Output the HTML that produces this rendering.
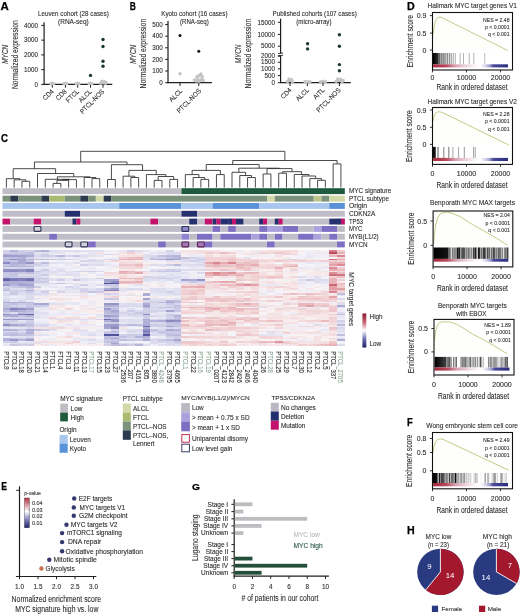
<!DOCTYPE html><html><head><meta charset="utf-8"><title>Figure</title><style>html,body{margin:0;padding:0;background:#fff;width:520px;height:614px;overflow:hidden}svg{display:block}</style></head><body><svg width="520" height="614" viewBox="0 0 520 614" font-family="'Liberation Sans', Arial, sans-serif" fill="#2b2b2b">
<rect x="0.00" y="0.00" width="520.00" height="614.00" fill="#ffffff" />
<text x="0.60" y="10.00" font-size="11.03" font-weight="bold" fill="#000" stroke="#000" stroke-width="0.25" textLength="8.30" lengthAdjust="spacingAndGlyphs">A</text>
<text x="38.00" y="16.15" font-size="6.80" textLength="70.80" lengthAdjust="spacingAndGlyphs" stroke="#2b2b2b" stroke-width="0.2" stroke-opacity="0.45">Leuven cohort (28 cases)</text>
<text x="58.00" y="24.25" font-size="6.80" textLength="30.80" lengthAdjust="spacingAndGlyphs" stroke="#2b2b2b" stroke-width="0.2" stroke-opacity="0.45">(RNA-seq)</text>
<line x1="44.10" y1="22.30" x2="44.10" y2="85.00" stroke="#1e1e1e" stroke-width="1.2" />
<line x1="43.50" y1="84.40" x2="112.30" y2="84.40" stroke="#1e1e1e" stroke-width="1.2" />
<line x1="41.30" y1="25.40" x2="44.10" y2="25.40" stroke="#1e1e1e" stroke-width="1.0" />
<text x="38.00" y="27.67" font-size="6.30" text-anchor="end" stroke="#2b2b2b" stroke-width="0.2" stroke-opacity="0.45">4000</text>
<line x1="41.30" y1="40.15" x2="44.10" y2="40.15" stroke="#1e1e1e" stroke-width="1.0" />
<text x="38.00" y="42.42" font-size="6.30" text-anchor="end" stroke="#2b2b2b" stroke-width="0.2" stroke-opacity="0.45">3000</text>
<line x1="41.30" y1="54.90" x2="44.10" y2="54.90" stroke="#1e1e1e" stroke-width="1.0" />
<text x="38.00" y="57.17" font-size="6.30" text-anchor="end" stroke="#2b2b2b" stroke-width="0.2" stroke-opacity="0.45">2000</text>
<line x1="41.30" y1="69.65" x2="44.10" y2="69.65" stroke="#1e1e1e" stroke-width="1.0" />
<text x="38.00" y="71.92" font-size="6.30" text-anchor="end" stroke="#2b2b2b" stroke-width="0.2" stroke-opacity="0.45">1000</text>
<line x1="41.30" y1="84.40" x2="44.10" y2="84.40" stroke="#1e1e1e" stroke-width="1.0" />
<text x="38.00" y="86.67" font-size="6.30" text-anchor="end" stroke="#2b2b2b" stroke-width="0.2" stroke-opacity="0.45">0</text>
<line x1="52.30" y1="84.40" x2="52.30" y2="87.70" stroke="#1e1e1e" stroke-width="1.0" />
<line x1="65.40" y1="84.40" x2="65.40" y2="87.70" stroke="#1e1e1e" stroke-width="1.0" />
<line x1="77.70" y1="84.40" x2="77.70" y2="87.70" stroke="#1e1e1e" stroke-width="1.0" />
<line x1="90.50" y1="84.40" x2="90.50" y2="87.70" stroke="#1e1e1e" stroke-width="1.0" />
<line x1="103.00" y1="84.40" x2="103.00" y2="87.70" stroke="#1e1e1e" stroke-width="1.0" />
<text transform="translate(14.90,54.60) rotate(-90)" x="0" y="3.06" font-size="8.50" text-anchor="middle" textLength="68.90" lengthAdjust="spacingAndGlyphs" stroke="#2b2b2b" stroke-width="0.2" stroke-opacity="0.45">Normalized expression</text>
<text transform="translate(4.40,54.30) rotate(-90)" x="0" y="3.24" font-size="9.00" font-style="italic" text-anchor="middle" textLength="19.00" lengthAdjust="spacingAndGlyphs" stroke="#2b2b2b" stroke-width="0.2" stroke-opacity="0.45">MYCN</text>
<circle cx="50.80" cy="83.60" r="1.7" fill="#c4c4c6" />
<circle cx="53.80" cy="83.60" r="1.7" fill="#c4c4c6" />
<circle cx="52.30" cy="83.30" r="1.7" fill="#c4c4c6" />
<circle cx="63.90" cy="83.60" r="1.7" fill="#c4c4c6" />
<circle cx="66.90" cy="83.60" r="1.7" fill="#c4c4c6" />
<circle cx="65.40" cy="83.30" r="1.7" fill="#c4c4c6" />
<circle cx="76.20" cy="83.60" r="1.7" fill="#c4c4c6" />
<circle cx="79.20" cy="83.60" r="1.7" fill="#c4c4c6" />
<circle cx="77.70" cy="83.30" r="1.7" fill="#c4c4c6" />
<circle cx="89.00" cy="83.60" r="1.7" fill="#c4c4c6" />
<circle cx="92.00" cy="83.60" r="1.7" fill="#c4c4c6" />
<circle cx="90.50" cy="83.30" r="1.7" fill="#c4c4c6" />
<circle cx="100.50" cy="83.30" r="1.7" fill="#c4c4c6" />
<circle cx="105.50" cy="83.30" r="1.7" fill="#c4c4c6" />
<circle cx="103.00" cy="82.80" r="1.7" fill="#c4c4c6" />
<circle cx="102.00" cy="81.30" r="1.7" fill="#c4c4c6" />
<circle cx="104.50" cy="81.80" r="1.7" fill="#c4c4c6" />
<circle cx="106.00" cy="82.50" r="1.7" fill="#c4c4c6" />
<circle cx="90.50" cy="75.40" r="1.7" fill="#1c3a31" />
<circle cx="103.00" cy="39.50" r="1.7" fill="#1c3a31" />
<circle cx="103.00" cy="46.50" r="1.7" fill="#1c3a31" />
<circle cx="103.00" cy="61.20" r="1.7" fill="#1c3a31" />
<circle cx="103.00" cy="66.20" r="1.7" fill="#1c3a31" />
<text transform="translate(54.10,92.00) rotate(-45)" x="0" y="0" font-size="6.8" textLength="12.40" lengthAdjust="spacingAndGlyphs" text-anchor="end" stroke="#2b2b2b" stroke-width="0.2" stroke-opacity="0.45">CD4</text>
<text transform="translate(67.20,92.00) rotate(-45)" x="0" y="0" font-size="6.8" textLength="12.40" lengthAdjust="spacingAndGlyphs" text-anchor="end" stroke="#2b2b2b" stroke-width="0.2" stroke-opacity="0.45">CD8</text>
<text transform="translate(79.50,92.00) rotate(-45)" x="0" y="0" font-size="6.8" textLength="15.50" lengthAdjust="spacingAndGlyphs" text-anchor="end" stroke="#2b2b2b" stroke-width="0.2" stroke-opacity="0.45">FTCL</text>
<text transform="translate(92.30,92.00) rotate(-45)" x="0" y="0" font-size="6.8" textLength="15.51" lengthAdjust="spacingAndGlyphs" text-anchor="end" stroke="#2b2b2b" stroke-width="0.2" stroke-opacity="0.45">ALCL</text>
<text transform="translate(104.80,92.00) rotate(-45)" x="0" y="0" font-size="6.8" textLength="31.35" lengthAdjust="spacingAndGlyphs" text-anchor="end" stroke="#2b2b2b" stroke-width="0.2" stroke-opacity="0.45">PTCL-NOS</text>
<text x="129.70" y="9.50" font-size="10.20" font-weight="bold" fill="#000" stroke="#000" stroke-width="0.25" textLength="6.10" lengthAdjust="spacingAndGlyphs">B</text>
<text x="161.20" y="16.15" font-size="6.80" textLength="66.30" lengthAdjust="spacingAndGlyphs" stroke="#2b2b2b" stroke-width="0.2" stroke-opacity="0.45">Kyoto cohort (16 cases)</text>
<text x="180.00" y="24.25" font-size="6.80" textLength="28.80" lengthAdjust="spacingAndGlyphs" stroke="#2b2b2b" stroke-width="0.2" stroke-opacity="0.45">(RNA-seq)</text>
<line x1="168.00" y1="21.00" x2="168.00" y2="83.30" stroke="#1e1e1e" stroke-width="1.2" />
<line x1="167.40" y1="82.70" x2="211.90" y2="82.70" stroke="#1e1e1e" stroke-width="1.2" />
<line x1="165.20" y1="24.60" x2="168.00" y2="24.60" stroke="#1e1e1e" stroke-width="1.0" />
<text x="162.80" y="26.87" font-size="6.30" text-anchor="end" stroke="#2b2b2b" stroke-width="0.2" stroke-opacity="0.45">500</text>
<line x1="165.20" y1="36.20" x2="168.00" y2="36.20" stroke="#1e1e1e" stroke-width="1.0" />
<text x="162.80" y="38.47" font-size="6.30" text-anchor="end" stroke="#2b2b2b" stroke-width="0.2" stroke-opacity="0.45">400</text>
<line x1="165.20" y1="47.80" x2="168.00" y2="47.80" stroke="#1e1e1e" stroke-width="1.0" />
<text x="162.80" y="50.07" font-size="6.30" text-anchor="end" stroke="#2b2b2b" stroke-width="0.2" stroke-opacity="0.45">300</text>
<line x1="165.20" y1="59.40" x2="168.00" y2="59.40" stroke="#1e1e1e" stroke-width="1.0" />
<text x="162.80" y="61.67" font-size="6.30" text-anchor="end" stroke="#2b2b2b" stroke-width="0.2" stroke-opacity="0.45">200</text>
<line x1="165.20" y1="71.00" x2="168.00" y2="71.00" stroke="#1e1e1e" stroke-width="1.0" />
<text x="162.80" y="73.27" font-size="6.30" text-anchor="end" stroke="#2b2b2b" stroke-width="0.2" stroke-opacity="0.45">100</text>
<line x1="165.20" y1="82.70" x2="168.00" y2="82.70" stroke="#1e1e1e" stroke-width="1.0" />
<text x="162.80" y="84.97" font-size="6.30" text-anchor="end" stroke="#2b2b2b" stroke-width="0.2" stroke-opacity="0.45">0</text>
<line x1="180.00" y1="82.70" x2="180.00" y2="86.00" stroke="#1e1e1e" stroke-width="1.0" />
<line x1="198.80" y1="82.70" x2="198.80" y2="86.00" stroke="#1e1e1e" stroke-width="1.0" />
<text transform="translate(142.90,53.60) rotate(-90)" x="0" y="3.06" font-size="8.50" text-anchor="middle" textLength="69.60" lengthAdjust="spacingAndGlyphs" stroke="#2b2b2b" stroke-width="0.2" stroke-opacity="0.45">Normalized expression</text>
<text transform="translate(132.40,54.30) rotate(-90)" x="0" y="3.24" font-size="9.00" font-style="italic" text-anchor="middle" textLength="19.00" lengthAdjust="spacingAndGlyphs" stroke="#2b2b2b" stroke-width="0.2" stroke-opacity="0.45">MYCN</text>
<circle cx="180.00" cy="35.60" r="1.5" fill="#111" />
<circle cx="198.80" cy="51.30" r="1.5" fill="#111" />
<circle cx="180.00" cy="73.80" r="1.7" fill="#c4c4c6" />
<circle cx="194.30" cy="80.00" r="1.7" fill="#c4c4c6" />
<circle cx="196.30" cy="81.00" r="1.7" fill="#c4c4c6" />
<circle cx="197.80" cy="79.50" r="1.7" fill="#c4c4c6" />
<circle cx="200.30" cy="80.50" r="1.7" fill="#c4c4c6" />
<circle cx="201.80" cy="79.00" r="1.7" fill="#c4c4c6" />
<circle cx="203.30" cy="80.50" r="1.7" fill="#c4c4c6" />
<circle cx="196.80" cy="77.00" r="1.7" fill="#c4c4c6" />
<circle cx="199.80" cy="75.50" r="1.7" fill="#c4c4c6" />
<circle cx="200.80" cy="74.00" r="1.7" fill="#c4c4c6" />
<circle cx="198.30" cy="76.00" r="1.7" fill="#c4c4c6" />
<circle cx="202.30" cy="76.50" r="1.7" fill="#c4c4c6" />
<circle cx="198.80" cy="81.30" r="1.7" fill="#c4c4c6" />
<text transform="translate(182.80,91.40) rotate(-45)" x="0" y="0" font-size="6.8" textLength="15.51" lengthAdjust="spacingAndGlyphs" text-anchor="end" stroke="#2b2b2b" stroke-width="0.2" stroke-opacity="0.45">ALCL</text>
<text transform="translate(201.60,91.40) rotate(-45)" x="0" y="0" font-size="6.8" textLength="31.35" lengthAdjust="spacingAndGlyphs" text-anchor="end" stroke="#2b2b2b" stroke-width="0.2" stroke-opacity="0.45">PTCL-NOS</text>
<text x="272.50" y="16.35" font-size="6.80" textLength="84.30" lengthAdjust="spacingAndGlyphs" stroke="#2b2b2b" stroke-width="0.2" stroke-opacity="0.45">Published cohorts (107 cases)</text>
<text x="296.20" y="24.25" font-size="6.80" textLength="35.30" lengthAdjust="spacingAndGlyphs" stroke="#2b2b2b" stroke-width="0.2" stroke-opacity="0.45">(micro-array)</text>
<line x1="280.60" y1="18.80" x2="280.60" y2="53.30" stroke="#1e1e1e" stroke-width="1.2" />
<line x1="280.60" y1="55.40" x2="280.60" y2="82.90" stroke="#1e1e1e" stroke-width="1.2" />
<line x1="278.10" y1="53.50" x2="283.10" y2="53.00" stroke="#1e1e1e" stroke-width="0.9" />
<line x1="278.10" y1="55.70" x2="283.10" y2="55.20" stroke="#1e1e1e" stroke-width="0.9" />
<line x1="280.00" y1="82.70" x2="350.80" y2="82.70" stroke="#1e1e1e" stroke-width="1.2" />
<line x1="277.80" y1="22.30" x2="280.60" y2="22.30" stroke="#1e1e1e" stroke-width="1.0" />
<text x="274.90" y="24.57" font-size="6.30" text-anchor="end" stroke="#2b2b2b" stroke-width="0.2" stroke-opacity="0.45">15000</text>
<line x1="277.80" y1="34.40" x2="280.60" y2="34.40" stroke="#1e1e1e" stroke-width="1.0" />
<text x="274.90" y="36.67" font-size="6.30" text-anchor="end" stroke="#2b2b2b" stroke-width="0.2" stroke-opacity="0.45">10000</text>
<line x1="277.80" y1="46.20" x2="280.60" y2="46.20" stroke="#1e1e1e" stroke-width="1.0" />
<text x="274.90" y="48.47" font-size="6.30" text-anchor="end" stroke="#2b2b2b" stroke-width="0.2" stroke-opacity="0.45">5000</text>
<line x1="277.80" y1="56.20" x2="280.60" y2="56.20" stroke="#1e1e1e" stroke-width="1.0" />
<text x="274.90" y="58.47" font-size="6.30" text-anchor="end" stroke="#2b2b2b" stroke-width="0.2" stroke-opacity="0.45">2000</text>
<line x1="277.80" y1="62.20" x2="280.60" y2="62.20" stroke="#1e1e1e" stroke-width="1.0" />
<text x="274.90" y="64.47" font-size="6.30" text-anchor="end" stroke="#2b2b2b" stroke-width="0.2" stroke-opacity="0.45">1500</text>
<line x1="277.80" y1="68.90" x2="280.60" y2="68.90" stroke="#1e1e1e" stroke-width="1.0" />
<text x="274.90" y="71.17" font-size="6.30" text-anchor="end" stroke="#2b2b2b" stroke-width="0.2" stroke-opacity="0.45">1000</text>
<line x1="277.80" y1="75.60" x2="280.60" y2="75.60" stroke="#1e1e1e" stroke-width="1.0" />
<text x="274.90" y="77.87" font-size="6.30" text-anchor="end" stroke="#2b2b2b" stroke-width="0.2" stroke-opacity="0.45">500</text>
<line x1="277.80" y1="82.70" x2="280.60" y2="82.70" stroke="#1e1e1e" stroke-width="1.0" />
<text x="274.90" y="84.97" font-size="6.30" text-anchor="end" stroke="#2b2b2b" stroke-width="0.2" stroke-opacity="0.45">0</text>
<line x1="290.00" y1="82.70" x2="290.00" y2="86.00" stroke="#1e1e1e" stroke-width="1.0" />
<line x1="307.40" y1="82.70" x2="307.40" y2="86.00" stroke="#1e1e1e" stroke-width="1.0" />
<line x1="323.00" y1="82.70" x2="323.00" y2="86.00" stroke="#1e1e1e" stroke-width="1.0" />
<line x1="339.40" y1="82.70" x2="339.40" y2="86.00" stroke="#1e1e1e" stroke-width="1.0" />
<text transform="translate(248.00,53.60) rotate(-90)" x="0" y="3.06" font-size="8.50" text-anchor="middle" textLength="69.60" lengthAdjust="spacingAndGlyphs" stroke="#2b2b2b" stroke-width="0.2" stroke-opacity="0.45">Normalized expression</text>
<text transform="translate(237.50,53.90) rotate(-90)" x="0" y="3.24" font-size="9.00" font-style="italic" text-anchor="middle" textLength="18.50" lengthAdjust="spacingAndGlyphs" stroke="#2b2b2b" stroke-width="0.2" stroke-opacity="0.45">MYCN</text>
<circle cx="287.50" cy="81.50" r="1.7" fill="#c4c4c6" />
<circle cx="290.00" cy="80.50" r="1.7" fill="#c4c4c6" />
<circle cx="292.50" cy="81.80" r="1.7" fill="#c4c4c6" />
<circle cx="289.00" cy="79.00" r="1.7" fill="#c4c4c6" />
<circle cx="291.50" cy="79.70" r="1.7" fill="#c4c4c6" />
<circle cx="304.90" cy="81.80" r="1.7" fill="#c4c4c6" />
<circle cx="307.40" cy="81.80" r="1.7" fill="#c4c4c6" />
<circle cx="309.90" cy="81.80" r="1.7" fill="#c4c4c6" />
<circle cx="320.50" cy="81.80" r="1.7" fill="#c4c4c6" />
<circle cx="323.00" cy="81.30" r="1.7" fill="#c4c4c6" />
<circle cx="325.50" cy="81.80" r="1.7" fill="#c4c4c6" />
<circle cx="336.20" cy="81.40" r="1.7" fill="#c4c4c6" />
<circle cx="339.20" cy="80.40" r="1.7" fill="#c4c4c6" />
<circle cx="342.20" cy="81.60" r="1.7" fill="#c4c4c6" />
<circle cx="337.70" cy="78.90" r="1.7" fill="#c4c4c6" />
<circle cx="340.70" cy="79.20" r="1.7" fill="#c4c4c6" />
<circle cx="343.20" cy="80.40" r="1.7" fill="#c4c4c6" />
<circle cx="307.60" cy="43.80" r="1.7" fill="#1c3a31" />
<circle cx="307.60" cy="48.90" r="1.7" fill="#1c3a31" />
<circle cx="339.40" cy="34.80" r="1.7" fill="#1c3a31" />
<circle cx="339.40" cy="46.20" r="1.7" fill="#1c3a31" />
<circle cx="339.40" cy="64.60" r="1.7" fill="#1c3a31" />
<circle cx="339.40" cy="70.80" r="1.7" fill="#1c3a31" />
<text transform="translate(292.00,90.60) rotate(-45)" x="0" y="0" font-size="6.8" textLength="12.40" lengthAdjust="spacingAndGlyphs" text-anchor="end" stroke="#2b2b2b" stroke-width="0.2" stroke-opacity="0.45">CD4</text>
<text transform="translate(309.40,90.60) rotate(-45)" x="0" y="0" font-size="6.8" textLength="15.51" lengthAdjust="spacingAndGlyphs" text-anchor="end" stroke="#2b2b2b" stroke-width="0.2" stroke-opacity="0.45">ALCL</text>
<text transform="translate(325.00,90.60) rotate(-45)" x="0" y="0" font-size="6.8" textLength="13.09" lengthAdjust="spacingAndGlyphs" text-anchor="end" stroke="#2b2b2b" stroke-width="0.2" stroke-opacity="0.45">AITL</text>
<text transform="translate(341.20,90.60) rotate(-45)" x="0" y="0" font-size="6.8" textLength="31.35" lengthAdjust="spacingAndGlyphs" text-anchor="end" stroke="#2b2b2b" stroke-width="0.2" stroke-opacity="0.45">PTCL-NOS</text>
<text x="407.10" y="10.00" font-size="10.34" font-weight="bold" fill="#000" stroke="#000" stroke-width="0.25" textLength="7.70" lengthAdjust="spacingAndGlyphs">D</text>
<polygon points="433.20,50.00 433.20,34.00 434.20,26.00 435.50,21.00 437.00,18.20 439.00,17.00 441.00,17.20 508.00,50.60 508.00,50.00" fill="#fefefa"/>
<polyline points="433.20,34.00 434.20,26.00 435.50,21.00 437.00,18.20 439.00,17.00 441.00,17.20 508.00,50.60" fill="none" stroke="#b5bf6a" stroke-width="0.8"/>
<defs><linearGradient id="bg1" x1="0" x2="1" y1="0" y2="0"><stop offset="0" stop-color="rgb(0,0,0)"/><stop offset="1" stop-color="rgb(50,50,50)"/></linearGradient></defs>
<rect x="433.00" y="53.00" width="5.60" height="11.30" fill="url(#bg1)" />
<rect x="438.65" y="53.00" width="1.10" height="11.30" fill="rgb(50,50,50)" />
<rect x="440.55" y="53.00" width="1.10" height="11.30" fill="rgb(63,63,63)" />
<rect x="442.55" y="53.00" width="1.10" height="11.30" fill="rgb(71,71,71)" />
<rect x="444.45" y="53.00" width="1.10" height="11.30" fill="rgb(89,89,89)" />
<rect x="446.65" y="53.00" width="1.10" height="11.30" fill="rgb(102,102,102)" />
<rect x="448.75" y="53.00" width="1.10" height="11.30" fill="rgb(127,127,127)" />
<rect x="450.70" y="53.00" width="1.00" height="11.30" fill="rgb(140,140,140)" />
<rect x="452.70" y="53.00" width="1.00" height="11.30" fill="rgb(158,158,158)" />
<rect x="454.80" y="53.00" width="1.00" height="11.30" fill="rgb(178,178,178)" />
<rect x="459.70" y="53.00" width="1.00" height="11.30" fill="rgb(178,178,178)" />
<rect x="463.00" y="53.00" width="1.00" height="11.30" fill="rgb(178,178,178)" />
<rect x="468.70" y="53.00" width="1.00" height="11.30" fill="rgb(178,178,178)" />
<rect x="473.30" y="53.00" width="1.00" height="11.30" fill="rgb(178,178,178)" />
<rect x="484.20" y="53.00" width="1.00" height="11.30" fill="rgb(191,191,191)" />
<defs><linearGradient id="cb1" x1="0" x2="1" y1="0" y2="0"><stop offset="0" stop-color="#a8283c"/><stop offset="0.17" stop-color="#b6485a"/><stop offset="0.3" stop-color="#d8a2b2"/><stop offset="0.45" stop-color="#eed6e0"/><stop offset="0.56" stop-color="#faf4f8"/><stop offset="0.63" stop-color="#ffffff"/><stop offset="0.7" stop-color="#d4d4ec"/><stop offset="0.76" stop-color="#9a9acc"/><stop offset="0.8" stop-color="#4a4a9c"/><stop offset="1" stop-color="#2c2c7c"/></linearGradient></defs>
<rect x="433.10" y="64.30" width="74.90" height="3.10" fill="url(#cb1)" />
<rect x="432.50" y="12.50" width="80.00" height="57.50" fill="none" stroke="#111" stroke-width="1.1"/>
<line x1="429.90" y1="15.60" x2="432.50" y2="15.60" stroke="#1e1e1e" stroke-width="0.9" />
<text x="426.50" y="18.12" font-size="7.00" text-anchor="end" stroke="#2b2b2b" stroke-width="0.2" stroke-opacity="0.45">0.9</text>
<line x1="429.90" y1="33.10" x2="432.50" y2="33.10" stroke="#1e1e1e" stroke-width="0.9" />
<text x="426.50" y="35.62" font-size="7.00" text-anchor="end" stroke="#2b2b2b" stroke-width="0.2" stroke-opacity="0.45">0.5</text>
<line x1="429.90" y1="50.00" x2="432.50" y2="50.00" stroke="#1e1e1e" stroke-width="0.9" />
<text x="426.50" y="52.52" font-size="7.00" text-anchor="end" stroke="#2b2b2b" stroke-width="0.2" stroke-opacity="0.45">0</text>
<line x1="432.50" y1="70.00" x2="432.50" y2="72.40" stroke="#1e1e1e" stroke-width="0.9" />
<text x="432.50" y="80.32" font-size="7.00" text-anchor="middle" stroke="#2b2b2b" stroke-width="0.2" stroke-opacity="0.45">0</text>
<line x1="466.50" y1="70.00" x2="466.50" y2="72.40" stroke="#1e1e1e" stroke-width="0.9" />
<text x="466.50" y="80.32" font-size="7.00" text-anchor="middle" stroke="#2b2b2b" stroke-width="0.2" stroke-opacity="0.45">10000</text>
<line x1="500.50" y1="70.00" x2="500.50" y2="72.40" stroke="#1e1e1e" stroke-width="0.9" />
<text x="500.50" y="80.32" font-size="7.00" text-anchor="middle" stroke="#2b2b2b" stroke-width="0.2" stroke-opacity="0.45">20000</text>
<text x="509.60" y="21.56" font-size="6.00" text-anchor="end" textLength="26.53" lengthAdjust="spacingAndGlyphs" stroke="#2b2b2b" stroke-width="0.2" stroke-opacity="0.45">NES = 2.48</text>
<text x="509.60" y="28.76" font-size="6.00" text-anchor="end" textLength="24.53" lengthAdjust="spacingAndGlyphs" stroke="#2b2b2b" stroke-width="0.2" stroke-opacity="0.45">p &lt; 0.0001</text>
<text x="509.60" y="35.96" font-size="6.00" text-anchor="end" textLength="21.66" lengthAdjust="spacingAndGlyphs" stroke="#2b2b2b" stroke-width="0.2" stroke-opacity="0.45">q &lt; 0.001</text>
<text x="427.50" y="8.01" font-size="6.70" textLength="89.40" lengthAdjust="spacingAndGlyphs" stroke="#2b2b2b" stroke-width="0.2" stroke-opacity="0.45">Hallmark MYC target genes V1</text>
<text x="472.00" y="90.00" font-size="8.60" text-anchor="middle" textLength="71.00" lengthAdjust="spacingAndGlyphs" stroke="#2b2b2b" stroke-width="0.2" stroke-opacity="0.45">Rank in ordered dataset</text>
<text transform="translate(409.60,41.30) rotate(-90)" x="0" y="3.06" font-size="8.50" text-anchor="middle" textLength="52.50" lengthAdjust="spacingAndGlyphs" stroke="#2b2b2b" stroke-width="0.2" stroke-opacity="0.45">Enrichment score</text>
<polygon points="433.20,144.40 433.20,121.00 434.00,116.00 435.50,113.20 437.50,112.00 439.50,111.80 442.00,112.30 508.80,145.00 508.80,144.40" fill="#fefefa"/>
<polyline points="433.20,121.00 434.00,116.00 435.50,113.20 437.50,112.00 439.50,111.80 442.00,112.30 508.80,145.00" fill="none" stroke="#b5bf6a" stroke-width="0.8"/>
<defs><linearGradient id="bg2" x1="0" x2="1" y1="0" y2="0"><stop offset="0" stop-color="rgb(0,0,0)"/><stop offset="1" stop-color="rgb(38,38,38)"/></linearGradient></defs>
<rect x="433.00" y="146.90" width="2.80" height="11.00" fill="url(#bg2)" />
<rect x="437.45" y="146.90" width="1.10" height="11.00" fill="rgb(102,102,102)" />
<rect x="443.25" y="146.90" width="1.10" height="11.00" fill="rgb(140,140,140)" />
<rect x="448.25" y="146.90" width="1.10" height="11.00" fill="rgb(127,127,127)" />
<rect x="452.40" y="146.90" width="1.00" height="11.00" fill="rgb(165,165,165)" />
<rect x="458.10" y="146.90" width="1.00" height="11.00" fill="rgb(165,165,165)" />
<rect x="463.80" y="146.90" width="1.00" height="11.00" fill="rgb(153,153,153)" />
<rect x="473.30" y="146.90" width="1.00" height="11.00" fill="rgb(140,140,140)" />
<rect x="475.00" y="146.90" width="0.80" height="11.00" fill="rgb(178,178,178)" />
<defs><linearGradient id="cb2" x1="0" x2="1" y1="0" y2="0"><stop offset="0" stop-color="#a8283c"/><stop offset="0.17" stop-color="#b6485a"/><stop offset="0.3" stop-color="#d8a2b2"/><stop offset="0.45" stop-color="#eed6e0"/><stop offset="0.56" stop-color="#faf4f8"/><stop offset="0.63" stop-color="#ffffff"/><stop offset="0.7" stop-color="#d4d4ec"/><stop offset="0.76" stop-color="#9a9acc"/><stop offset="0.8" stop-color="#4a4a9c"/><stop offset="1" stop-color="#2c2c7c"/></linearGradient></defs>
<rect x="433.10" y="157.90" width="74.90" height="3.10" fill="url(#cb2)" />
<rect x="432.50" y="107.50" width="80.00" height="56.90" fill="none" stroke="#111" stroke-width="1.1"/>
<line x1="429.90" y1="110.00" x2="432.50" y2="110.00" stroke="#1e1e1e" stroke-width="0.9" />
<text x="426.50" y="112.52" font-size="7.00" text-anchor="end" stroke="#2b2b2b" stroke-width="0.2" stroke-opacity="0.45">0.9</text>
<line x1="429.90" y1="127.30" x2="432.50" y2="127.30" stroke="#1e1e1e" stroke-width="0.9" />
<text x="426.50" y="129.82" font-size="7.00" text-anchor="end" stroke="#2b2b2b" stroke-width="0.2" stroke-opacity="0.45">0.5</text>
<line x1="429.90" y1="144.40" x2="432.50" y2="144.40" stroke="#1e1e1e" stroke-width="0.9" />
<text x="426.50" y="146.92" font-size="7.00" text-anchor="end" stroke="#2b2b2b" stroke-width="0.2" stroke-opacity="0.45">0</text>
<line x1="432.50" y1="164.40" x2="432.50" y2="166.80" stroke="#1e1e1e" stroke-width="0.9" />
<text x="432.50" y="176.32" font-size="7.00" text-anchor="middle" stroke="#2b2b2b" stroke-width="0.2" stroke-opacity="0.45">0</text>
<line x1="466.50" y1="164.40" x2="466.50" y2="166.80" stroke="#1e1e1e" stroke-width="0.9" />
<text x="466.50" y="176.32" font-size="7.00" text-anchor="middle" stroke="#2b2b2b" stroke-width="0.2" stroke-opacity="0.45">10000</text>
<line x1="500.50" y1="164.40" x2="500.50" y2="166.80" stroke="#1e1e1e" stroke-width="0.9" />
<text x="500.50" y="176.32" font-size="7.00" text-anchor="middle" stroke="#2b2b2b" stroke-width="0.2" stroke-opacity="0.45">20000</text>
<text x="509.60" y="115.96" font-size="6.00" text-anchor="end" textLength="26.53" lengthAdjust="spacingAndGlyphs" stroke="#2b2b2b" stroke-width="0.2" stroke-opacity="0.45">NES = 2.28</text>
<text x="509.60" y="123.46" font-size="6.00" text-anchor="end" textLength="24.53" lengthAdjust="spacingAndGlyphs" stroke="#2b2b2b" stroke-width="0.2" stroke-opacity="0.45">p &lt; 0.0001</text>
<text x="509.60" y="130.96" font-size="6.00" text-anchor="end" textLength="21.66" lengthAdjust="spacingAndGlyphs" stroke="#2b2b2b" stroke-width="0.2" stroke-opacity="0.45">q &lt; 0.001</text>
<text x="427.50" y="104.41" font-size="6.70" textLength="89.40" lengthAdjust="spacingAndGlyphs" stroke="#2b2b2b" stroke-width="0.2" stroke-opacity="0.45">Hallmark MYC target genes V2</text>
<text x="472.00" y="188.40" font-size="8.60" text-anchor="middle" textLength="71.00" lengthAdjust="spacingAndGlyphs" stroke="#2b2b2b" stroke-width="0.2" stroke-opacity="0.45">Rank in ordered dataset</text>
<text transform="translate(409.40,136.20) rotate(-90)" x="0" y="3.06" font-size="8.50" text-anchor="middle" textLength="51.80" lengthAdjust="spacingAndGlyphs" stroke="#2b2b2b" stroke-width="0.2" stroke-opacity="0.45">Enrichment score</text>
<polygon points="433.60,245.30 433.60,244.00 434.20,236.00 435.50,226.00 437.50,218.00 440.00,214.00 443.00,212.60 447.50,212.20 452.00,213.20 460.00,216.50 472.50,224.50 485.00,231.50 497.50,238.80 507.50,245.20 507.50,245.30" fill="#fefefa"/>
<polyline points="433.60,244.00 434.20,236.00 435.50,226.00 437.50,218.00 440.00,214.00 443.00,212.60 447.50,212.20 452.00,213.20 460.00,216.50 472.50,224.50 485.00,231.50 497.50,238.80 507.50,245.20" fill="none" stroke="#b5bf6a" stroke-width="0.8"/>
<defs><linearGradient id="bg3" x1="0" x2="1" y1="0" y2="0"><stop offset="0" stop-color="rgb(0,0,0)"/><stop offset="1" stop-color="rgb(20,20,20)"/></linearGradient></defs>
<rect x="433.60" y="247.50" width="14.40" height="11.40" fill="url(#bg3)" />
<rect x="448.00" y="247.50" width="1.22" height="11.40" fill="rgb(103,103,103)" />
<rect x="449.42" y="247.50" width="0.77" height="11.40" fill="rgb(21,21,21)" />
<rect x="450.30" y="247.50" width="0.80" height="11.40" fill="rgb(119,119,119)" />
<rect x="451.78" y="247.50" width="1.08" height="11.40" fill="rgb(121,121,121)" />
<rect x="452.64" y="247.50" width="0.99" height="11.40" fill="rgb(98,98,98)" />
<rect x="454.24" y="247.50" width="0.61" height="11.40" fill="rgb(54,54,54)" />
<rect x="455.17" y="247.50" width="1.38" height="11.40" fill="rgb(119,119,119)" />
<rect x="456.74" y="247.50" width="1.34" height="11.40" fill="rgb(27,27,27)" />
<rect x="458.24" y="247.50" width="1.31" height="11.40" fill="rgb(7,7,7)" />
<rect x="459.14" y="247.50" width="1.04" height="11.40" fill="rgb(21,21,21)" />
<rect x="460.65" y="247.50" width="0.99" height="11.40" fill="rgb(61,61,61)" />
<rect x="461.69" y="247.50" width="0.88" height="11.40" fill="rgb(79,79,79)" />
<rect x="462.43" y="247.50" width="1.32" height="11.40" fill="rgb(25,25,25)" />
<rect x="464.21" y="247.50" width="1.10" height="11.40" fill="rgb(43,43,43)" />
<rect x="465.71" y="247.50" width="1.21" height="11.40" fill="rgb(121,121,121)" />
<rect x="466.84" y="247.50" width="0.78" height="11.40" fill="rgb(115,115,115)" />
<rect x="468.07" y="247.50" width="1.01" height="11.40" fill="rgb(104,104,104)" />
<rect x="469.40" y="247.50" width="0.72" height="11.40" fill="rgb(84,84,84)" />
<rect x="470.58" y="247.50" width="0.81" height="11.40" fill="rgb(107,107,107)" />
<rect x="471.42" y="247.50" width="0.67" height="11.40" fill="rgb(88,88,88)" />
<rect x="472.80" y="247.50" width="0.95" height="11.40" fill="rgb(6,6,6)" />
<rect x="474.26" y="247.50" width="0.64" height="11.40" fill="rgb(9,9,9)" />
<rect x="475.03" y="247.50" width="1.35" height="11.40" fill="rgb(27,27,27)" />
<rect x="476.40" y="247.50" width="0.97" height="11.40" fill="rgb(117,117,117)" />
<rect x="478.04" y="247.50" width="1.32" height="11.40" fill="rgb(15,15,15)" />
<rect x="478.88" y="247.50" width="0.94" height="11.40" fill="rgb(20,20,20)" />
<rect x="480.34" y="247.50" width="1.47" height="11.40" fill="rgb(121,121,121)" />
<rect x="481.67" y="247.50" width="0.79" height="11.40" fill="rgb(38,38,38)" />
<rect x="483.01" y="247.50" width="1.13" height="11.40" fill="rgb(58,58,58)" />
<rect x="484.04" y="247.50" width="0.91" height="11.40" fill="rgb(38,38,38)" />
<rect x="484.99" y="247.50" width="1.22" height="11.40" fill="rgb(117,117,117)" />
<rect x="485.73" y="247.50" width="0.66" height="11.40" fill="rgb(108,108,108)" />
<rect x="487.10" y="247.50" width="1.09" height="11.40" fill="rgb(62,62,62)" />
<rect x="487.75" y="247.50" width="0.91" height="11.40" fill="rgb(78,78,78)" />
<rect x="488.46" y="247.50" width="1.50" height="11.40" fill="rgb(139,139,139)" />
<rect x="489.21" y="247.50" width="0.84" height="11.40" fill="rgb(97,97,97)" />
<rect x="490.52" y="247.50" width="1.02" height="11.40" fill="rgb(129,129,129)" />
<rect x="491.56" y="247.50" width="0.61" height="11.40" fill="rgb(23,23,23)" />
<rect x="492.56" y="247.50" width="1.47" height="11.40" fill="rgb(70,70,70)" />
<rect x="493.78" y="247.50" width="1.20" height="11.40" fill="rgb(73,73,73)" />
<rect x="494.74" y="247.50" width="1.05" height="11.40" fill="rgb(135,135,135)" />
<rect x="496.43" y="247.50" width="0.83" height="11.40" fill="rgb(36,36,36)" />
<rect x="497.85" y="247.50" width="0.83" height="11.40" fill="rgb(21,21,21)" />
<rect x="499.16" y="247.50" width="0.82" height="11.40" fill="rgb(90,90,90)" />
<rect x="500.10" y="247.50" width="0.92" height="11.40" fill="rgb(111,111,111)" />
<rect x="500.75" y="247.50" width="0.68" height="11.40" fill="rgb(84,84,84)" />
<rect x="502.26" y="247.50" width="0.60" height="11.40" fill="rgb(56,56,56)" />
<rect x="503.79" y="247.50" width="1.03" height="11.40" fill="rgb(113,113,113)" />
<rect x="505.05" y="247.50" width="0.86" height="11.40" fill="rgb(93,93,93)" />
<rect x="506.18" y="247.50" width="1.38" height="11.40" fill="rgb(121,121,121)" />
<rect x="506.91" y="247.50" width="0.80" height="11.40" fill="rgb(24,24,24)" />
<rect x="507.87" y="247.50" width="0.63" height="11.40" fill="rgb(85,85,85)" />
<defs><linearGradient id="cb3" x1="0" x2="1" y1="0" y2="0"><stop offset="0" stop-color="#a8283c"/><stop offset="0.17" stop-color="#b6485a"/><stop offset="0.3" stop-color="#d8a2b2"/><stop offset="0.45" stop-color="#eed6e0"/><stop offset="0.56" stop-color="#faf4f8"/><stop offset="0.63" stop-color="#ffffff"/><stop offset="0.7" stop-color="#d4d4ec"/><stop offset="0.76" stop-color="#9a9acc"/><stop offset="0.8" stop-color="#4a4a9c"/><stop offset="1" stop-color="#2c2c7c"/></linearGradient></defs>
<rect x="433.70" y="258.90" width="74.60" height="2.80" fill="url(#cb3)" />
<rect x="433.10" y="211.00" width="79.70" height="55.90" fill="none" stroke="#111" stroke-width="1.1"/>
<line x1="430.50" y1="221.00" x2="433.10" y2="221.00" stroke="#1e1e1e" stroke-width="0.9" />
<text x="427.10" y="223.52" font-size="7.00" text-anchor="end" stroke="#2b2b2b" stroke-width="0.2" stroke-opacity="0.45">0.5</text>
<line x1="430.50" y1="245.30" x2="433.10" y2="245.30" stroke="#1e1e1e" stroke-width="0.9" />
<text x="427.10" y="247.82" font-size="7.00" text-anchor="end" stroke="#2b2b2b" stroke-width="0.2" stroke-opacity="0.45">0</text>
<line x1="433.10" y1="266.90" x2="433.10" y2="269.30" stroke="#1e1e1e" stroke-width="0.9" />
<text x="433.10" y="278.82" font-size="7.00" text-anchor="middle" stroke="#2b2b2b" stroke-width="0.2" stroke-opacity="0.45">0</text>
<line x1="467.10" y1="266.90" x2="467.10" y2="269.30" stroke="#1e1e1e" stroke-width="0.9" />
<text x="467.10" y="278.82" font-size="7.00" text-anchor="middle" stroke="#2b2b2b" stroke-width="0.2" stroke-opacity="0.45">10000</text>
<line x1="501.10" y1="266.90" x2="501.10" y2="269.30" stroke="#1e1e1e" stroke-width="0.9" />
<text x="501.10" y="278.82" font-size="7.00" text-anchor="middle" stroke="#2b2b2b" stroke-width="0.2" stroke-opacity="0.45">20000</text>
<text x="510.00" y="217.16" font-size="6.00" text-anchor="end" textLength="26.53" lengthAdjust="spacingAndGlyphs" stroke="#2b2b2b" stroke-width="0.2" stroke-opacity="0.45">NES = 2.04</text>
<text x="510.00" y="224.66" font-size="6.00" text-anchor="end" textLength="24.53" lengthAdjust="spacingAndGlyphs" stroke="#2b2b2b" stroke-width="0.2" stroke-opacity="0.45">p &lt; 0.0001</text>
<text x="510.00" y="232.16" font-size="6.00" text-anchor="end" textLength="21.66" lengthAdjust="spacingAndGlyphs" stroke="#2b2b2b" stroke-width="0.2" stroke-opacity="0.45">q &lt; 0.001</text>
<text x="430.00" y="205.41" font-size="6.70" textLength="85.00" lengthAdjust="spacingAndGlyphs" stroke="#2b2b2b" stroke-width="0.2" stroke-opacity="0.45">Benporath MYC MAX targets</text>
<text x="472.45" y="290.90" font-size="8.60" text-anchor="middle" textLength="71.00" lengthAdjust="spacingAndGlyphs" stroke="#2b2b2b" stroke-width="0.2" stroke-opacity="0.45">Rank in ordered dataset</text>
<text transform="translate(410.80,238.60) rotate(-90)" x="0" y="3.06" font-size="8.50" text-anchor="middle" textLength="52.40" lengthAdjust="spacingAndGlyphs" stroke="#2b2b2b" stroke-width="0.2" stroke-opacity="0.45">Enrichment score</text>
<polygon points="434.60,351.90 434.60,340.00 435.50,332.00 437.00,326.00 439.50,322.50 443.00,321.80 450.00,322.00 456.00,323.80 464.00,328.50 472.50,334.00 485.00,340.50 495.00,346.30 507.00,353.70 507.00,351.90" fill="#fefefa"/>
<polyline points="434.60,340.00 435.50,332.00 437.00,326.00 439.50,322.50 443.00,321.80 450.00,322.00 456.00,323.80 464.00,328.50 472.50,334.00 485.00,340.50 495.00,346.30 507.00,353.70" fill="none" stroke="#b5bf6a" stroke-width="0.8"/>
<defs><linearGradient id="bg4" x1="0" x2="1" y1="0" y2="0"><stop offset="0" stop-color="rgb(0,0,0)"/><stop offset="1" stop-color="rgb(63,63,63)"/></linearGradient></defs>
<rect x="434.60" y="356.90" width="11.40" height="10.60" fill="url(#bg4)" />
<rect x="446.00" y="356.90" width="1.23" height="10.60" fill="rgb(138,138,138)" />
<rect x="447.50" y="356.90" width="0.84" height="10.60" fill="rgb(21,21,21)" />
<rect x="448.48" y="356.90" width="1.19" height="10.60" fill="rgb(50,50,50)" />
<rect x="449.52" y="356.90" width="0.96" height="10.60" fill="rgb(57,57,57)" />
<rect x="451.18" y="356.90" width="0.80" height="10.60" fill="rgb(136,136,136)" />
<rect x="453.01" y="356.90" width="0.83" height="10.60" fill="rgb(102,102,102)" />
<rect x="454.70" y="356.90" width="0.73" height="10.60" fill="rgb(64,64,64)" />
<rect x="456.07" y="356.90" width="0.75" height="10.60" fill="rgb(59,59,59)" />
<rect x="460.00" y="356.90" width="0.90" height="10.60" fill="rgb(172,172,172)" />
<rect x="460.99" y="356.90" width="1.48" height="10.60" fill="rgb(159,159,159)" />
<rect x="462.53" y="356.90" width="0.99" height="10.60" fill="rgb(39,39,39)" />
<rect x="464.41" y="356.90" width="1.22" height="10.60" fill="rgb(57,57,57)" />
<rect x="465.45" y="356.90" width="1.17" height="10.60" fill="rgb(101,101,101)" />
<rect x="466.61" y="356.90" width="1.39" height="10.60" fill="rgb(176,176,176)" />
<rect x="468.33" y="356.90" width="1.01" height="10.60" fill="rgb(161,161,161)" />
<rect x="469.55" y="356.90" width="1.05" height="10.60" fill="rgb(69,69,69)" />
<rect x="470.58" y="356.90" width="0.68" height="10.60" fill="rgb(66,66,66)" />
<rect x="471.90" y="356.90" width="1.27" height="10.60" fill="rgb(186,186,186)" />
<rect x="472.95" y="356.90" width="0.68" height="10.60" fill="rgb(110,110,110)" />
<rect x="474.61" y="356.90" width="1.08" height="10.60" fill="rgb(86,86,86)" />
<rect x="476.80" y="356.90" width="0.99" height="10.60" fill="rgb(123,123,123)" />
<rect x="478.66" y="356.90" width="1.03" height="10.60" fill="rgb(177,177,177)" />
<rect x="479.91" y="356.90" width="1.45" height="10.60" fill="rgb(69,69,69)" />
<rect x="480.88" y="356.90" width="1.23" height="10.60" fill="rgb(171,171,171)" />
<rect x="482.70" y="356.90" width="1.23" height="10.60" fill="rgb(188,188,188)" />
<rect x="488.00" y="356.90" width="0.91" height="10.60" fill="rgb(119,119,119)" />
<rect x="489.71" y="356.90" width="0.84" height="10.60" fill="rgb(46,46,46)" />
<rect x="490.99" y="356.90" width="1.17" height="10.60" fill="rgb(152,152,152)" />
<rect x="492.55" y="356.90" width="0.95" height="10.60" fill="rgb(142,142,142)" />
<rect x="493.40" y="356.90" width="1.48" height="10.60" fill="rgb(134,134,134)" />
<rect x="495.14" y="356.90" width="1.44" height="10.60" fill="rgb(138,138,138)" />
<rect x="496.51" y="356.90" width="0.63" height="10.60" fill="rgb(143,143,143)" />
<rect x="497.55" y="356.90" width="0.81" height="10.60" fill="rgb(150,150,150)" />
<rect x="499.74" y="356.90" width="0.82" height="10.60" fill="rgb(141,141,141)" />
<rect x="501.51" y="356.90" width="0.86" height="10.60" fill="rgb(49,49,49)" />
<rect x="503.53" y="356.90" width="1.11" height="10.60" fill="rgb(126,126,126)" />
<rect x="505.28" y="356.90" width="1.28" height="10.60" fill="rgb(46,46,46)" />
<rect x="506.89" y="356.90" width="0.93" height="10.60" fill="rgb(60,60,60)" />
<defs><linearGradient id="cb4" x1="0" x2="1" y1="0" y2="0"><stop offset="0" stop-color="#a8283c"/><stop offset="0.17" stop-color="#b6485a"/><stop offset="0.3" stop-color="#d8a2b2"/><stop offset="0.45" stop-color="#eed6e0"/><stop offset="0.56" stop-color="#faf4f8"/><stop offset="0.63" stop-color="#ffffff"/><stop offset="0.7" stop-color="#d4d4ec"/><stop offset="0.76" stop-color="#9a9acc"/><stop offset="0.8" stop-color="#4a4a9c"/><stop offset="1" stop-color="#2c2c7c"/></linearGradient></defs>
<rect x="434.60" y="367.50" width="74.90" height="3.10" fill="url(#cb4)" />
<rect x="434.00" y="319.40" width="80.00" height="55.60" fill="none" stroke="#111" stroke-width="1.1"/>
<line x1="431.40" y1="328.50" x2="434.00" y2="328.50" stroke="#1e1e1e" stroke-width="0.9" />
<text x="428.00" y="331.02" font-size="7.00" text-anchor="end" stroke="#2b2b2b" stroke-width="0.2" stroke-opacity="0.45">0.5</text>
<line x1="431.40" y1="351.90" x2="434.00" y2="351.90" stroke="#1e1e1e" stroke-width="0.9" />
<text x="428.00" y="354.42" font-size="7.00" text-anchor="end" stroke="#2b2b2b" stroke-width="0.2" stroke-opacity="0.45">0</text>
<line x1="434.00" y1="375.00" x2="434.00" y2="377.40" stroke="#1e1e1e" stroke-width="0.9" />
<text x="434.00" y="387.32" font-size="7.00" text-anchor="middle" stroke="#2b2b2b" stroke-width="0.2" stroke-opacity="0.45">0</text>
<line x1="468.00" y1="375.00" x2="468.00" y2="377.40" stroke="#1e1e1e" stroke-width="0.9" />
<text x="468.00" y="387.32" font-size="7.00" text-anchor="middle" stroke="#2b2b2b" stroke-width="0.2" stroke-opacity="0.45">10000</text>
<line x1="502.00" y1="375.00" x2="502.00" y2="377.40" stroke="#1e1e1e" stroke-width="0.9" />
<text x="502.00" y="387.32" font-size="7.00" text-anchor="middle" stroke="#2b2b2b" stroke-width="0.2" stroke-opacity="0.45">20000</text>
<text x="510.80" y="326.56" font-size="6.00" text-anchor="end" textLength="26.53" lengthAdjust="spacingAndGlyphs" stroke="#2b2b2b" stroke-width="0.2" stroke-opacity="0.45">NES = 1.89</text>
<text x="510.80" y="334.46" font-size="6.00" text-anchor="end" textLength="24.53" lengthAdjust="spacingAndGlyphs" stroke="#2b2b2b" stroke-width="0.2" stroke-opacity="0.45">p &lt; 0.0001</text>
<text x="510.80" y="342.16" font-size="6.00" text-anchor="end" textLength="21.66" lengthAdjust="spacingAndGlyphs" stroke="#2b2b2b" stroke-width="0.2" stroke-opacity="0.45">q &lt; 0.001</text>
<text x="437.90" y="308.01" font-size="6.70" textLength="69.00" lengthAdjust="spacingAndGlyphs" stroke="#2b2b2b" stroke-width="0.2" stroke-opacity="0.45">Benporath MYC targets</text>
<text x="456.30" y="315.51" font-size="6.70" textLength="30.20" lengthAdjust="spacingAndGlyphs" stroke="#2b2b2b" stroke-width="0.2" stroke-opacity="0.45">with EBOX</text>
<text x="473.50" y="399.40" font-size="8.60" text-anchor="middle" textLength="71.00" lengthAdjust="spacingAndGlyphs" stroke="#2b2b2b" stroke-width="0.2" stroke-opacity="0.45">Rank in ordered dataset</text>
<text transform="translate(411.00,347.00) rotate(-90)" x="0" y="3.06" font-size="8.50" text-anchor="middle" textLength="52.60" lengthAdjust="spacingAndGlyphs" stroke="#2b2b2b" stroke-width="0.2" stroke-opacity="0.45">Enrichment score</text>
<text x="407.10" y="426.30" font-size="10.47" font-weight="bold" fill="#000" stroke="#000" stroke-width="0.25" textLength="5.70" lengthAdjust="spacingAndGlyphs">F</text>
<polygon points="433.00,470.80 433.00,452.50 434.00,446.00 435.50,442.00 437.50,439.50 440.00,438.80 443.00,439.30 508.80,470.30 508.80,470.80" fill="#fefefa"/>
<polyline points="433.00,452.50 434.00,446.00 435.50,442.00 437.50,439.50 440.00,438.80 443.00,439.30 508.80,470.30" fill="none" stroke="#b5bf6a" stroke-width="0.8"/>
<defs><linearGradient id="bg5" x1="0" x2="1" y1="0" y2="0"><stop offset="0" stop-color="rgb(0,0,0)"/><stop offset="1" stop-color="rgb(20,20,20)"/></linearGradient></defs>
<rect x="433.00" y="473.00" width="4.00" height="10.00" fill="url(#bg5)" />
<rect x="437.00" y="473.00" width="0.61" height="10.00" fill="rgb(3,3,3)" />
<rect x="438.54" y="473.00" width="1.49" height="10.00" fill="rgb(85,85,85)" />
<rect x="439.19" y="473.00" width="1.21" height="10.00" fill="rgb(12,12,12)" />
<rect x="440.89" y="473.00" width="0.82" height="10.00" fill="rgb(0,0,0)" />
<rect x="441.94" y="473.00" width="0.85" height="10.00" fill="rgb(29,29,29)" />
<rect x="442.89" y="473.00" width="1.37" height="10.00" fill="rgb(78,78,78)" />
<rect x="444.61" y="473.00" width="0.80" height="10.00" fill="rgb(20,20,20)" />
<rect x="446.39" y="473.00" width="0.81" height="10.00" fill="rgb(49,49,49)" />
<rect x="447.58" y="473.00" width="0.67" height="10.00" fill="rgb(59,59,59)" />
<rect x="448.91" y="473.00" width="1.11" height="10.00" fill="rgb(65,65,65)" />
<rect x="450.70" y="473.00" width="0.96" height="10.00" fill="rgb(36,36,36)" />
<rect x="452.41" y="473.00" width="1.04" height="10.00" fill="rgb(0,0,0)" />
<rect x="454.21" y="473.00" width="0.73" height="10.00" fill="rgb(100,100,100)" />
<rect x="455.05" y="473.00" width="1.22" height="10.00" fill="rgb(6,6,6)" />
<rect x="456.58" y="473.00" width="1.05" height="10.00" fill="rgb(72,72,72)" />
<rect x="457.00" y="473.00" width="0.70" height="10.00" fill="rgb(193,193,193)" />
<rect x="458.04" y="473.00" width="1.36" height="10.00" fill="rgb(156,156,156)" />
<rect x="460.04" y="473.00" width="1.05" height="10.00" fill="rgb(163,163,163)" />
<rect x="461.34" y="473.00" width="0.92" height="10.00" fill="rgb(107,107,107)" />
<rect x="462.73" y="473.00" width="1.34" height="10.00" fill="rgb(172,172,172)" />
<rect x="464.29" y="473.00" width="0.90" height="10.00" fill="rgb(111,111,111)" />
<rect x="466.08" y="473.00" width="1.42" height="10.00" fill="rgb(196,196,196)" />
<rect x="468.54" y="473.00" width="0.70" height="10.00" fill="rgb(155,155,155)" />
<rect x="470.00" y="473.00" width="1.36" height="10.00" fill="rgb(211,211,211)" />
<rect x="473.71" y="473.00" width="0.86" height="10.00" fill="rgb(189,189,189)" />
<rect x="475.12" y="473.00" width="1.45" height="10.00" fill="rgb(179,179,179)" />
<rect x="476.83" y="473.00" width="1.03" height="10.00" fill="rgb(204,204,204)" />
<rect x="480.67" y="473.00" width="0.66" height="10.00" fill="rgb(231,231,231)" />
<rect x="484.16" y="473.00" width="1.02" height="10.00" fill="rgb(199,199,199)" />
<rect x="487.49" y="473.00" width="1.22" height="10.00" fill="rgb(198,198,198)" />
<rect x="489.45" y="473.00" width="0.61" height="10.00" fill="rgb(229,229,229)" />
<rect x="491.62" y="473.00" width="0.94" height="10.00" fill="rgb(194,194,194)" />
<rect x="493.82" y="473.00" width="1.23" height="10.00" fill="rgb(196,196,196)" />
<rect x="496.67" y="473.00" width="1.34" height="10.00" fill="rgb(215,215,215)" />
<rect x="500.05" y="473.00" width="1.40" height="10.00" fill="rgb(179,179,179)" />
<rect x="501.39" y="473.00" width="0.91" height="10.00" fill="rgb(193,193,193)" />
<rect x="503.70" y="473.00" width="0.73" height="10.00" fill="rgb(202,202,202)" />
<rect x="505.65" y="473.00" width="0.90" height="10.00" fill="rgb(174,174,174)" />
<rect x="485.00" y="473.00" width="1.00" height="10.00" fill="rgb(165,165,165)" />
<rect x="487.50" y="473.00" width="1.00" height="10.00" fill="rgb(153,153,153)" />
<rect x="493.50" y="473.00" width="1.00" height="10.00" fill="rgb(114,114,114)" />
<rect x="495.00" y="473.00" width="0.80" height="10.00" fill="rgb(140,140,140)" />
<rect x="501.40" y="473.00" width="1.00" height="10.00" fill="rgb(127,127,127)" />
<defs><linearGradient id="cb5" x1="0" x2="1" y1="0" y2="0"><stop offset="0" stop-color="#a8283c"/><stop offset="0.17" stop-color="#b6485a"/><stop offset="0.3" stop-color="#d8a2b2"/><stop offset="0.45" stop-color="#eed6e0"/><stop offset="0.56" stop-color="#faf4f8"/><stop offset="0.63" stop-color="#ffffff"/><stop offset="0.7" stop-color="#d4d4ec"/><stop offset="0.76" stop-color="#9a9acc"/><stop offset="0.8" stop-color="#4a4a9c"/><stop offset="1" stop-color="#2c2c7c"/></linearGradient></defs>
<rect x="433.10" y="483.00" width="74.90" height="3.30" fill="url(#cb5)" />
<rect x="432.50" y="432.50" width="80.00" height="56.30" fill="none" stroke="#111" stroke-width="1.1"/>
<line x1="429.90" y1="438.50" x2="432.50" y2="438.50" stroke="#1e1e1e" stroke-width="0.9" />
<text x="426.50" y="441.02" font-size="7.00" text-anchor="end" stroke="#2b2b2b" stroke-width="0.2" stroke-opacity="0.45">0.8</text>
<line x1="429.90" y1="452.50" x2="432.50" y2="452.50" stroke="#1e1e1e" stroke-width="0.9" />
<text x="426.50" y="455.02" font-size="7.00" text-anchor="end" stroke="#2b2b2b" stroke-width="0.2" stroke-opacity="0.45">0.5</text>
<line x1="429.90" y1="470.80" x2="432.50" y2="470.80" stroke="#1e1e1e" stroke-width="0.9" />
<text x="426.50" y="473.32" font-size="7.00" text-anchor="end" stroke="#2b2b2b" stroke-width="0.2" stroke-opacity="0.45">0</text>
<line x1="432.50" y1="488.80" x2="432.50" y2="491.20" stroke="#1e1e1e" stroke-width="0.9" />
<text x="432.50" y="500.82" font-size="7.00" text-anchor="middle" stroke="#2b2b2b" stroke-width="0.2" stroke-opacity="0.45">0</text>
<line x1="466.50" y1="488.80" x2="466.50" y2="491.20" stroke="#1e1e1e" stroke-width="0.9" />
<text x="466.50" y="500.82" font-size="7.00" text-anchor="middle" stroke="#2b2b2b" stroke-width="0.2" stroke-opacity="0.45">10000</text>
<line x1="500.50" y1="488.80" x2="500.50" y2="491.20" stroke="#1e1e1e" stroke-width="0.9" />
<text x="500.50" y="500.82" font-size="7.00" text-anchor="middle" stroke="#2b2b2b" stroke-width="0.2" stroke-opacity="0.45">20000</text>
<text x="509.60" y="442.16" font-size="6.00" text-anchor="end" textLength="26.53" lengthAdjust="spacingAndGlyphs" stroke="#2b2b2b" stroke-width="0.2" stroke-opacity="0.45">NES = 2.49</text>
<text x="509.60" y="449.66" font-size="6.00" text-anchor="end" textLength="24.53" lengthAdjust="spacingAndGlyphs" stroke="#2b2b2b" stroke-width="0.2" stroke-opacity="0.45">p &lt; 0.0001</text>
<text x="509.60" y="456.56" font-size="6.00" text-anchor="end" textLength="24.53" lengthAdjust="spacingAndGlyphs" stroke="#2b2b2b" stroke-width="0.2" stroke-opacity="0.45">q &lt; 0.0001</text>
<text x="426.30" y="428.41" font-size="6.70" textLength="91.70" lengthAdjust="spacingAndGlyphs" stroke="#2b2b2b" stroke-width="0.2" stroke-opacity="0.45">Wong embryonic stem cell core</text>
<text x="472.00" y="513.10" font-size="8.60" text-anchor="middle" textLength="71.00" lengthAdjust="spacingAndGlyphs" stroke="#2b2b2b" stroke-width="0.2" stroke-opacity="0.45">Rank in ordered dataset</text>
<text transform="translate(409.20,460.90) rotate(-90)" x="0" y="3.06" font-size="8.50" text-anchor="middle" textLength="52.40" lengthAdjust="spacingAndGlyphs" stroke="#2b2b2b" stroke-width="0.2" stroke-opacity="0.45">Enrichment score</text>
<text x="1.30" y="489.60" font-size="10.89" font-weight="bold" fill="#000" stroke="#000" stroke-width="0.25" textLength="5.80" lengthAdjust="spacingAndGlyphs">E</text>
<line x1="19.50" y1="486.30" x2="19.50" y2="577.10" stroke="#1e1e1e" stroke-width="1.2" />
<line x1="16.20" y1="490.30" x2="19.40" y2="490.30" stroke="#1e1e1e" stroke-width="1.0" />
<line x1="15.90" y1="576.50" x2="96.30" y2="576.50" stroke="#1e1e1e" stroke-width="1.2" />
<line x1="19.50" y1="576.50" x2="19.50" y2="579.20" stroke="#1e1e1e" stroke-width="1.0" />
<text x="19.50" y="589.30" font-size="6.40" text-anchor="middle" stroke="#2b2b2b" stroke-width="0.2" stroke-opacity="0.45">1.0</text>
<line x1="38.00" y1="576.50" x2="38.00" y2="579.20" stroke="#1e1e1e" stroke-width="1.0" />
<text x="38.00" y="589.30" font-size="6.40" text-anchor="middle" stroke="#2b2b2b" stroke-width="0.2" stroke-opacity="0.45">1.5</text>
<line x1="56.50" y1="576.50" x2="56.50" y2="579.20" stroke="#1e1e1e" stroke-width="1.0" />
<text x="56.50" y="589.30" font-size="6.40" text-anchor="middle" stroke="#2b2b2b" stroke-width="0.2" stroke-opacity="0.45">2.0</text>
<line x1="75.00" y1="576.50" x2="75.00" y2="579.20" stroke="#1e1e1e" stroke-width="1.0" />
<text x="75.00" y="589.30" font-size="6.40" text-anchor="middle" stroke="#2b2b2b" stroke-width="0.2" stroke-opacity="0.45">2.5</text>
<line x1="93.50" y1="576.50" x2="93.50" y2="579.20" stroke="#1e1e1e" stroke-width="1.0" />
<text x="93.50" y="589.30" font-size="6.40" text-anchor="middle" stroke="#2b2b2b" stroke-width="0.2" stroke-opacity="0.45">3.0</text>
<text x="11.60" y="602.16" font-size="8.50" textLength="89.40" lengthAdjust="spacingAndGlyphs" stroke="#2b2b2b" stroke-width="0.2" stroke-opacity="0.45">Normalized enrichment score</text>
<text x="15.20" y="612.06" font-size="8.50" textLength="83.20" lengthAdjust="spacingAndGlyphs" stroke="#2b2b2b" stroke-width="0.2" stroke-opacity="0.45">MYC signature high vs. low</text>
<defs><linearGradient id="pv" x1="0" x2="0" y1="0" y2="1"><stop offset="0" stop-color="#b2303f"/><stop offset="0.2" stop-color="#d98a95"/><stop offset="0.45" stop-color="#ffffff"/><stop offset="0.7" stop-color="#8e8ec4"/><stop offset="1" stop-color="#1c1c6e"/></linearGradient></defs>
<rect x="24.40" y="498.00" width="5.00" height="29.80" fill="url(#pv)" stroke="#444" stroke-width="0.4"/>
<text x="24.20" y="495.00" font-size="5.00" textLength="16.60" lengthAdjust="spacingAndGlyphs" stroke="#2b2b2b" stroke-width="0.2" stroke-opacity="0.45">p-value</text>
<text x="31.90" y="504.74" font-size="5.40" textLength="10.60" lengthAdjust="spacingAndGlyphs" stroke="#2b2b2b" stroke-width="0.2" stroke-opacity="0.45">0.04</text>
<line x1="28.40" y1="502.80" x2="29.40" y2="502.80" stroke="#222" stroke-width="0.6" />
<text x="31.90" y="511.74" font-size="5.40" textLength="10.60" lengthAdjust="spacingAndGlyphs" stroke="#2b2b2b" stroke-width="0.2" stroke-opacity="0.45">0.03</text>
<line x1="28.40" y1="509.80" x2="29.40" y2="509.80" stroke="#222" stroke-width="0.6" />
<text x="31.90" y="518.24" font-size="5.40" textLength="10.60" lengthAdjust="spacingAndGlyphs" stroke="#2b2b2b" stroke-width="0.2" stroke-opacity="0.45">0.02</text>
<line x1="28.40" y1="516.30" x2="29.40" y2="516.30" stroke="#222" stroke-width="0.6" />
<text x="31.90" y="524.94" font-size="5.40" textLength="10.60" lengthAdjust="spacingAndGlyphs" stroke="#2b2b2b" stroke-width="0.2" stroke-opacity="0.45">0.01</text>
<line x1="28.40" y1="523.00" x2="29.40" y2="523.00" stroke="#222" stroke-width="0.6" />
<circle cx="74.20" cy="498.50" r="2.2" fill="#35386f" />
<text x="78.70" y="500.77" font-size="6.30" textLength="33.60" lengthAdjust="spacingAndGlyphs" stroke="#2b2b2b" stroke-width="0.2" stroke-opacity="0.45">E2F targets</text>
<circle cx="73.80" cy="507.50" r="2.2" fill="#35386f" />
<text x="79.60" y="509.77" font-size="6.30" textLength="45.60" lengthAdjust="spacingAndGlyphs" stroke="#2b2b2b" stroke-width="0.2" stroke-opacity="0.45">MYC targets V1</text>
<circle cx="73.80" cy="515.80" r="2.2" fill="#35386f" />
<text x="79.00" y="518.07" font-size="6.30" textLength="48.70" lengthAdjust="spacingAndGlyphs" stroke="#2b2b2b" stroke-width="0.2" stroke-opacity="0.45">G2M checkpoint</text>
<circle cx="66.50" cy="524.80" r="2.2" fill="#35386f" />
<text x="70.80" y="527.07" font-size="6.30" textLength="46.70" lengthAdjust="spacingAndGlyphs" stroke="#2b2b2b" stroke-width="0.2" stroke-opacity="0.45">MYC targets V2</text>
<circle cx="62.10" cy="533.10" r="2.2" fill="#35386f" />
<text x="66.90" y="535.37" font-size="6.30" textLength="55.00" lengthAdjust="spacingAndGlyphs" stroke="#2b2b2b" stroke-width="0.2" stroke-opacity="0.45">mTORC1 signaling</text>
<circle cx="62.10" cy="542.10" r="2.2" fill="#35386f" />
<text x="67.90" y="544.37" font-size="6.30" textLength="33.30" lengthAdjust="spacingAndGlyphs" stroke="#2b2b2b" stroke-width="0.2" stroke-opacity="0.45">DNA repair</text>
<circle cx="62.10" cy="551.30" r="2.2" fill="#35386f" />
<text x="65.60" y="553.57" font-size="6.30" textLength="77.40" lengthAdjust="spacingAndGlyphs" stroke="#2b2b2b" stroke-width="0.2" stroke-opacity="0.45">Oxidative phosphorylation</text>
<circle cx="49.30" cy="559.70" r="2.2" fill="#35386f" />
<text x="53.60" y="561.97" font-size="6.30" textLength="43.30" lengthAdjust="spacingAndGlyphs" stroke="#2b2b2b" stroke-width="0.2" stroke-opacity="0.45">Mitotic spindle</text>
<circle cx="41.40" cy="568.50" r="2.2" fill="#c5724f" />
<text x="45.60" y="570.77" font-size="6.30" textLength="29.20" lengthAdjust="spacingAndGlyphs" stroke="#2b2b2b" stroke-width="0.2" stroke-opacity="0.45">Glycolysis</text>
<text x="192.00" y="490.20" font-size="9.78" font-weight="bold" fill="#000" stroke="#000" stroke-width="0.25" textLength="8.00" lengthAdjust="spacingAndGlyphs">G</text>
<line x1="234.20" y1="499.20" x2="234.20" y2="576.80" stroke="#1e1e1e" stroke-width="1.2" />
<line x1="233.60" y1="576.20" x2="328.90" y2="576.20" stroke="#1e1e1e" stroke-width="1.2" />
<line x1="231.40" y1="504.30" x2="234.20" y2="504.30" stroke="#1e1e1e" stroke-width="1.0" />
<text x="228.20" y="506.64" font-size="6.50" text-anchor="end" stroke="#2b2b2b" stroke-width="0.2" stroke-opacity="0.45">Stage I</text>
<rect x="234.80" y="502.40" width="17.66" height="3.80" fill="#bcbcc1" />
<line x1="231.40" y1="511.60" x2="234.20" y2="511.60" stroke="#1e1e1e" stroke-width="1.0" />
<text x="228.20" y="513.94" font-size="6.50" text-anchor="end" stroke="#2b2b2b" stroke-width="0.2" stroke-opacity="0.45">Stage II</text>
<rect x="234.80" y="509.70" width="8.53" height="3.80" fill="#bcbcc1" />
<line x1="231.40" y1="518.80" x2="234.20" y2="518.80" stroke="#1e1e1e" stroke-width="1.0" />
<text x="228.20" y="521.14" font-size="6.50" text-anchor="end" stroke="#2b2b2b" stroke-width="0.2" stroke-opacity="0.45">Stage III</text>
<rect x="234.80" y="516.90" width="72.44" height="3.80" fill="#bcbcc1" />
<line x1="231.40" y1="525.90" x2="234.20" y2="525.90" stroke="#1e1e1e" stroke-width="1.0" />
<text x="228.20" y="528.24" font-size="6.50" text-anchor="end" stroke="#2b2b2b" stroke-width="0.2" stroke-opacity="0.45">Stage IV</text>
<rect x="234.80" y="524.00" width="26.79" height="3.80" fill="#bcbcc1" />
<line x1="231.40" y1="533.10" x2="234.20" y2="533.10" stroke="#1e1e1e" stroke-width="1.0" />
<text x="228.20" y="535.44" font-size="6.50" text-anchor="end" stroke="#2b2b2b" stroke-width="0.2" stroke-opacity="0.45">Unknown</text>
<rect x="234.80" y="531.20" width="8.53" height="3.80" fill="#bcbcc1" />
<line x1="231.40" y1="544.60" x2="234.20" y2="544.60" stroke="#1e1e1e" stroke-width="1.0" />
<text x="228.20" y="546.94" font-size="6.50" text-anchor="end" stroke="#2b2b2b" stroke-width="0.2" stroke-opacity="0.45">Stage I</text>
<line x1="231.40" y1="551.60" x2="234.20" y2="551.60" stroke="#1e1e1e" stroke-width="1.0" />
<text x="228.20" y="553.94" font-size="6.50" text-anchor="end" stroke="#2b2b2b" stroke-width="0.2" stroke-opacity="0.45">Stage II</text>
<line x1="231.40" y1="558.60" x2="234.20" y2="558.60" stroke="#1e1e1e" stroke-width="1.0" />
<text x="228.20" y="560.94" font-size="6.50" text-anchor="end" stroke="#2b2b2b" stroke-width="0.2" stroke-opacity="0.45">Stage III</text>
<rect x="234.80" y="556.70" width="17.66" height="3.80" fill="#24503b" />
<line x1="231.40" y1="565.70" x2="234.20" y2="565.70" stroke="#1e1e1e" stroke-width="1.0" />
<text x="228.20" y="568.04" font-size="6.50" text-anchor="end" stroke="#2b2b2b" stroke-width="0.2" stroke-opacity="0.45">Stage IV</text>
<rect x="234.80" y="563.80" width="72.44" height="3.80" fill="#24503b" />
<line x1="231.40" y1="572.80" x2="234.20" y2="572.80" stroke="#1e1e1e" stroke-width="1.0" />
<text x="228.20" y="575.14" font-size="6.50" text-anchor="end" stroke="#2b2b2b" stroke-width="0.2" stroke-opacity="0.45">Unknown</text>
<rect x="234.80" y="570.90" width="26.79" height="3.80" fill="#24503b" />
<line x1="234.20" y1="576.20" x2="234.20" y2="578.90" stroke="#1e1e1e" stroke-width="1.0" />
<text x="234.20" y="589.10" font-size="6.40" text-anchor="middle" stroke="#2b2b2b" stroke-width="0.2" stroke-opacity="0.45">0</text>
<line x1="252.46" y1="576.20" x2="252.46" y2="578.90" stroke="#1e1e1e" stroke-width="1.0" />
<text x="252.46" y="589.10" font-size="6.40" text-anchor="middle" stroke="#2b2b2b" stroke-width="0.2" stroke-opacity="0.45">2</text>
<line x1="270.72" y1="576.20" x2="270.72" y2="578.90" stroke="#1e1e1e" stroke-width="1.0" />
<text x="270.72" y="589.10" font-size="6.40" text-anchor="middle" stroke="#2b2b2b" stroke-width="0.2" stroke-opacity="0.45">4</text>
<line x1="288.98" y1="576.20" x2="288.98" y2="578.90" stroke="#1e1e1e" stroke-width="1.0" />
<text x="288.98" y="589.10" font-size="6.40" text-anchor="middle" stroke="#2b2b2b" stroke-width="0.2" stroke-opacity="0.45">6</text>
<line x1="307.24" y1="576.20" x2="307.24" y2="578.90" stroke="#1e1e1e" stroke-width="1.0" />
<text x="307.24" y="589.10" font-size="6.40" text-anchor="middle" stroke="#2b2b2b" stroke-width="0.2" stroke-opacity="0.45">8</text>
<line x1="325.50" y1="576.20" x2="325.50" y2="578.90" stroke="#1e1e1e" stroke-width="1.0" />
<text x="325.50" y="589.10" font-size="6.40" text-anchor="middle" stroke="#2b2b2b" stroke-width="0.2" stroke-opacity="0.45">10</text>
<text x="241.60" y="601.06" font-size="8.50" textLength="76.80" lengthAdjust="spacingAndGlyphs" stroke="#2b2b2b" stroke-width="0.2" stroke-opacity="0.45"># of patients in our cohort</text>
<text x="293.50" y="537.07" font-size="6.30" fill="#b9b9b9" textLength="26.30" lengthAdjust="spacingAndGlyphs" stroke="#b9b9b9" stroke-width="0.2" stroke-opacity="0.45">MYC low</text>
<text x="293.50" y="547.87" font-size="6.30" fill="#24503b" textLength="29.30" lengthAdjust="spacingAndGlyphs" stroke="#24503b" stroke-width="0.2" stroke-opacity="0.45">MYC high</text>
<text transform="translate(194.80,537.70) rotate(-90)" x="0" y="3.06" font-size="8.50" text-anchor="middle" textLength="46.60" lengthAdjust="spacingAndGlyphs" stroke="#2b2b2b" stroke-width="0.2" stroke-opacity="0.45">Lugano staging</text>
<text x="407.00" y="533.80" font-size="11.31" font-weight="bold" fill="#000" stroke="#000" stroke-width="0.25" textLength="7.70" lengthAdjust="spacingAndGlyphs">H</text>
<circle cx="440.4" cy="571.9" r="23.2" fill="#2a3a80"/>
<path d="M440.4,571.9 L440.4,548.6999999999999 A23.2,23.2 0 1 1 425.76,589.90 Z" fill="#a3182c"/>
<line x1="440.40" y1="571.90" x2="440.40" y2="548.70" stroke="#fff" stroke-width="0.9" />
<line x1="440.40" y1="571.90" x2="425.76" y2="589.90" stroke="#fff" stroke-width="0.9" />
<circle cx="496.4" cy="571.9" r="23.2" fill="#2a3a80"/>
<path d="M496.4,571.9 L496.4,548.6999999999999 A23.2,23.2 0 0 1 516.49,583.50 Z" fill="#a3182c"/>
<line x1="496.40" y1="571.90" x2="496.40" y2="548.70" stroke="#fff" stroke-width="0.9" />
<line x1="496.40" y1="571.90" x2="516.49" y2="583.50" stroke="#fff" stroke-width="0.9" />
<text x="425.60" y="539.28" font-size="6.60" textLength="25.70" lengthAdjust="spacingAndGlyphs" stroke="#2b2b2b" stroke-width="0.2" stroke-opacity="0.45">MYC low</text>
<text x="428.00" y="547.18" font-size="6.60" textLength="21.00" lengthAdjust="spacingAndGlyphs" stroke="#2b2b2b" stroke-width="0.2" stroke-opacity="0.45">(n = 23)</text>
<text x="482.80" y="539.28" font-size="6.60" textLength="29.10" lengthAdjust="spacingAndGlyphs" stroke="#2b2b2b" stroke-width="0.2" stroke-opacity="0.45">MYC high</text>
<text x="486.90" y="547.18" font-size="6.60" textLength="22.50" lengthAdjust="spacingAndGlyphs" stroke="#2b2b2b" stroke-width="0.2" stroke-opacity="0.45">(n = 21)</text>
<text x="429.40" y="569.11" font-size="7.80" fill="#fff" text-anchor="middle">9</text>
<text x="450.00" y="578.41" font-size="7.80" fill="#fff" text-anchor="middle">14</text>
<text x="510.00" y="567.81" font-size="7.80" fill="#fff" text-anchor="middle">7</text>
<text x="485.90" y="580.11" font-size="7.80" fill="#fff" text-anchor="middle">14</text>
<rect x="431.90" y="605.70" width="6.20" height="6.30" fill="#2a3a80" />
<text x="441.50" y="611.23" font-size="6.20" stroke="#2b2b2b" stroke-width="0.2" stroke-opacity="0.45">Female</text>
<rect x="479.00" y="605.70" width="6.20" height="6.30" fill="#a3182c" />
<text x="487.70" y="611.23" font-size="6.20" stroke="#2b2b2b" stroke-width="0.2" stroke-opacity="0.45">Male</text>
<text x="1.00" y="141.80" font-size="11.31" font-weight="bold" fill="#000" stroke="#000" stroke-width="0.25" textLength="7.00" lengthAdjust="spacingAndGlyphs">C</text>
<path d="M80.70,162.00V151.30H284.87V160.50 M34.41,168.70V162.00H126.98V164.70 M13.20,178.70V168.70H55.62V173.50 M6.39,187.60V178.70H20.00V179.80 M14.17,187.60V179.80H25.84V181.30 M21.95,187.60V181.30H29.73V187.60 M37.51,187.60V173.50H73.74V176.80 M57.45,179.30V176.80H90.03V177.50 M45.29,187.60V179.30H69.60V179.60 M62.80,180.40V179.60H76.41V187.60 M56.96,183.40V180.40H68.63V187.60 M53.07,187.60V183.40H60.85V187.60 M84.19,187.60V177.50H95.86V178.60 M91.97,187.60V178.60H99.75V187.60 M111.42,179.50V164.70H142.54V170.40 M107.53,187.60V179.50H115.31V187.60 M128.93,176.20V170.40H156.16V174.60 M123.09,187.60V176.20H134.76V177.50 M130.87,187.60V177.50H138.65V187.60 M146.43,187.60V174.60H165.88V176.50 M158.10,180.40V176.50H173.66V179.40 M154.21,187.60V180.40H161.99V187.60 M169.77,187.60V179.40H177.55V187.60 M232.71,164.50V160.50H337.04V163.90 M206.24,170.40V164.50H259.18V168.20 M192.14,174.60V170.40H220.34V174.60 M185.33,187.60V174.60H198.95V177.50 M193.11,187.60V177.50H204.78V179.40 M200.89,187.60V179.40H208.67V187.60 M216.45,187.60V174.60H224.23V187.60 M238.82,172.30V168.20H279.54V168.60 M232.01,187.60V172.30H245.62V175.50 M239.79,187.60V175.50H251.46V177.50 M247.57,187.60V177.50H255.35V187.60 M267.02,174.00V168.60H292.06V171.70 M263.13,187.60V174.00H270.91V187.60 M282.58,173.20V171.70H301.54V174.50 M278.69,187.60V173.20H286.47V187.60 M294.25,187.60V174.50H308.84V176.00 M302.03,187.60V176.00H315.64V178.60 M309.81,187.60V178.60H321.48V180.30 M317.59,187.60V180.30H325.37V187.60 M333.15,187.60V163.90H340.93V187.60" fill="none" stroke="#2a2a2a" stroke-width="0.85"/>
<rect x="2.50" y="188.20" width="178.94" height="5.90" fill="#bfbdc7" />
<rect x="181.44" y="188.20" width="163.38" height="5.90" fill="#1f5a3c" />
<rect x="2.50" y="195.70" width="7.78" height="5.90" fill="#7a927b" />
<rect x="10.28" y="195.70" width="7.78" height="5.90" fill="#2e3a4d" />
<rect x="18.06" y="195.70" width="23.34" height="5.90" fill="#7a927b" />
<rect x="41.40" y="195.70" width="7.78" height="5.90" fill="#2e3a4d" />
<rect x="49.18" y="195.70" width="15.56" height="5.90" fill="#a9bb72" />
<rect x="64.74" y="195.70" width="15.56" height="5.90" fill="#7a927b" />
<rect x="80.30" y="195.70" width="7.78" height="5.90" fill="#2e3a4d" />
<rect x="88.08" y="195.70" width="7.78" height="5.90" fill="#7a927b" />
<rect x="95.86" y="195.70" width="7.78" height="5.90" fill="#d2d8a7" />
<rect x="103.64" y="195.70" width="7.78" height="5.90" fill="#2e3a4d" />
<rect x="111.42" y="195.70" width="155.60" height="5.90" fill="#7a927b" />
<rect x="267.02" y="195.70" width="7.78" height="5.90" fill="#d2d8a7" />
<rect x="274.80" y="195.70" width="38.90" height="5.90" fill="#7a927b" />
<rect x="313.70" y="195.70" width="7.78" height="5.90" fill="#bcc48e" />
<rect x="321.48" y="195.70" width="7.78" height="5.90" fill="#7a927b" />
<rect x="329.26" y="195.70" width="15.56" height="5.90" fill="#d2d8a7" />
<rect x="2.50" y="203.00" width="116.70" height="5.90" fill="#a9c6ee" />
<rect x="119.20" y="203.00" width="62.24" height="5.90" fill="#5a92da" />
<rect x="181.44" y="203.00" width="31.12" height="5.90" fill="#a9c6ee" />
<rect x="212.56" y="203.00" width="46.68" height="5.90" fill="#5a92da" />
<rect x="259.24" y="203.00" width="70.02" height="5.90" fill="#a9c6ee" />
<rect x="329.26" y="203.00" width="15.56" height="5.90" fill="#5a92da" />
<rect x="2.50" y="210.80" width="62.24" height="5.90" fill="#bfbdc7" />
<rect x="64.74" y="210.80" width="15.56" height="5.90" fill="#27306f" />
<rect x="80.30" y="210.80" width="101.14" height="5.90" fill="#bfbdc7" />
<rect x="181.44" y="210.80" width="15.56" height="5.90" fill="#27306f" />
<rect x="197.00" y="210.80" width="147.82" height="5.90" fill="#bfbdc7" />
<rect x="2.50" y="218.60" width="7.78" height="5.90" fill="#c2146d" />
<rect x="10.28" y="218.60" width="23.34" height="5.90" fill="#bfbdc7" />
<rect x="33.62" y="218.60" width="7.78" height="5.90" fill="#c2146d" />
<rect x="41.40" y="218.60" width="108.92" height="5.90" fill="#bfbdc7" />
<rect x="150.32" y="218.60" width="7.78" height="5.90" fill="#c2146d" />
<rect x="158.10" y="218.60" width="31.12" height="5.90" fill="#bfbdc7" />
<rect x="189.22" y="218.60" width="7.78" height="5.90" fill="#27306f" />
<rect x="197.00" y="218.60" width="7.78" height="5.90" fill="#bfbdc7" />
<rect x="204.78" y="218.60" width="7.78" height="5.90" fill="#c2146d" />
<rect x="212.56" y="218.60" width="7.78" height="5.90" fill="#bfbdc7" />
<rect x="220.34" y="218.60" width="7.78" height="5.90" fill="#27306f" />
<rect x="228.12" y="218.60" width="7.78" height="5.90" fill="#bfbdc7" />
<rect x="235.90" y="218.60" width="7.78" height="5.90" fill="#27306f" />
<rect x="243.68" y="218.60" width="85.58" height="5.90" fill="#bfbdc7" />
<rect x="329.26" y="218.60" width="7.78" height="5.90" fill="#27306f" />
<rect x="337.04" y="218.60" width="7.78" height="5.90" fill="#bfbdc7" />
<rect x="72.52" y="218.60" width="3.89" height="5.90" fill="#27306f" />
<rect x="76.41" y="218.60" width="3.89" height="5.90" fill="#c2146d" />
<rect x="212.56" y="218.60" width="3.89" height="5.90" fill="#27306f" />
<rect x="216.45" y="218.60" width="3.89" height="5.90" fill="#c2146d" />
<rect x="228.12" y="218.60" width="3.89" height="5.90" fill="#27306f" />
<rect x="232.01" y="218.60" width="3.89" height="5.90" fill="#c2146d" />
<rect x="259.24" y="218.60" width="3.89" height="5.90" fill="#27306f" />
<rect x="263.13" y="218.60" width="3.89" height="5.90" fill="#c2146d" />
<rect x="274.80" y="218.60" width="3.89" height="5.90" fill="#27306f" />
<rect x="278.69" y="218.60" width="3.89" height="5.90" fill="#c2146d" />
<rect x="337.04" y="218.60" width="3.89" height="5.90" fill="#27306f" />
<rect x="340.93" y="218.60" width="3.89" height="5.90" fill="#c2146d" />
<rect x="2.50" y="226.00" width="178.94" height="5.90" fill="#bfbdc7" />
<rect x="181.44" y="226.00" width="7.78" height="5.90" fill="#9088cc" />
<rect x="189.22" y="226.00" width="23.34" height="5.90" fill="#bfbdc7" />
<rect x="212.56" y="226.00" width="7.78" height="5.90" fill="#7f6fc2" />
<rect x="220.34" y="226.00" width="7.78" height="5.90" fill="#bfbdc7" />
<rect x="228.12" y="226.00" width="7.78" height="5.90" fill="#7f6fc2" />
<rect x="235.90" y="226.00" width="23.34" height="5.90" fill="#bfbdc7" />
<rect x="259.24" y="226.00" width="7.78" height="5.90" fill="#7f6fc2" />
<rect x="267.02" y="226.00" width="15.56" height="5.90" fill="#aba1dc" />
<rect x="282.58" y="226.00" width="15.56" height="5.90" fill="#7f6fc2" />
<rect x="298.14" y="226.00" width="15.56" height="5.90" fill="#bfbdc7" />
<rect x="313.70" y="226.00" width="7.78" height="5.90" fill="#aba1dc" />
<rect x="321.48" y="226.00" width="15.56" height="5.90" fill="#7f6fc2" />
<rect x="337.04" y="226.00" width="7.78" height="5.90" fill="#bfbdc7" />
<rect x="2.50" y="233.80" width="46.68" height="5.90" fill="#bfbdc7" />
<rect x="49.18" y="233.80" width="7.78" height="5.90" fill="#7f6fc2" />
<rect x="56.96" y="233.80" width="124.48" height="5.90" fill="#bfbdc7" />
<rect x="181.44" y="233.80" width="7.78" height="5.90" fill="#8f84d2" />
<rect x="189.22" y="233.80" width="7.78" height="5.90" fill="#bfbdc7" />
<rect x="197.00" y="233.80" width="15.56" height="5.90" fill="#7f6fc2" />
<rect x="212.56" y="233.80" width="7.78" height="5.90" fill="#bfbdc7" />
<rect x="220.34" y="233.80" width="31.12" height="5.90" fill="#7f6fc2" />
<rect x="251.46" y="233.80" width="7.78" height="5.90" fill="#aba1dc" />
<rect x="259.24" y="233.80" width="7.78" height="5.90" fill="#7f6fc2" />
<rect x="267.02" y="233.80" width="7.78" height="5.90" fill="#bfbdc7" />
<rect x="274.80" y="233.80" width="7.78" height="5.90" fill="#7f6fc2" />
<rect x="282.58" y="233.80" width="15.56" height="5.90" fill="#bfbdc7" />
<rect x="298.14" y="233.80" width="15.56" height="5.90" fill="#7f6fc2" />
<rect x="313.70" y="233.80" width="7.78" height="5.90" fill="#aba1dc" />
<rect x="321.48" y="233.80" width="7.78" height="5.90" fill="#bfbdc7" />
<rect x="329.26" y="233.80" width="7.78" height="5.90" fill="#7f6fc2" />
<rect x="337.04" y="233.80" width="7.78" height="5.90" fill="#bfbdc7" />
<rect x="2.50" y="241.50" width="85.58" height="5.90" fill="#bfbdc7" />
<rect x="88.08" y="241.50" width="7.78" height="5.90" fill="#7f6fc2" />
<rect x="95.86" y="241.50" width="62.24" height="5.90" fill="#bfbdc7" />
<rect x="158.10" y="241.50" width="7.78" height="5.90" fill="#7f6fc2" />
<rect x="165.88" y="241.50" width="15.56" height="5.90" fill="#bfbdc7" />
<rect x="181.44" y="241.50" width="7.78" height="5.90" fill="#a37ab8" />
<rect x="189.22" y="241.50" width="7.78" height="5.90" fill="#bfbdc7" />
<rect x="197.00" y="241.50" width="7.78" height="5.90" fill="#a37ab8" />
<rect x="204.78" y="241.50" width="7.78" height="5.90" fill="#7f6fc2" />
<rect x="212.56" y="241.50" width="54.46" height="5.90" fill="#bfbdc7" />
<rect x="267.02" y="241.50" width="7.78" height="5.90" fill="#7f6fc2" />
<rect x="274.80" y="241.50" width="62.24" height="5.90" fill="#bfbdc7" />
<rect x="337.04" y="241.50" width="7.78" height="5.90" fill="#7f6fc2" />
<rect x="34.12" y="226.50" width="6.78" height="4.90" rx="0.8" fill="#d2d1da" stroke="#2f3358" stroke-width="1.15"/>
<rect x="181.94" y="226.50" width="6.78" height="4.90" rx="0.8" fill="none" stroke="#2f3358" stroke-width="1.15"/>
<rect x="65.24" y="242.00" width="6.78" height="4.90" rx="0.8" fill="#d2d1da" stroke="#2f3358" stroke-width="1.15"/>
<rect x="80.80" y="242.00" width="6.78" height="4.90" rx="0.8" fill="#d2d1da" stroke="#2f3358" stroke-width="1.15"/>
<rect x="181.94" y="242.00" width="6.78" height="4.90" rx="0.8" fill="none" stroke="#5b2753" stroke-width="1.15"/>
<rect x="197.50" y="242.00" width="6.78" height="4.90" rx="0.8" fill="none" stroke="#5b2753" stroke-width="1.15"/>
<text x="349.00" y="193.49" font-size="6.50" textLength="42.30" lengthAdjust="spacingAndGlyphs" stroke="#2b2b2b" stroke-width="0.2" stroke-opacity="0.45">MYC signature</text>
<text x="349.00" y="200.99" font-size="6.50" textLength="40.00" lengthAdjust="spacingAndGlyphs" stroke="#2b2b2b" stroke-width="0.2" stroke-opacity="0.45">PTCL subtype</text>
<text x="349.00" y="208.29" font-size="6.50" textLength="18.10" lengthAdjust="spacingAndGlyphs" stroke="#2b2b2b" stroke-width="0.2" stroke-opacity="0.45">Origin</text>
<text x="349.00" y="216.09" font-size="6.50" textLength="26.20" lengthAdjust="spacingAndGlyphs" stroke="#2b2b2b" stroke-width="0.2" stroke-opacity="0.45">CDKN2A</text>
<text x="349.00" y="223.89" font-size="6.50" textLength="14.10" lengthAdjust="spacingAndGlyphs" stroke="#2b2b2b" stroke-width="0.2" stroke-opacity="0.45">TP53</text>
<text x="349.00" y="231.29" font-size="6.50" textLength="13.50" lengthAdjust="spacingAndGlyphs" stroke="#2b2b2b" stroke-width="0.2" stroke-opacity="0.45">MYC</text>
<text x="349.00" y="239.09" font-size="6.50" textLength="29.70" lengthAdjust="spacingAndGlyphs" stroke="#2b2b2b" stroke-width="0.2" stroke-opacity="0.45">MYB(L1/2)</text>
<text x="349.00" y="246.79" font-size="6.50" textLength="18.70" lengthAdjust="spacingAndGlyphs" stroke="#2b2b2b" stroke-width="0.2" stroke-opacity="0.45">MYCN</text>
<defs><filter id="hb" x="-1%" y="-1%" width="102%" height="102%"><feGaussianBlur stdDeviation="0.35"/></filter></defs>
<g shape-rendering="crispEdges" filter="url(#hb)">
<rect x="2.50" y="250.20" width="7.83" height="1.76" fill="#d2d1e9" />
<rect x="2.50" y="251.91" width="7.83" height="1.76" fill="#d2d1e9" />
<rect x="2.50" y="253.63" width="7.83" height="1.76" fill="#b2b1d8" />
<rect x="2.50" y="255.34" width="7.83" height="1.76" fill="#9f9ecd" />
<rect x="2.50" y="257.06" width="7.83" height="1.76" fill="#c2c1e0" />
<rect x="2.50" y="258.77" width="7.83" height="1.76" fill="#b7b6da" />
<rect x="2.50" y="260.49" width="7.83" height="1.76" fill="#bebdde" />
<rect x="2.50" y="262.20" width="7.83" height="1.76" fill="#8c8bc1" />
<rect x="2.50" y="263.91" width="7.83" height="1.76" fill="#c5c4e2" />
<rect x="2.50" y="265.63" width="7.83" height="1.76" fill="#bab9dd" />
<rect x="2.50" y="267.34" width="7.83" height="1.76" fill="#d5d4ea" />
<rect x="2.50" y="269.06" width="7.83" height="1.76" fill="#9392c6" />
<rect x="2.50" y="270.77" width="7.83" height="1.76" fill="#8c8bc1" />
<rect x="2.50" y="272.49" width="7.83" height="1.76" fill="#c5c4e2" />
<rect x="2.50" y="274.20" width="7.83" height="1.76" fill="#cdcce6" />
<rect x="2.50" y="275.91" width="7.83" height="1.76" fill="#c3c2e1" />
<rect x="2.50" y="277.63" width="7.83" height="1.76" fill="#7372b2" />
<rect x="2.50" y="279.34" width="7.83" height="1.76" fill="#6363a8" />
<rect x="2.50" y="281.06" width="7.83" height="1.76" fill="#adacd5" />
<rect x="2.50" y="282.77" width="7.83" height="1.76" fill="#b3b2d9" />
<rect x="2.50" y="284.49" width="7.83" height="1.76" fill="#9a99ca" />
<rect x="2.50" y="286.20" width="7.83" height="1.76" fill="#d2d1e9" />
<rect x="2.50" y="287.91" width="7.83" height="1.76" fill="#c8c7e4" />
<rect x="2.50" y="289.63" width="7.83" height="1.76" fill="#bcbbdd" />
<rect x="2.50" y="291.34" width="7.83" height="1.76" fill="#e2e1f0" />
<rect x="2.50" y="293.06" width="7.83" height="1.76" fill="#dcdbee" />
<rect x="2.50" y="294.77" width="7.83" height="1.76" fill="#d9d8ec" />
<rect x="2.50" y="296.49" width="7.83" height="1.76" fill="#e5e4f2" />
<rect x="2.50" y="298.20" width="7.83" height="1.76" fill="#dddcef" />
<rect x="2.50" y="299.91" width="7.83" height="1.76" fill="#d3d2e9" />
<rect x="2.50" y="301.63" width="7.83" height="1.76" fill="#afaed7" />
<rect x="2.50" y="303.34" width="7.83" height="1.76" fill="#cac9e5" />
<rect x="2.50" y="305.06" width="7.83" height="1.76" fill="#c3c2e1" />
<rect x="2.50" y="306.77" width="7.83" height="1.76" fill="#c4c3e2" />
<rect x="2.50" y="308.49" width="7.83" height="1.76" fill="#acabd5" />
<rect x="2.50" y="310.20" width="7.83" height="1.76" fill="#bdbcde" />
<rect x="2.50" y="311.91" width="7.83" height="1.76" fill="#cecde7" />
<rect x="2.50" y="313.63" width="7.83" height="1.76" fill="#9493c6" />
<rect x="2.50" y="315.34" width="7.83" height="1.76" fill="#b2b1d8" />
<rect x="2.50" y="317.06" width="7.83" height="1.76" fill="#d9d8ec" />
<rect x="2.50" y="318.77" width="7.83" height="1.76" fill="#9494c6" />
<rect x="2.50" y="320.49" width="7.83" height="1.76" fill="#d5d4ea" />
<rect x="2.50" y="322.20" width="7.83" height="1.76" fill="#c8c7e3" />
<rect x="2.50" y="323.91" width="7.83" height="1.76" fill="#8e8dc2" />
<rect x="2.50" y="325.63" width="7.83" height="1.76" fill="#d0cfe8" />
<rect x="2.50" y="327.34" width="7.83" height="1.76" fill="#e1e0f0" />
<rect x="2.50" y="329.06" width="7.83" height="1.76" fill="#b1b0d8" />
<rect x="2.50" y="330.77" width="7.83" height="1.76" fill="#dad9ed" />
<rect x="2.50" y="332.49" width="7.83" height="1.76" fill="#c9c8e4" />
<rect x="2.50" y="334.20" width="7.83" height="1.76" fill="#bebddf" />
<rect x="2.50" y="335.91" width="7.83" height="1.76" fill="#edecf6" />
<rect x="2.50" y="337.63" width="7.83" height="1.76" fill="#b3b2d9" />
<rect x="2.50" y="339.34" width="7.83" height="1.76" fill="#b1b0d8" />
<rect x="2.50" y="341.06" width="7.83" height="1.76" fill="#d1d0e8" />
<rect x="2.50" y="342.77" width="7.83" height="1.76" fill="#eae9f5" />
<rect x="2.50" y="344.49" width="7.83" height="1.76" fill="#e6e5f3" />
<rect x="10.28" y="250.20" width="7.83" height="1.76" fill="#b6b5da" />
<rect x="10.28" y="251.91" width="7.83" height="1.76" fill="#c9c8e4" />
<rect x="10.28" y="253.63" width="7.83" height="1.76" fill="#c1c0e0" />
<rect x="10.28" y="255.34" width="7.83" height="1.76" fill="#9c9bcb" />
<rect x="10.28" y="257.06" width="7.83" height="1.76" fill="#c2c1e1" />
<rect x="10.28" y="258.77" width="7.83" height="1.76" fill="#8f8ec3" />
<rect x="10.28" y="260.49" width="7.83" height="1.76" fill="#cac9e5" />
<rect x="10.28" y="262.20" width="7.83" height="1.76" fill="#b2b1d8" />
<rect x="10.28" y="263.91" width="7.83" height="1.76" fill="#b9b8dc" />
<rect x="10.28" y="265.63" width="7.83" height="1.76" fill="#b1b0d8" />
<rect x="10.28" y="267.34" width="7.83" height="1.76" fill="#dbdaed" />
<rect x="10.28" y="269.06" width="7.83" height="1.76" fill="#908fc3" />
<rect x="10.28" y="270.77" width="7.83" height="1.76" fill="#8b8ac1" />
<rect x="10.28" y="272.49" width="7.83" height="1.76" fill="#c4c3e1" />
<rect x="10.28" y="274.20" width="7.83" height="1.76" fill="#c1c0e0" />
<rect x="10.28" y="275.91" width="7.83" height="1.76" fill="#cac9e5" />
<rect x="10.28" y="277.63" width="7.83" height="1.76" fill="#807fba" />
<rect x="10.28" y="279.34" width="7.83" height="1.76" fill="#7978b6" />
<rect x="10.28" y="281.06" width="7.83" height="1.76" fill="#b0afd7" />
<rect x="10.28" y="282.77" width="7.83" height="1.76" fill="#abaad4" />
<rect x="10.28" y="284.49" width="7.83" height="1.76" fill="#b5b4da" />
<rect x="10.28" y="286.20" width="7.83" height="1.76" fill="#cdcce6" />
<rect x="10.28" y="287.91" width="7.83" height="1.76" fill="#deddef" />
<rect x="10.28" y="289.63" width="7.83" height="1.76" fill="#cdcce6" />
<rect x="10.28" y="291.34" width="7.83" height="1.76" fill="#cecde7" />
<rect x="10.28" y="293.06" width="7.83" height="1.76" fill="#c7c6e3" />
<rect x="10.28" y="294.77" width="7.83" height="1.76" fill="#e3e2f1" />
<rect x="10.28" y="296.49" width="7.83" height="1.76" fill="#efeef7" />
<rect x="10.28" y="298.20" width="7.83" height="1.76" fill="#e3e2f1" />
<rect x="10.28" y="299.91" width="7.83" height="1.76" fill="#e6e5f3" />
<rect x="10.28" y="301.63" width="7.83" height="1.76" fill="#afaed7" />
<rect x="10.28" y="303.34" width="7.83" height="1.76" fill="#c1c0e0" />
<rect x="10.28" y="305.06" width="7.83" height="1.76" fill="#d1d0e8" />
<rect x="10.28" y="306.77" width="7.83" height="1.76" fill="#bab9dc" />
<rect x="10.28" y="308.49" width="7.83" height="1.76" fill="#8382bc" />
<rect x="10.28" y="310.20" width="7.83" height="1.76" fill="#aaa9d3" />
<rect x="10.28" y="311.91" width="7.83" height="1.76" fill="#dddcee" />
<rect x="10.28" y="313.63" width="7.83" height="1.76" fill="#a9a8d3" />
<rect x="10.28" y="315.34" width="7.83" height="1.76" fill="#adacd5" />
<rect x="10.28" y="317.06" width="7.83" height="1.76" fill="#d1d0e8" />
<rect x="10.28" y="318.77" width="7.83" height="1.76" fill="#9c9ccb" />
<rect x="10.28" y="320.49" width="7.83" height="1.76" fill="#d0cfe8" />
<rect x="10.28" y="322.20" width="7.83" height="1.76" fill="#d7d6eb" />
<rect x="10.28" y="323.91" width="7.83" height="1.76" fill="#a8a7d2" />
<rect x="10.28" y="325.63" width="7.83" height="1.76" fill="#c8c7e4" />
<rect x="10.28" y="327.34" width="7.83" height="1.76" fill="#e9e8f4" />
<rect x="10.28" y="329.06" width="7.83" height="1.76" fill="#b5b4da" />
<rect x="10.28" y="330.77" width="7.83" height="1.76" fill="#dcdbee" />
<rect x="10.28" y="332.49" width="7.83" height="1.76" fill="#c4c3e1" />
<rect x="10.28" y="334.20" width="7.83" height="1.76" fill="#bdbcde" />
<rect x="10.28" y="335.91" width="7.83" height="1.76" fill="#e1e0f0" />
<rect x="10.28" y="337.63" width="7.83" height="1.76" fill="#c7c6e3" />
<rect x="10.28" y="339.34" width="7.83" height="1.76" fill="#9897c9" />
<rect x="10.28" y="341.06" width="7.83" height="1.76" fill="#cdcce6" />
<rect x="10.28" y="342.77" width="7.83" height="1.76" fill="#dcdbee" />
<rect x="10.28" y="344.49" width="7.83" height="1.76" fill="#cac9e5" />
<rect x="18.06" y="250.20" width="7.83" height="1.76" fill="#d0cfe8" />
<rect x="18.06" y="251.91" width="7.83" height="1.76" fill="#c8c7e4" />
<rect x="18.06" y="253.63" width="7.83" height="1.76" fill="#c2c1e0" />
<rect x="18.06" y="255.34" width="7.83" height="1.76" fill="#a3a2cf" />
<rect x="18.06" y="257.06" width="7.83" height="1.76" fill="#b4b3d9" />
<rect x="18.06" y="258.77" width="7.83" height="1.76" fill="#a8a7d2" />
<rect x="18.06" y="260.49" width="7.83" height="1.76" fill="#aaa9d4" />
<rect x="18.06" y="262.20" width="7.83" height="1.76" fill="#abaad4" />
<rect x="18.06" y="263.91" width="7.83" height="1.76" fill="#bebdde" />
<rect x="18.06" y="265.63" width="7.83" height="1.76" fill="#bdbcde" />
<rect x="18.06" y="267.34" width="7.83" height="1.76" fill="#d3d2e9" />
<rect x="18.06" y="269.06" width="7.83" height="1.76" fill="#9594c7" />
<rect x="18.06" y="270.77" width="7.83" height="1.76" fill="#9696c8" />
<rect x="18.06" y="272.49" width="7.83" height="1.76" fill="#c9c8e4" />
<rect x="18.06" y="274.20" width="7.83" height="1.76" fill="#dddcef" />
<rect x="18.06" y="275.91" width="7.83" height="1.76" fill="#d1d0e8" />
<rect x="18.06" y="277.63" width="7.83" height="1.76" fill="#807fba" />
<rect x="18.06" y="279.34" width="7.83" height="1.76" fill="#8281bb" />
<rect x="18.06" y="281.06" width="7.83" height="1.76" fill="#b3b2d9" />
<rect x="18.06" y="282.77" width="7.83" height="1.76" fill="#a6a5d1" />
<rect x="18.06" y="284.49" width="7.83" height="1.76" fill="#a2a1cf" />
<rect x="18.06" y="286.20" width="7.83" height="1.76" fill="#c3c2e1" />
<rect x="18.06" y="287.91" width="7.83" height="1.76" fill="#e0dff0" />
<rect x="18.06" y="289.63" width="7.83" height="1.76" fill="#cbcae5" />
<rect x="18.06" y="291.34" width="7.83" height="1.76" fill="#d8d7ec" />
<rect x="18.06" y="293.06" width="7.83" height="1.76" fill="#deddef" />
<rect x="18.06" y="294.77" width="7.83" height="1.76" fill="#e6e5f2" />
<rect x="18.06" y="296.49" width="7.83" height="1.76" fill="#eae9f5" />
<rect x="18.06" y="298.20" width="7.83" height="1.76" fill="#e4e3f2" />
<rect x="18.06" y="299.91" width="7.83" height="1.76" fill="#d8d7ec" />
<rect x="18.06" y="301.63" width="7.83" height="1.76" fill="#afaed6" />
<rect x="18.06" y="303.34" width="7.83" height="1.76" fill="#cdcce6" />
<rect x="18.06" y="305.06" width="7.83" height="1.76" fill="#d6d5eb" />
<rect x="18.06" y="306.77" width="7.83" height="1.76" fill="#c5c4e2" />
<rect x="18.06" y="308.49" width="7.83" height="1.76" fill="#9291c5" />
<rect x="18.06" y="310.20" width="7.83" height="1.76" fill="#b2b1d8" />
<rect x="18.06" y="311.91" width="7.83" height="1.76" fill="#bebdde" />
<rect x="18.06" y="313.63" width="7.83" height="1.76" fill="#7c7cb8" />
<rect x="18.06" y="315.34" width="7.83" height="1.76" fill="#c4c3e1" />
<rect x="18.06" y="317.06" width="7.83" height="1.76" fill="#d2d1e9" />
<rect x="18.06" y="318.77" width="7.83" height="1.76" fill="#9998c9" />
<rect x="18.06" y="320.49" width="7.83" height="1.76" fill="#e7e6f3" />
<rect x="18.06" y="322.20" width="7.83" height="1.76" fill="#d6d5eb" />
<rect x="18.06" y="323.91" width="7.83" height="1.76" fill="#afaed6" />
<rect x="18.06" y="325.63" width="7.83" height="1.76" fill="#cdcce6" />
<rect x="18.06" y="327.34" width="7.83" height="1.76" fill="#e3e2f1" />
<rect x="18.06" y="329.06" width="7.83" height="1.76" fill="#cccbe6" />
<rect x="18.06" y="330.77" width="7.83" height="1.76" fill="#dfdeef" />
<rect x="18.06" y="332.49" width="7.83" height="1.76" fill="#d1d0e8" />
<rect x="18.06" y="334.20" width="7.83" height="1.76" fill="#c1c0e0" />
<rect x="18.06" y="335.91" width="7.83" height="1.76" fill="#e2e1f1" />
<rect x="18.06" y="337.63" width="7.83" height="1.76" fill="#cccbe6" />
<rect x="18.06" y="339.34" width="7.83" height="1.76" fill="#b7b6db" />
<rect x="18.06" y="341.06" width="7.83" height="1.76" fill="#e9e8f4" />
<rect x="18.06" y="342.77" width="7.83" height="1.76" fill="#dad9ed" />
<rect x="18.06" y="344.49" width="7.83" height="1.76" fill="#d1d0e8" />
<rect x="25.84" y="250.20" width="7.83" height="1.76" fill="#d2d1e9" />
<rect x="25.84" y="251.91" width="7.83" height="1.76" fill="#c2c1e0" />
<rect x="25.84" y="253.63" width="7.83" height="1.76" fill="#b9b8dc" />
<rect x="25.84" y="255.34" width="7.83" height="1.76" fill="#aeadd6" />
<rect x="25.84" y="257.06" width="7.83" height="1.76" fill="#d1d0e8" />
<rect x="25.84" y="258.77" width="7.83" height="1.76" fill="#b8b7db" />
<rect x="25.84" y="260.49" width="7.83" height="1.76" fill="#c5c4e2" />
<rect x="25.84" y="262.20" width="7.83" height="1.76" fill="#9594c7" />
<rect x="25.84" y="263.91" width="7.83" height="1.76" fill="#cccbe6" />
<rect x="25.84" y="265.63" width="7.83" height="1.76" fill="#b8b7db" />
<rect x="25.84" y="267.34" width="7.83" height="1.76" fill="#d4d3ea" />
<rect x="25.84" y="269.06" width="7.83" height="1.76" fill="#8585bd" />
<rect x="25.84" y="270.77" width="7.83" height="1.76" fill="#8686be" />
<rect x="25.84" y="272.49" width="7.83" height="1.76" fill="#bebdde" />
<rect x="25.84" y="274.20" width="7.83" height="1.76" fill="#d9d8ec" />
<rect x="25.84" y="275.91" width="7.83" height="1.76" fill="#cfcee7" />
<rect x="25.84" y="277.63" width="7.83" height="1.76" fill="#7d7cb8" />
<rect x="25.84" y="279.34" width="7.83" height="1.76" fill="#7171b1" />
<rect x="25.84" y="281.06" width="7.83" height="1.76" fill="#b0afd7" />
<rect x="25.84" y="282.77" width="7.83" height="1.76" fill="#bbbadd" />
<rect x="25.84" y="284.49" width="7.83" height="1.76" fill="#a5a4d0" />
<rect x="25.84" y="286.20" width="7.83" height="1.76" fill="#b8b7db" />
<rect x="25.84" y="287.91" width="7.83" height="1.76" fill="#d1d0e8" />
<rect x="25.84" y="289.63" width="7.83" height="1.76" fill="#b1b0d7" />
<rect x="25.84" y="291.34" width="7.83" height="1.76" fill="#cdcce6" />
<rect x="25.84" y="293.06" width="7.83" height="1.76" fill="#d8d7ec" />
<rect x="25.84" y="294.77" width="7.83" height="1.76" fill="#e0dff0" />
<rect x="25.84" y="296.49" width="7.83" height="1.76" fill="#dddcef" />
<rect x="25.84" y="298.20" width="7.83" height="1.76" fill="#dcdbee" />
<rect x="25.84" y="299.91" width="7.83" height="1.76" fill="#eae9f5" />
<rect x="25.84" y="301.63" width="7.83" height="1.76" fill="#bcbbde" />
<rect x="25.84" y="303.34" width="7.83" height="1.76" fill="#c7c6e3" />
<rect x="25.84" y="305.06" width="7.83" height="1.76" fill="#c9c8e4" />
<rect x="25.84" y="306.77" width="7.83" height="1.76" fill="#c2c1e1" />
<rect x="25.84" y="308.49" width="7.83" height="1.76" fill="#9f9ecd" />
<rect x="25.84" y="310.20" width="7.83" height="1.76" fill="#bdbcde" />
<rect x="25.84" y="311.91" width="7.83" height="1.76" fill="#c4c3e1" />
<rect x="25.84" y="313.63" width="7.83" height="1.76" fill="#6463a9" />
<rect x="25.84" y="315.34" width="7.83" height="1.76" fill="#b4b3d9" />
<rect x="25.84" y="317.06" width="7.83" height="1.76" fill="#d0cfe8" />
<rect x="25.84" y="318.77" width="7.83" height="1.76" fill="#a3a2cf" />
<rect x="25.84" y="320.49" width="7.83" height="1.76" fill="#d1d0e9" />
<rect x="25.84" y="322.20" width="7.83" height="1.76" fill="#cbcae5" />
<rect x="25.84" y="323.91" width="7.83" height="1.76" fill="#c1c0e0" />
<rect x="25.84" y="325.63" width="7.83" height="1.76" fill="#c9c8e4" />
<rect x="25.84" y="327.34" width="7.83" height="1.76" fill="#d9d8ed" />
<rect x="25.84" y="329.06" width="7.83" height="1.76" fill="#acabd5" />
<rect x="25.84" y="330.77" width="7.83" height="1.76" fill="#c2c1e1" />
<rect x="25.84" y="332.49" width="7.83" height="1.76" fill="#b1b0d7" />
<rect x="25.84" y="334.20" width="7.83" height="1.76" fill="#c4c3e1" />
<rect x="25.84" y="335.91" width="7.83" height="1.76" fill="#dbdaed" />
<rect x="25.84" y="337.63" width="7.83" height="1.76" fill="#bbbadd" />
<rect x="25.84" y="339.34" width="7.83" height="1.76" fill="#9e9dcc" />
<rect x="25.84" y="341.06" width="7.83" height="1.76" fill="#e4e3f2" />
<rect x="25.84" y="342.77" width="7.83" height="1.76" fill="#dfdeef" />
<rect x="25.84" y="344.49" width="7.83" height="1.76" fill="#cecde7" />
<rect x="33.62" y="250.20" width="7.83" height="1.76" fill="#bfbedf" />
<rect x="33.62" y="251.91" width="7.83" height="1.76" fill="#e3e2f1" />
<rect x="33.62" y="253.63" width="7.83" height="1.76" fill="#e2e1f1" />
<rect x="33.62" y="255.34" width="7.83" height="1.76" fill="#d9d8ed" />
<rect x="33.62" y="257.06" width="7.83" height="1.76" fill="#e3e2f1" />
<rect x="33.62" y="258.77" width="7.83" height="1.76" fill="#c4c3e2" />
<rect x="33.62" y="260.49" width="7.83" height="1.76" fill="#f8f0f1" />
<rect x="33.62" y="262.20" width="7.83" height="1.76" fill="#d3d2e9" />
<rect x="33.62" y="263.91" width="7.83" height="1.76" fill="#d0cfe8" />
<rect x="33.62" y="265.63" width="7.83" height="1.76" fill="#e4e3f2" />
<rect x="33.62" y="267.34" width="7.83" height="1.76" fill="#eae9f4" />
<rect x="33.62" y="269.06" width="7.83" height="1.76" fill="#e4e3f1" />
<rect x="33.62" y="270.77" width="7.83" height="1.76" fill="#c7c6e3" />
<rect x="33.62" y="272.49" width="7.83" height="1.76" fill="#d5d4ea" />
<rect x="33.62" y="274.20" width="7.83" height="1.76" fill="#dad9ed" />
<rect x="33.62" y="275.91" width="7.83" height="1.76" fill="#d7d6eb" />
<rect x="33.62" y="277.63" width="7.83" height="1.76" fill="#cfcee7" />
<rect x="33.62" y="279.34" width="7.83" height="1.76" fill="#d0cfe8" />
<rect x="33.62" y="281.06" width="7.83" height="1.76" fill="#cccbe6" />
<rect x="33.62" y="282.77" width="7.83" height="1.76" fill="#deddef" />
<rect x="33.62" y="284.49" width="7.83" height="1.76" fill="#e9e8f4" />
<rect x="33.62" y="286.20" width="7.83" height="1.76" fill="#cdcce6" />
<rect x="33.62" y="287.91" width="7.83" height="1.76" fill="#f7e9eb" />
<rect x="33.62" y="289.63" width="7.83" height="1.76" fill="#dddcee" />
<rect x="33.62" y="291.34" width="7.83" height="1.76" fill="#e3e2f1" />
<rect x="33.62" y="293.06" width="7.83" height="1.76" fill="#dcdbee" />
<rect x="33.62" y="294.77" width="7.83" height="1.76" fill="#e4e3f2" />
<rect x="33.62" y="296.49" width="7.83" height="1.76" fill="#f7eced" />
<rect x="33.62" y="298.20" width="7.83" height="1.76" fill="#e7e6f3" />
<rect x="33.62" y="299.91" width="7.83" height="1.76" fill="#f2f1f8" />
<rect x="33.62" y="301.63" width="7.83" height="1.76" fill="#f8eff0" />
<rect x="33.62" y="303.34" width="7.83" height="1.76" fill="#abaad4" />
<rect x="33.62" y="305.06" width="7.83" height="1.76" fill="#cac9e4" />
<rect x="33.62" y="306.77" width="7.83" height="1.76" fill="#deddef" />
<rect x="33.62" y="308.49" width="7.83" height="1.76" fill="#eae9f4" />
<rect x="33.62" y="310.20" width="7.83" height="1.76" fill="#e5e4f2" />
<rect x="33.62" y="311.91" width="7.83" height="1.76" fill="#e0dff0" />
<rect x="33.62" y="313.63" width="7.83" height="1.76" fill="#e7e6f3" />
<rect x="33.62" y="315.34" width="7.83" height="1.76" fill="#e5e4f2" />
<rect x="33.62" y="317.06" width="7.83" height="1.76" fill="#e4e3f1" />
<rect x="33.62" y="318.77" width="7.83" height="1.76" fill="#f5f4fa" />
<rect x="33.62" y="320.49" width="7.83" height="1.76" fill="#f1f0f7" />
<rect x="33.62" y="322.20" width="7.83" height="1.76" fill="#e7e6f3" />
<rect x="33.62" y="323.91" width="7.83" height="1.76" fill="#dbdaee" />
<rect x="33.62" y="325.63" width="7.83" height="1.76" fill="#e1e0f0" />
<rect x="33.62" y="327.34" width="7.83" height="1.76" fill="#f5e1e3" />
<rect x="33.62" y="329.06" width="7.83" height="1.76" fill="#c2c1e1" />
<rect x="33.62" y="330.77" width="7.83" height="1.76" fill="#f1f0f8" />
<rect x="33.62" y="332.49" width="7.83" height="1.76" fill="#f5e5e6" />
<rect x="33.62" y="334.20" width="7.83" height="1.76" fill="#e2e1f1" />
<rect x="33.62" y="335.91" width="7.83" height="1.76" fill="#f7eeef" />
<rect x="33.62" y="337.63" width="7.83" height="1.76" fill="#f4f3f9" />
<rect x="33.62" y="339.34" width="7.83" height="1.76" fill="#f9f2f3" />
<rect x="33.62" y="341.06" width="7.83" height="1.76" fill="#f4e0e1" />
<rect x="33.62" y="342.77" width="7.83" height="1.76" fill="#dfdeef" />
<rect x="33.62" y="344.49" width="7.83" height="1.76" fill="#f8eeef" />
<rect x="41.40" y="250.20" width="7.83" height="1.76" fill="#b2b1d8" />
<rect x="41.40" y="251.91" width="7.83" height="1.76" fill="#e2e1f1" />
<rect x="41.40" y="253.63" width="7.83" height="1.76" fill="#cbcae5" />
<rect x="41.40" y="255.34" width="7.83" height="1.76" fill="#cdcce6" />
<rect x="41.40" y="257.06" width="7.83" height="1.76" fill="#e4e3f2" />
<rect x="41.40" y="258.77" width="7.83" height="1.76" fill="#bfbedf" />
<rect x="41.40" y="260.49" width="7.83" height="1.76" fill="#f0eff7" />
<rect x="41.40" y="262.20" width="7.83" height="1.76" fill="#bfbedf" />
<rect x="41.40" y="263.91" width="7.83" height="1.76" fill="#dad9ed" />
<rect x="41.40" y="265.63" width="7.83" height="1.76" fill="#e1e0f0" />
<rect x="41.40" y="267.34" width="7.83" height="1.76" fill="#e9e8f4" />
<rect x="41.40" y="269.06" width="7.83" height="1.76" fill="#cccbe6" />
<rect x="41.40" y="270.77" width="7.83" height="1.76" fill="#d8d7ec" />
<rect x="41.40" y="272.49" width="7.83" height="1.76" fill="#e0dff0" />
<rect x="41.40" y="274.20" width="7.83" height="1.76" fill="#cdcce6" />
<rect x="41.40" y="275.91" width="7.83" height="1.76" fill="#e3e2f1" />
<rect x="41.40" y="277.63" width="7.83" height="1.76" fill="#c7c6e3" />
<rect x="41.40" y="279.34" width="7.83" height="1.76" fill="#d5d4ea" />
<rect x="41.40" y="281.06" width="7.83" height="1.76" fill="#cdcce6" />
<rect x="41.40" y="282.77" width="7.83" height="1.76" fill="#dfdeef" />
<rect x="41.40" y="284.49" width="7.83" height="1.76" fill="#e2e1f1" />
<rect x="41.40" y="286.20" width="7.83" height="1.76" fill="#eeedf6" />
<rect x="41.40" y="287.91" width="7.83" height="1.76" fill="#f2f1f8" />
<rect x="41.40" y="289.63" width="7.83" height="1.76" fill="#dcdbee" />
<rect x="41.40" y="291.34" width="7.83" height="1.76" fill="#cfcee7" />
<rect x="41.40" y="293.06" width="7.83" height="1.76" fill="#dddcee" />
<rect x="41.40" y="294.77" width="7.83" height="1.76" fill="#e8e7f3" />
<rect x="41.40" y="296.49" width="7.83" height="1.76" fill="#f6e8ea" />
<rect x="41.40" y="298.20" width="7.83" height="1.76" fill="#f0eff7" />
<rect x="41.40" y="299.91" width="7.83" height="1.76" fill="#f9f3f4" />
<rect x="41.40" y="301.63" width="7.83" height="1.76" fill="#f0eff7" />
<rect x="41.40" y="303.34" width="7.83" height="1.76" fill="#a8a7d3" />
<rect x="41.40" y="305.06" width="7.83" height="1.76" fill="#d0cfe8" />
<rect x="41.40" y="306.77" width="7.83" height="1.76" fill="#e3e2f1" />
<rect x="41.40" y="308.49" width="7.83" height="1.76" fill="#e8e7f4" />
<rect x="41.40" y="310.20" width="7.83" height="1.76" fill="#edecf6" />
<rect x="41.40" y="311.91" width="7.83" height="1.76" fill="#e0dff0" />
<rect x="41.40" y="313.63" width="7.83" height="1.76" fill="#e4e3f2" />
<rect x="41.40" y="315.34" width="7.83" height="1.76" fill="#e6e5f2" />
<rect x="41.40" y="317.06" width="7.83" height="1.76" fill="#e7e6f3" />
<rect x="41.40" y="318.77" width="7.83" height="1.76" fill="#f8eff1" />
<rect x="41.40" y="320.49" width="7.83" height="1.76" fill="#efeef7" />
<rect x="41.40" y="322.20" width="7.83" height="1.76" fill="#e9e8f4" />
<rect x="41.40" y="323.91" width="7.83" height="1.76" fill="#d4d3ea" />
<rect x="41.40" y="325.63" width="7.83" height="1.76" fill="#d9d8ed" />
<rect x="41.40" y="327.34" width="7.83" height="1.76" fill="#f5e2e4" />
<rect x="41.40" y="329.06" width="7.83" height="1.76" fill="#cac9e4" />
<rect x="41.40" y="330.77" width="7.83" height="1.76" fill="#f4f3f9" />
<rect x="41.40" y="332.49" width="7.83" height="1.76" fill="#f0eff7" />
<rect x="41.40" y="334.20" width="7.83" height="1.76" fill="#e2e1f1" />
<rect x="41.40" y="335.91" width="7.83" height="1.76" fill="#f9f4f5" />
<rect x="41.40" y="337.63" width="7.83" height="1.76" fill="#f2f1f8" />
<rect x="41.40" y="339.34" width="7.83" height="1.76" fill="#eeedf6" />
<rect x="41.40" y="341.06" width="7.83" height="1.76" fill="#f3dcdd" />
<rect x="41.40" y="342.77" width="7.83" height="1.76" fill="#f0eff7" />
<rect x="41.40" y="344.49" width="7.83" height="1.76" fill="#f6e7e8" />
<rect x="49.18" y="250.20" width="7.83" height="1.76" fill="#dbdaee" />
<rect x="49.18" y="251.91" width="7.83" height="1.76" fill="#e5e4f2" />
<rect x="49.18" y="253.63" width="7.83" height="1.76" fill="#f0eff7" />
<rect x="49.18" y="255.34" width="7.83" height="1.76" fill="#cfcee7" />
<rect x="49.18" y="257.06" width="7.83" height="1.76" fill="#e9e8f4" />
<rect x="49.18" y="258.77" width="7.83" height="1.76" fill="#c9c8e4" />
<rect x="49.18" y="260.49" width="7.83" height="1.76" fill="#f9f3f4" />
<rect x="49.18" y="262.20" width="7.83" height="1.76" fill="#e1e0f0" />
<rect x="49.18" y="263.91" width="7.83" height="1.76" fill="#f1f0f8" />
<rect x="49.18" y="265.63" width="7.83" height="1.76" fill="#edecf6" />
<rect x="49.18" y="267.34" width="7.83" height="1.76" fill="#e9e8f4" />
<rect x="49.18" y="269.06" width="7.83" height="1.76" fill="#edecf6" />
<rect x="49.18" y="270.77" width="7.83" height="1.76" fill="#dddcee" />
<rect x="49.18" y="272.49" width="7.83" height="1.76" fill="#e0dff0" />
<rect x="49.18" y="274.20" width="7.83" height="1.76" fill="#eae9f4" />
<rect x="49.18" y="275.91" width="7.83" height="1.76" fill="#f8f1f2" />
<rect x="49.18" y="277.63" width="7.83" height="1.76" fill="#e3e2f1" />
<rect x="49.18" y="279.34" width="7.83" height="1.76" fill="#dddcee" />
<rect x="49.18" y="281.06" width="7.83" height="1.76" fill="#f2f1f8" />
<rect x="49.18" y="282.77" width="7.83" height="1.76" fill="#d7d6eb" />
<rect x="49.18" y="284.49" width="7.83" height="1.76" fill="#edecf6" />
<rect x="49.18" y="286.20" width="7.83" height="1.76" fill="#e6e5f3" />
<rect x="49.18" y="287.91" width="7.83" height="1.76" fill="#f4f3f9" />
<rect x="49.18" y="289.63" width="7.83" height="1.76" fill="#e5e4f2" />
<rect x="49.18" y="291.34" width="7.83" height="1.76" fill="#f9f3f4" />
<rect x="49.18" y="293.06" width="7.83" height="1.76" fill="#f4e1e2" />
<rect x="49.18" y="294.77" width="7.83" height="1.76" fill="#ecebf5" />
<rect x="49.18" y="296.49" width="7.83" height="1.76" fill="#f8eff0" />
<rect x="49.18" y="298.20" width="7.83" height="1.76" fill="#f4dedf" />
<rect x="49.18" y="299.91" width="7.83" height="1.76" fill="#f5f4fa" />
<rect x="49.18" y="301.63" width="7.83" height="1.76" fill="#e9e8f4" />
<rect x="49.18" y="303.34" width="7.83" height="1.76" fill="#dfdeef" />
<rect x="49.18" y="305.06" width="7.83" height="1.76" fill="#f7eaeb" />
<rect x="49.18" y="306.77" width="7.83" height="1.76" fill="#f6e5e7" />
<rect x="49.18" y="308.49" width="7.83" height="1.76" fill="#f4e0e1" />
<rect x="49.18" y="310.20" width="7.83" height="1.76" fill="#f3f2f9" />
<rect x="49.18" y="311.91" width="7.83" height="1.76" fill="#f1f0f8" />
<rect x="49.18" y="313.63" width="7.83" height="1.76" fill="#e8e7f4" />
<rect x="49.18" y="315.34" width="7.83" height="1.76" fill="#eeedf6" />
<rect x="49.18" y="317.06" width="7.83" height="1.76" fill="#f2d6d8" />
<rect x="49.18" y="318.77" width="7.83" height="1.76" fill="#e7e6f3" />
<rect x="49.18" y="320.49" width="7.83" height="1.76" fill="#f8eff0" />
<rect x="49.18" y="322.20" width="7.83" height="1.76" fill="#f8f0f1" />
<rect x="49.18" y="323.91" width="7.83" height="1.76" fill="#e5e4f2" />
<rect x="49.18" y="325.63" width="7.83" height="1.76" fill="#eeedf6" />
<rect x="49.18" y="327.34" width="7.83" height="1.76" fill="#f2d7d9" />
<rect x="49.18" y="329.06" width="7.83" height="1.76" fill="#deddef" />
<rect x="49.18" y="330.77" width="7.83" height="1.76" fill="#f5f4f9" />
<rect x="49.18" y="332.49" width="7.83" height="1.76" fill="#f7eced" />
<rect x="49.18" y="334.20" width="7.83" height="1.76" fill="#efeef7" />
<rect x="49.18" y="335.91" width="7.83" height="1.76" fill="#f8f1f2" />
<rect x="49.18" y="337.63" width="7.83" height="1.76" fill="#e9e8f4" />
<rect x="49.18" y="339.34" width="7.83" height="1.76" fill="#efeef7" />
<rect x="49.18" y="341.06" width="7.83" height="1.76" fill="#f4e0e1" />
<rect x="49.18" y="342.77" width="7.83" height="1.76" fill="#f6e7e8" />
<rect x="49.18" y="344.49" width="7.83" height="1.76" fill="#edecf6" />
<rect x="56.96" y="250.20" width="7.83" height="1.76" fill="#e2e1f1" />
<rect x="56.96" y="251.91" width="7.83" height="1.76" fill="#e4e3f1" />
<rect x="56.96" y="253.63" width="7.83" height="1.76" fill="#f3f2f8" />
<rect x="56.96" y="255.34" width="7.83" height="1.76" fill="#b9b8dc" />
<rect x="56.96" y="257.06" width="7.83" height="1.76" fill="#e4e3f1" />
<rect x="56.96" y="258.77" width="7.83" height="1.76" fill="#cecde7" />
<rect x="56.96" y="260.49" width="7.83" height="1.76" fill="#efeef7" />
<rect x="56.96" y="262.20" width="7.83" height="1.76" fill="#e4e3f2" />
<rect x="56.96" y="263.91" width="7.83" height="1.76" fill="#f3f2f9" />
<rect x="56.96" y="265.63" width="7.83" height="1.76" fill="#f5f4f9" />
<rect x="56.96" y="267.34" width="7.83" height="1.76" fill="#e9e8f4" />
<rect x="56.96" y="269.06" width="7.83" height="1.76" fill="#deddef" />
<rect x="56.96" y="270.77" width="7.83" height="1.76" fill="#dddcef" />
<rect x="56.96" y="272.49" width="7.83" height="1.76" fill="#e8e7f4" />
<rect x="56.96" y="274.20" width="7.83" height="1.76" fill="#e1e0f0" />
<rect x="56.96" y="275.91" width="7.83" height="1.76" fill="#f8f1f2" />
<rect x="56.96" y="277.63" width="7.83" height="1.76" fill="#deddef" />
<rect x="56.96" y="279.34" width="7.83" height="1.76" fill="#cfcee7" />
<rect x="56.96" y="281.06" width="7.83" height="1.76" fill="#efeef7" />
<rect x="56.96" y="282.77" width="7.83" height="1.76" fill="#c3c2e1" />
<rect x="56.96" y="284.49" width="7.83" height="1.76" fill="#f3f2f8" />
<rect x="56.96" y="286.20" width="7.83" height="1.76" fill="#ebeaf5" />
<rect x="56.96" y="287.91" width="7.83" height="1.76" fill="#ebeaf5" />
<rect x="56.96" y="289.63" width="7.83" height="1.76" fill="#e0dff0" />
<rect x="56.96" y="291.34" width="7.83" height="1.76" fill="#d6d5eb" />
<rect x="56.96" y="293.06" width="7.83" height="1.76" fill="#f7ebed" />
<rect x="56.96" y="294.77" width="7.83" height="1.76" fill="#eeedf6" />
<rect x="56.96" y="296.49" width="7.83" height="1.76" fill="#f8f2f3" />
<rect x="56.96" y="298.20" width="7.83" height="1.76" fill="#f5e4e6" />
<rect x="56.96" y="299.91" width="7.83" height="1.76" fill="#f6e8e9" />
<rect x="56.96" y="301.63" width="7.83" height="1.76" fill="#f1f0f8" />
<rect x="56.96" y="303.34" width="7.83" height="1.76" fill="#e3e2f1" />
<rect x="56.96" y="305.06" width="7.83" height="1.76" fill="#f5e5e6" />
<rect x="56.96" y="306.77" width="7.83" height="1.76" fill="#f7eaeb" />
<rect x="56.96" y="308.49" width="7.83" height="1.76" fill="#f8f0f1" />
<rect x="56.96" y="310.20" width="7.83" height="1.76" fill="#eeedf6" />
<rect x="56.96" y="311.91" width="7.83" height="1.76" fill="#e9e8f4" />
<rect x="56.96" y="313.63" width="7.83" height="1.76" fill="#e6e5f3" />
<rect x="56.96" y="315.34" width="7.83" height="1.76" fill="#f8eef0" />
<rect x="56.96" y="317.06" width="7.83" height="1.76" fill="#f6e7e8" />
<rect x="56.96" y="318.77" width="7.83" height="1.76" fill="#dcdbee" />
<rect x="56.96" y="320.49" width="7.83" height="1.76" fill="#f3dcde" />
<rect x="56.96" y="322.20" width="7.83" height="1.76" fill="#f6e7e8" />
<rect x="56.96" y="323.91" width="7.83" height="1.76" fill="#f4f3f9" />
<rect x="56.96" y="325.63" width="7.83" height="1.76" fill="#dfdeef" />
<rect x="56.96" y="327.34" width="7.83" height="1.76" fill="#f2d7d9" />
<rect x="56.96" y="329.06" width="7.83" height="1.76" fill="#f5f4f9" />
<rect x="56.96" y="330.77" width="7.83" height="1.76" fill="#f7edee" />
<rect x="56.96" y="332.49" width="7.83" height="1.76" fill="#f6f5fa" />
<rect x="56.96" y="334.20" width="7.83" height="1.76" fill="#f4f3f9" />
<rect x="56.96" y="335.91" width="7.83" height="1.76" fill="#f6e6e7" />
<rect x="56.96" y="337.63" width="7.83" height="1.76" fill="#f4f3f9" />
<rect x="56.96" y="339.34" width="7.83" height="1.76" fill="#f8eff0" />
<rect x="56.96" y="341.06" width="7.83" height="1.76" fill="#f5e2e3" />
<rect x="56.96" y="342.77" width="7.83" height="1.76" fill="#f8eff0" />
<rect x="56.96" y="344.49" width="7.83" height="1.76" fill="#f6e9eb" />
<rect x="64.74" y="250.20" width="7.83" height="1.76" fill="#deddef" />
<rect x="64.74" y="251.91" width="7.83" height="1.76" fill="#f2f1f8" />
<rect x="64.74" y="253.63" width="7.83" height="1.76" fill="#eeedf6" />
<rect x="64.74" y="255.34" width="7.83" height="1.76" fill="#d6d5eb" />
<rect x="64.74" y="257.06" width="7.83" height="1.76" fill="#f0eff7" />
<rect x="64.74" y="258.77" width="7.83" height="1.76" fill="#d2d1e9" />
<rect x="64.74" y="260.49" width="7.83" height="1.76" fill="#f4f3f9" />
<rect x="64.74" y="262.20" width="7.83" height="1.76" fill="#e7e6f3" />
<rect x="64.74" y="263.91" width="7.83" height="1.76" fill="#eae9f4" />
<rect x="64.74" y="265.63" width="7.83" height="1.76" fill="#f3f2f9" />
<rect x="64.74" y="267.34" width="7.83" height="1.76" fill="#eeedf6" />
<rect x="64.74" y="269.06" width="7.83" height="1.76" fill="#f0eff7" />
<rect x="64.74" y="270.77" width="7.83" height="1.76" fill="#e4e3f2" />
<rect x="64.74" y="272.49" width="7.83" height="1.76" fill="#e3e2f1" />
<rect x="64.74" y="274.20" width="7.83" height="1.76" fill="#e0dff0" />
<rect x="64.74" y="275.91" width="7.83" height="1.76" fill="#f9f3f4" />
<rect x="64.74" y="277.63" width="7.83" height="1.76" fill="#e5e4f2" />
<rect x="64.74" y="279.34" width="7.83" height="1.76" fill="#e8e7f4" />
<rect x="64.74" y="281.06" width="7.83" height="1.76" fill="#f0eff7" />
<rect x="64.74" y="282.77" width="7.83" height="1.76" fill="#e0dff0" />
<rect x="64.74" y="284.49" width="7.83" height="1.76" fill="#f4f3f9" />
<rect x="64.74" y="286.20" width="7.83" height="1.76" fill="#d7d6eb" />
<rect x="64.74" y="287.91" width="7.83" height="1.76" fill="#e4e3f2" />
<rect x="64.74" y="289.63" width="7.83" height="1.76" fill="#e8e7f3" />
<rect x="64.74" y="291.34" width="7.83" height="1.76" fill="#e6e5f2" />
<rect x="64.74" y="293.06" width="7.83" height="1.76" fill="#f8eeef" />
<rect x="64.74" y="294.77" width="7.83" height="1.76" fill="#e9e8f4" />
<rect x="64.74" y="296.49" width="7.83" height="1.76" fill="#f1f0f8" />
<rect x="64.74" y="298.20" width="7.83" height="1.76" fill="#f6e8e9" />
<rect x="64.74" y="299.91" width="7.83" height="1.76" fill="#f2f1f8" />
<rect x="64.74" y="301.63" width="7.83" height="1.76" fill="#e6e5f3" />
<rect x="64.74" y="303.34" width="7.83" height="1.76" fill="#eae9f4" />
<rect x="64.74" y="305.06" width="7.83" height="1.76" fill="#f9f2f3" />
<rect x="64.74" y="306.77" width="7.83" height="1.76" fill="#f7eeef" />
<rect x="64.74" y="308.49" width="7.83" height="1.76" fill="#f2d7d9" />
<rect x="64.74" y="310.20" width="7.83" height="1.76" fill="#f0eff7" />
<rect x="64.74" y="311.91" width="7.83" height="1.76" fill="#f1f0f8" />
<rect x="64.74" y="313.63" width="7.83" height="1.76" fill="#ecebf5" />
<rect x="64.74" y="315.34" width="7.83" height="1.76" fill="#f4f3f9" />
<rect x="64.74" y="317.06" width="7.83" height="1.76" fill="#f2d6d8" />
<rect x="64.74" y="318.77" width="7.83" height="1.76" fill="#e1e0f0" />
<rect x="64.74" y="320.49" width="7.83" height="1.76" fill="#f5e1e3" />
<rect x="64.74" y="322.20" width="7.83" height="1.76" fill="#f8eeef" />
<rect x="64.74" y="323.91" width="7.83" height="1.76" fill="#e5e4f2" />
<rect x="64.74" y="325.63" width="7.83" height="1.76" fill="#f4f3f9" />
<rect x="64.74" y="327.34" width="7.83" height="1.76" fill="#f6e6e7" />
<rect x="64.74" y="329.06" width="7.83" height="1.76" fill="#f3f2f8" />
<rect x="64.74" y="330.77" width="7.83" height="1.76" fill="#f3f2f9" />
<rect x="64.74" y="332.49" width="7.83" height="1.76" fill="#f6e7e9" />
<rect x="64.74" y="334.20" width="7.83" height="1.76" fill="#ecebf5" />
<rect x="64.74" y="335.91" width="7.83" height="1.76" fill="#f3dbdd" />
<rect x="64.74" y="337.63" width="7.83" height="1.76" fill="#f9f2f4" />
<rect x="64.74" y="339.34" width="7.83" height="1.76" fill="#f2f1f8" />
<rect x="64.74" y="341.06" width="7.83" height="1.76" fill="#f5e3e5" />
<rect x="64.74" y="342.77" width="7.83" height="1.76" fill="#f0d0d2" />
<rect x="64.74" y="344.49" width="7.83" height="1.76" fill="#f8eeef" />
<rect x="72.52" y="250.20" width="7.83" height="1.76" fill="#deddef" />
<rect x="72.52" y="251.91" width="7.83" height="1.76" fill="#eae9f4" />
<rect x="72.52" y="253.63" width="7.83" height="1.76" fill="#f0eff7" />
<rect x="72.52" y="255.34" width="7.83" height="1.76" fill="#c9c8e4" />
<rect x="72.52" y="257.06" width="7.83" height="1.76" fill="#e9e8f4" />
<rect x="72.52" y="258.77" width="7.83" height="1.76" fill="#e3e2f1" />
<rect x="72.52" y="260.49" width="7.83" height="1.76" fill="#f0eff7" />
<rect x="72.52" y="262.20" width="7.83" height="1.76" fill="#dfdeef" />
<rect x="72.52" y="263.91" width="7.83" height="1.76" fill="#f9f3f4" />
<rect x="72.52" y="265.63" width="7.83" height="1.76" fill="#eae9f4" />
<rect x="72.52" y="267.34" width="7.83" height="1.76" fill="#edecf6" />
<rect x="72.52" y="269.06" width="7.83" height="1.76" fill="#f4f3f9" />
<rect x="72.52" y="270.77" width="7.83" height="1.76" fill="#d7d6eb" />
<rect x="72.52" y="272.49" width="7.83" height="1.76" fill="#e5e4f2" />
<rect x="72.52" y="274.20" width="7.83" height="1.76" fill="#e1e0f0" />
<rect x="72.52" y="275.91" width="7.83" height="1.76" fill="#e9e8f4" />
<rect x="72.52" y="277.63" width="7.83" height="1.76" fill="#e6e5f2" />
<rect x="72.52" y="279.34" width="7.83" height="1.76" fill="#c3c2e1" />
<rect x="72.52" y="281.06" width="7.83" height="1.76" fill="#f8f0f1" />
<rect x="72.52" y="282.77" width="7.83" height="1.76" fill="#e2e1f1" />
<rect x="72.52" y="284.49" width="7.83" height="1.76" fill="#e4e3f2" />
<rect x="72.52" y="286.20" width="7.83" height="1.76" fill="#e1e0f0" />
<rect x="72.52" y="287.91" width="7.83" height="1.76" fill="#dddcee" />
<rect x="72.52" y="289.63" width="7.83" height="1.76" fill="#ecebf5" />
<rect x="72.52" y="291.34" width="7.83" height="1.76" fill="#e4e3f2" />
<rect x="72.52" y="293.06" width="7.83" height="1.76" fill="#f8eff0" />
<rect x="72.52" y="294.77" width="7.83" height="1.76" fill="#e7e6f3" />
<rect x="72.52" y="296.49" width="7.83" height="1.76" fill="#f8f0f1" />
<rect x="72.52" y="298.20" width="7.83" height="1.76" fill="#f8eef0" />
<rect x="72.52" y="299.91" width="7.83" height="1.76" fill="#f9f3f4" />
<rect x="72.52" y="301.63" width="7.83" height="1.76" fill="#e6e5f3" />
<rect x="72.52" y="303.34" width="7.83" height="1.76" fill="#e7e6f3" />
<rect x="72.52" y="305.06" width="7.83" height="1.76" fill="#f4f3f9" />
<rect x="72.52" y="306.77" width="7.83" height="1.76" fill="#f8eff0" />
<rect x="72.52" y="308.49" width="7.83" height="1.76" fill="#f9f3f4" />
<rect x="72.52" y="310.20" width="7.83" height="1.76" fill="#edecf6" />
<rect x="72.52" y="311.91" width="7.83" height="1.76" fill="#f7e9eb" />
<rect x="72.52" y="313.63" width="7.83" height="1.76" fill="#e8e7f3" />
<rect x="72.52" y="315.34" width="7.83" height="1.76" fill="#efeef7" />
<rect x="72.52" y="317.06" width="7.83" height="1.76" fill="#f3dcde" />
<rect x="72.52" y="318.77" width="7.83" height="1.76" fill="#e3e2f1" />
<rect x="72.52" y="320.49" width="7.83" height="1.76" fill="#f9f3f4" />
<rect x="72.52" y="322.20" width="7.83" height="1.76" fill="#f8eff1" />
<rect x="72.52" y="323.91" width="7.83" height="1.76" fill="#efeef7" />
<rect x="72.52" y="325.63" width="7.83" height="1.76" fill="#eae9f5" />
<rect x="72.52" y="327.34" width="7.83" height="1.76" fill="#f4e0e2" />
<rect x="72.52" y="329.06" width="7.83" height="1.76" fill="#e1e0f0" />
<rect x="72.52" y="330.77" width="7.83" height="1.76" fill="#e8e7f3" />
<rect x="72.52" y="332.49" width="7.83" height="1.76" fill="#f6e8e9" />
<rect x="72.52" y="334.20" width="7.83" height="1.76" fill="#f4f3f9" />
<rect x="72.52" y="335.91" width="7.83" height="1.76" fill="#f7ecee" />
<rect x="72.52" y="337.63" width="7.83" height="1.76" fill="#e0dff0" />
<rect x="72.52" y="339.34" width="7.83" height="1.76" fill="#eae9f5" />
<rect x="72.52" y="341.06" width="7.83" height="1.76" fill="#f0cdd0" />
<rect x="72.52" y="342.77" width="7.83" height="1.76" fill="#f7edee" />
<rect x="72.52" y="344.49" width="7.83" height="1.76" fill="#f8f0f1" />
<rect x="80.30" y="250.20" width="7.83" height="1.76" fill="#e2e1f1" />
<rect x="80.30" y="251.91" width="7.83" height="1.76" fill="#f2f1f8" />
<rect x="80.30" y="253.63" width="7.83" height="1.76" fill="#e6e5f2" />
<rect x="80.30" y="255.34" width="7.83" height="1.76" fill="#deddef" />
<rect x="80.30" y="257.06" width="7.83" height="1.76" fill="#e6e5f3" />
<rect x="80.30" y="258.77" width="7.83" height="1.76" fill="#f0eff7" />
<rect x="80.30" y="260.49" width="7.83" height="1.76" fill="#d7d6eb" />
<rect x="80.30" y="262.20" width="7.83" height="1.76" fill="#edecf6" />
<rect x="80.30" y="263.91" width="7.83" height="1.76" fill="#d2d1e9" />
<rect x="80.30" y="265.63" width="7.83" height="1.76" fill="#eeedf6" />
<rect x="80.30" y="267.34" width="7.83" height="1.76" fill="#efeef7" />
<rect x="80.30" y="269.06" width="7.83" height="1.76" fill="#ebeaf5" />
<rect x="80.30" y="270.77" width="7.83" height="1.76" fill="#d3d2e9" />
<rect x="80.30" y="272.49" width="7.83" height="1.76" fill="#f8f1f2" />
<rect x="80.30" y="274.20" width="7.83" height="1.76" fill="#eeedf6" />
<rect x="80.30" y="275.91" width="7.83" height="1.76" fill="#f1f0f8" />
<rect x="80.30" y="277.63" width="7.83" height="1.76" fill="#e0dff0" />
<rect x="80.30" y="279.34" width="7.83" height="1.76" fill="#dfdeef" />
<rect x="80.30" y="281.06" width="7.83" height="1.76" fill="#e9e8f4" />
<rect x="80.30" y="282.77" width="7.83" height="1.76" fill="#f2f1f8" />
<rect x="80.30" y="284.49" width="7.83" height="1.76" fill="#cfcee7" />
<rect x="80.30" y="286.20" width="7.83" height="1.76" fill="#eeedf6" />
<rect x="80.30" y="287.91" width="7.83" height="1.76" fill="#d4d3ea" />
<rect x="80.30" y="289.63" width="7.83" height="1.76" fill="#cdcce6" />
<rect x="80.30" y="291.34" width="7.83" height="1.76" fill="#d6d5eb" />
<rect x="80.30" y="293.06" width="7.83" height="1.76" fill="#f6e5e7" />
<rect x="80.30" y="294.77" width="7.83" height="1.76" fill="#e4e3f1" />
<rect x="80.30" y="296.49" width="7.83" height="1.76" fill="#f4e0e1" />
<rect x="80.30" y="298.20" width="7.83" height="1.76" fill="#eeedf6" />
<rect x="80.30" y="299.91" width="7.83" height="1.76" fill="#f2f1f8" />
<rect x="80.30" y="301.63" width="7.83" height="1.76" fill="#f5f4fa" />
<rect x="80.30" y="303.34" width="7.83" height="1.76" fill="#f3f2f8" />
<rect x="80.30" y="305.06" width="7.83" height="1.76" fill="#f5e3e5" />
<rect x="80.30" y="306.77" width="7.83" height="1.76" fill="#edecf6" />
<rect x="80.30" y="308.49" width="7.83" height="1.76" fill="#f6e8e9" />
<rect x="80.30" y="310.20" width="7.83" height="1.76" fill="#f7ebec" />
<rect x="80.30" y="311.91" width="7.83" height="1.76" fill="#f3f2f9" />
<rect x="80.30" y="313.63" width="7.83" height="1.76" fill="#e4e3f2" />
<rect x="80.30" y="315.34" width="7.83" height="1.76" fill="#f4f3f9" />
<rect x="80.30" y="317.06" width="7.83" height="1.76" fill="#f7eaeb" />
<rect x="80.30" y="318.77" width="7.83" height="1.76" fill="#dcdbee" />
<rect x="80.30" y="320.49" width="7.83" height="1.76" fill="#e7e6f3" />
<rect x="80.30" y="322.20" width="7.83" height="1.76" fill="#f5e2e4" />
<rect x="80.30" y="323.91" width="7.83" height="1.76" fill="#eae9f5" />
<rect x="80.30" y="325.63" width="7.83" height="1.76" fill="#edecf6" />
<rect x="80.30" y="327.34" width="7.83" height="1.76" fill="#f8eeef" />
<rect x="80.30" y="329.06" width="7.83" height="1.76" fill="#e4e3f2" />
<rect x="80.30" y="330.77" width="7.83" height="1.76" fill="#e1e0f0" />
<rect x="80.30" y="332.49" width="7.83" height="1.76" fill="#e6e5f2" />
<rect x="80.30" y="334.20" width="7.83" height="1.76" fill="#e5e4f2" />
<rect x="80.30" y="335.91" width="7.83" height="1.76" fill="#f8f0f1" />
<rect x="80.30" y="337.63" width="7.83" height="1.76" fill="#e9e8f4" />
<rect x="80.30" y="339.34" width="7.83" height="1.76" fill="#e4e3f1" />
<rect x="80.30" y="341.06" width="7.83" height="1.76" fill="#f0eff7" />
<rect x="80.30" y="342.77" width="7.83" height="1.76" fill="#eeedf6" />
<rect x="80.30" y="344.49" width="7.83" height="1.76" fill="#f8eff0" />
<rect x="88.08" y="250.20" width="7.83" height="1.76" fill="#e3e2f1" />
<rect x="88.08" y="251.91" width="7.83" height="1.76" fill="#e5e4f2" />
<rect x="88.08" y="253.63" width="7.83" height="1.76" fill="#e4e3f2" />
<rect x="88.08" y="255.34" width="7.83" height="1.76" fill="#e2e1f1" />
<rect x="88.08" y="257.06" width="7.83" height="1.76" fill="#f2f1f8" />
<rect x="88.08" y="258.77" width="7.83" height="1.76" fill="#dad9ed" />
<rect x="88.08" y="260.49" width="7.83" height="1.76" fill="#d7d6ec" />
<rect x="88.08" y="262.20" width="7.83" height="1.76" fill="#e6e5f2" />
<rect x="88.08" y="263.91" width="7.83" height="1.76" fill="#deddef" />
<rect x="88.08" y="265.63" width="7.83" height="1.76" fill="#f9f3f4" />
<rect x="88.08" y="267.34" width="7.83" height="1.76" fill="#eae9f5" />
<rect x="88.08" y="269.06" width="7.83" height="1.76" fill="#ebeaf5" />
<rect x="88.08" y="270.77" width="7.83" height="1.76" fill="#d0cfe8" />
<rect x="88.08" y="272.49" width="7.83" height="1.76" fill="#e8e7f4" />
<rect x="88.08" y="274.20" width="7.83" height="1.76" fill="#f4f3f9" />
<rect x="88.08" y="275.91" width="7.83" height="1.76" fill="#f8f1f2" />
<rect x="88.08" y="277.63" width="7.83" height="1.76" fill="#e0dff0" />
<rect x="88.08" y="279.34" width="7.83" height="1.76" fill="#e6e5f2" />
<rect x="88.08" y="281.06" width="7.83" height="1.76" fill="#f1f0f8" />
<rect x="88.08" y="282.77" width="7.83" height="1.76" fill="#eae9f4" />
<rect x="88.08" y="284.49" width="7.83" height="1.76" fill="#ebeaf5" />
<rect x="88.08" y="286.20" width="7.83" height="1.76" fill="#ebeaf5" />
<rect x="88.08" y="287.91" width="7.83" height="1.76" fill="#e3e2f1" />
<rect x="88.08" y="289.63" width="7.83" height="1.76" fill="#dcdbee" />
<rect x="88.08" y="291.34" width="7.83" height="1.76" fill="#c6c5e3" />
<rect x="88.08" y="293.06" width="7.83" height="1.76" fill="#f5f4f9" />
<rect x="88.08" y="294.77" width="7.83" height="1.76" fill="#eeedf6" />
<rect x="88.08" y="296.49" width="7.83" height="1.76" fill="#f7ebec" />
<rect x="88.08" y="298.20" width="7.83" height="1.76" fill="#f3f2f9" />
<rect x="88.08" y="299.91" width="7.83" height="1.76" fill="#f7eced" />
<rect x="88.08" y="301.63" width="7.83" height="1.76" fill="#e8e7f4" />
<rect x="88.08" y="303.34" width="7.83" height="1.76" fill="#ecebf6" />
<rect x="88.08" y="305.06" width="7.83" height="1.76" fill="#f7eaeb" />
<rect x="88.08" y="306.77" width="7.83" height="1.76" fill="#f4f3f9" />
<rect x="88.08" y="308.49" width="7.83" height="1.76" fill="#f5e2e3" />
<rect x="88.08" y="310.20" width="7.83" height="1.76" fill="#f7edee" />
<rect x="88.08" y="311.91" width="7.83" height="1.76" fill="#f8eeef" />
<rect x="88.08" y="313.63" width="7.83" height="1.76" fill="#f0eff7" />
<rect x="88.08" y="315.34" width="7.83" height="1.76" fill="#f9f3f4" />
<rect x="88.08" y="317.06" width="7.83" height="1.76" fill="#f3dcde" />
<rect x="88.08" y="318.77" width="7.83" height="1.76" fill="#e3e2f1" />
<rect x="88.08" y="320.49" width="7.83" height="1.76" fill="#f2f1f8" />
<rect x="88.08" y="322.20" width="7.83" height="1.76" fill="#f7edee" />
<rect x="88.08" y="323.91" width="7.83" height="1.76" fill="#eae9f5" />
<rect x="88.08" y="325.63" width="7.83" height="1.76" fill="#f3f2f9" />
<rect x="88.08" y="327.34" width="7.83" height="1.76" fill="#f7ebed" />
<rect x="88.08" y="329.06" width="7.83" height="1.76" fill="#f2f1f8" />
<rect x="88.08" y="330.77" width="7.83" height="1.76" fill="#ecebf6" />
<rect x="88.08" y="332.49" width="7.83" height="1.76" fill="#e5e4f2" />
<rect x="88.08" y="334.20" width="7.83" height="1.76" fill="#dddcee" />
<rect x="88.08" y="335.91" width="7.83" height="1.76" fill="#f7eced" />
<rect x="88.08" y="337.63" width="7.83" height="1.76" fill="#ecebf5" />
<rect x="88.08" y="339.34" width="7.83" height="1.76" fill="#dcdbee" />
<rect x="88.08" y="341.06" width="7.83" height="1.76" fill="#ecebf5" />
<rect x="88.08" y="342.77" width="7.83" height="1.76" fill="#deddef" />
<rect x="88.08" y="344.49" width="7.83" height="1.76" fill="#f7ecee" />
<rect x="95.86" y="250.20" width="7.83" height="1.76" fill="#e0dff0" />
<rect x="95.86" y="251.91" width="7.83" height="1.76" fill="#f5e3e4" />
<rect x="95.86" y="253.63" width="7.83" height="1.76" fill="#e7e6f3" />
<rect x="95.86" y="255.34" width="7.83" height="1.76" fill="#e6e5f3" />
<rect x="95.86" y="257.06" width="7.83" height="1.76" fill="#f9f3f4" />
<rect x="95.86" y="258.77" width="7.83" height="1.76" fill="#e5e4f2" />
<rect x="95.86" y="260.49" width="7.83" height="1.76" fill="#deddef" />
<rect x="95.86" y="262.20" width="7.83" height="1.76" fill="#e5e4f2" />
<rect x="95.86" y="263.91" width="7.83" height="1.76" fill="#dcdbee" />
<rect x="95.86" y="265.63" width="7.83" height="1.76" fill="#f8eff0" />
<rect x="95.86" y="267.34" width="7.83" height="1.76" fill="#f4f3f9" />
<rect x="95.86" y="269.06" width="7.83" height="1.76" fill="#f0eff7" />
<rect x="95.86" y="270.77" width="7.83" height="1.76" fill="#dbdaed" />
<rect x="95.86" y="272.49" width="7.83" height="1.76" fill="#f4f3f9" />
<rect x="95.86" y="274.20" width="7.83" height="1.76" fill="#e6e5f3" />
<rect x="95.86" y="275.91" width="7.83" height="1.76" fill="#f7edee" />
<rect x="95.86" y="277.63" width="7.83" height="1.76" fill="#d0cfe8" />
<rect x="95.86" y="279.34" width="7.83" height="1.76" fill="#e9e8f4" />
<rect x="95.86" y="281.06" width="7.83" height="1.76" fill="#f5f4fa" />
<rect x="95.86" y="282.77" width="7.83" height="1.76" fill="#f8eeef" />
<rect x="95.86" y="284.49" width="7.83" height="1.76" fill="#deddef" />
<rect x="95.86" y="286.20" width="7.83" height="1.76" fill="#f6f5fa" />
<rect x="95.86" y="287.91" width="7.83" height="1.76" fill="#d6d5eb" />
<rect x="95.86" y="289.63" width="7.83" height="1.76" fill="#d4d3ea" />
<rect x="95.86" y="291.34" width="7.83" height="1.76" fill="#cdcce6" />
<rect x="95.86" y="293.06" width="7.83" height="1.76" fill="#f5e2e4" />
<rect x="95.86" y="294.77" width="7.83" height="1.76" fill="#f1f0f8" />
<rect x="95.86" y="296.49" width="7.83" height="1.76" fill="#f8eff0" />
<rect x="95.86" y="298.20" width="7.83" height="1.76" fill="#f1f0f7" />
<rect x="95.86" y="299.91" width="7.83" height="1.76" fill="#f8f1f2" />
<rect x="95.86" y="301.63" width="7.83" height="1.76" fill="#f7edef" />
<rect x="95.86" y="303.34" width="7.83" height="1.76" fill="#f9f3f4" />
<rect x="95.86" y="305.06" width="7.83" height="1.76" fill="#f8eff0" />
<rect x="95.86" y="306.77" width="7.83" height="1.76" fill="#e7e6f3" />
<rect x="95.86" y="308.49" width="7.83" height="1.76" fill="#f9f3f4" />
<rect x="95.86" y="310.20" width="7.83" height="1.76" fill="#f5e4e5" />
<rect x="95.86" y="311.91" width="7.83" height="1.76" fill="#f8eeef" />
<rect x="95.86" y="313.63" width="7.83" height="1.76" fill="#e2e1f1" />
<rect x="95.86" y="315.34" width="7.83" height="1.76" fill="#e7e6f3" />
<rect x="95.86" y="317.06" width="7.83" height="1.76" fill="#f6e9ea" />
<rect x="95.86" y="318.77" width="7.83" height="1.76" fill="#d4d3ea" />
<rect x="95.86" y="320.49" width="7.83" height="1.76" fill="#f9f3f4" />
<rect x="95.86" y="322.20" width="7.83" height="1.76" fill="#f6f5fa" />
<rect x="95.86" y="323.91" width="7.83" height="1.76" fill="#f6f5fa" />
<rect x="95.86" y="325.63" width="7.83" height="1.76" fill="#e8e7f4" />
<rect x="95.86" y="327.34" width="7.83" height="1.76" fill="#f8f0f1" />
<rect x="95.86" y="329.06" width="7.83" height="1.76" fill="#e9e8f4" />
<rect x="95.86" y="330.77" width="7.83" height="1.76" fill="#e4e3f2" />
<rect x="95.86" y="332.49" width="7.83" height="1.76" fill="#edecf6" />
<rect x="95.86" y="334.20" width="7.83" height="1.76" fill="#e9e8f4" />
<rect x="95.86" y="335.91" width="7.83" height="1.76" fill="#f5f4fa" />
<rect x="95.86" y="337.63" width="7.83" height="1.76" fill="#f3f2f9" />
<rect x="95.86" y="339.34" width="7.83" height="1.76" fill="#e9e8f4" />
<rect x="95.86" y="341.06" width="7.83" height="1.76" fill="#e7e6f3" />
<rect x="95.86" y="342.77" width="7.83" height="1.76" fill="#f8f1f2" />
<rect x="95.86" y="344.49" width="7.83" height="1.76" fill="#f7edee" />
<rect x="103.64" y="250.20" width="7.83" height="1.76" fill="#efeef7" />
<rect x="103.64" y="251.91" width="7.83" height="1.76" fill="#f3f2f8" />
<rect x="103.64" y="253.63" width="7.83" height="1.76" fill="#dad9ed" />
<rect x="103.64" y="255.34" width="7.83" height="1.76" fill="#f9f3f4" />
<rect x="103.64" y="257.06" width="7.83" height="1.76" fill="#f2f1f8" />
<rect x="103.64" y="258.77" width="7.83" height="1.76" fill="#d9d8ed" />
<rect x="103.64" y="260.49" width="7.83" height="1.76" fill="#f6e7e9" />
<rect x="103.64" y="262.20" width="7.83" height="1.76" fill="#ebeaf5" />
<rect x="103.64" y="263.91" width="7.83" height="1.76" fill="#e7e6f3" />
<rect x="103.64" y="265.63" width="7.83" height="1.76" fill="#f3f2f9" />
<rect x="103.64" y="267.34" width="7.83" height="1.76" fill="#f2f1f8" />
<rect x="103.64" y="269.06" width="7.83" height="1.76" fill="#f1f0f8" />
<rect x="103.64" y="270.77" width="7.83" height="1.76" fill="#f8f1f3" />
<rect x="103.64" y="272.49" width="7.83" height="1.76" fill="#f2d5d7" />
<rect x="103.64" y="274.20" width="7.83" height="1.76" fill="#f4e0e2" />
<rect x="103.64" y="275.91" width="7.83" height="1.76" fill="#f7eced" />
<rect x="103.64" y="277.63" width="7.83" height="1.76" fill="#f2f1f8" />
<rect x="103.64" y="279.34" width="7.83" height="1.76" fill="#9e9ecd" />
<rect x="103.64" y="281.06" width="7.83" height="1.76" fill="#a8a7d2" />
<rect x="103.64" y="282.77" width="7.83" height="1.76" fill="#52529e" />
<rect x="103.64" y="284.49" width="7.83" height="1.76" fill="#c9c8e4" />
<rect x="103.64" y="286.20" width="7.83" height="1.76" fill="#dfdeef" />
<rect x="103.64" y="287.91" width="7.83" height="1.76" fill="#aeadd6" />
<rect x="103.64" y="289.63" width="7.83" height="1.76" fill="#7f7eb9" />
<rect x="103.64" y="291.34" width="7.83" height="1.76" fill="#f5e1e3" />
<rect x="103.64" y="293.06" width="7.83" height="1.76" fill="#d1d0e8" />
<rect x="103.64" y="294.77" width="7.83" height="1.76" fill="#e4e3f1" />
<rect x="103.64" y="296.49" width="7.83" height="1.76" fill="#f4e1e2" />
<rect x="103.64" y="298.20" width="7.83" height="1.76" fill="#c6c5e3" />
<rect x="103.64" y="299.91" width="7.83" height="1.76" fill="#ebeaf5" />
<rect x="103.64" y="301.63" width="7.83" height="1.76" fill="#f8eeef" />
<rect x="103.64" y="303.34" width="7.83" height="1.76" fill="#9594c7" />
<rect x="103.64" y="305.06" width="7.83" height="1.76" fill="#afaed6" />
<rect x="103.64" y="306.77" width="7.83" height="1.76" fill="#cac9e4" />
<rect x="103.64" y="308.49" width="7.83" height="1.76" fill="#9b9bcb" />
<rect x="103.64" y="310.20" width="7.83" height="1.76" fill="#b7b6db" />
<rect x="103.64" y="311.91" width="7.83" height="1.76" fill="#bbbadd" />
<rect x="103.64" y="313.63" width="7.83" height="1.76" fill="#cbcae5" />
<rect x="103.64" y="315.34" width="7.83" height="1.76" fill="#9b9acb" />
<rect x="103.64" y="317.06" width="7.83" height="1.76" fill="#c2c1e1" />
<rect x="103.64" y="318.77" width="7.83" height="1.76" fill="#6c6bae" />
<rect x="103.64" y="320.49" width="7.83" height="1.76" fill="#b1b0d8" />
<rect x="103.64" y="322.20" width="7.83" height="1.76" fill="#cfcee7" />
<rect x="103.64" y="323.91" width="7.83" height="1.76" fill="#a3a2cf" />
<rect x="103.64" y="325.63" width="7.83" height="1.76" fill="#a09fcd" />
<rect x="103.64" y="327.34" width="7.83" height="1.76" fill="#a5a4d0" />
<rect x="103.64" y="329.06" width="7.83" height="1.76" fill="#e7e6f3" />
<rect x="103.64" y="330.77" width="7.83" height="1.76" fill="#d5d4ea" />
<rect x="103.64" y="332.49" width="7.83" height="1.76" fill="#c2c1e0" />
<rect x="103.64" y="334.20" width="7.83" height="1.76" fill="#52529e" />
<rect x="103.64" y="335.91" width="7.83" height="1.76" fill="#bfbedf" />
<rect x="103.64" y="337.63" width="7.83" height="1.76" fill="#b8b7db" />
<rect x="103.64" y="339.34" width="7.83" height="1.76" fill="#cccbe6" />
<rect x="103.64" y="341.06" width="7.83" height="1.76" fill="#c4c3e2" />
<rect x="103.64" y="342.77" width="7.83" height="1.76" fill="#d5d4ea" />
<rect x="103.64" y="344.49" width="7.83" height="1.76" fill="#cfcee7" />
<rect x="111.42" y="250.20" width="7.83" height="1.76" fill="#efeef7" />
<rect x="111.42" y="251.91" width="7.83" height="1.76" fill="#f8f0f1" />
<rect x="111.42" y="253.63" width="7.83" height="1.76" fill="#dad9ed" />
<rect x="111.42" y="255.34" width="7.83" height="1.76" fill="#f9f3f4" />
<rect x="111.42" y="257.06" width="7.83" height="1.76" fill="#edecf6" />
<rect x="111.42" y="258.77" width="7.83" height="1.76" fill="#dcdbee" />
<rect x="111.42" y="260.49" width="7.83" height="1.76" fill="#f1d3d5" />
<rect x="111.42" y="262.20" width="7.83" height="1.76" fill="#f4f3f9" />
<rect x="111.42" y="263.91" width="7.83" height="1.76" fill="#efeef7" />
<rect x="111.42" y="265.63" width="7.83" height="1.76" fill="#e2e1f0" />
<rect x="111.42" y="267.34" width="7.83" height="1.76" fill="#f7ebec" />
<rect x="111.42" y="269.06" width="7.83" height="1.76" fill="#f9f4f5" />
<rect x="111.42" y="270.77" width="7.83" height="1.76" fill="#f6f5fa" />
<rect x="111.42" y="272.49" width="7.83" height="1.76" fill="#f4dddf" />
<rect x="111.42" y="274.20" width="7.83" height="1.76" fill="#f5e3e5" />
<rect x="111.42" y="275.91" width="7.83" height="1.76" fill="#f6e9ea" />
<rect x="111.42" y="277.63" width="7.83" height="1.76" fill="#eeedf6" />
<rect x="111.42" y="279.34" width="7.83" height="1.76" fill="#a2a1cf" />
<rect x="111.42" y="281.06" width="7.83" height="1.76" fill="#8d8cc2" />
<rect x="111.42" y="282.77" width="7.83" height="1.76" fill="#5959a2" />
<rect x="111.42" y="284.49" width="7.83" height="1.76" fill="#cccbe6" />
<rect x="111.42" y="286.20" width="7.83" height="1.76" fill="#cecde7" />
<rect x="111.42" y="287.91" width="7.83" height="1.76" fill="#9d9ccb" />
<rect x="111.42" y="289.63" width="7.83" height="1.76" fill="#8786be" />
<rect x="111.42" y="291.34" width="7.83" height="1.76" fill="#f4dfe0" />
<rect x="111.42" y="293.06" width="7.83" height="1.76" fill="#d9d8ed" />
<rect x="111.42" y="294.77" width="7.83" height="1.76" fill="#e3e2f1" />
<rect x="111.42" y="296.49" width="7.83" height="1.76" fill="#f0d0d2" />
<rect x="111.42" y="298.20" width="7.83" height="1.76" fill="#c9c8e4" />
<rect x="111.42" y="299.91" width="7.83" height="1.76" fill="#e5e4f2" />
<rect x="111.42" y="301.63" width="7.83" height="1.76" fill="#f2f1f8" />
<rect x="111.42" y="303.34" width="7.83" height="1.76" fill="#9493c6" />
<rect x="111.42" y="305.06" width="7.83" height="1.76" fill="#b6b5da" />
<rect x="111.42" y="306.77" width="7.83" height="1.76" fill="#cac9e4" />
<rect x="111.42" y="308.49" width="7.83" height="1.76" fill="#bfbedf" />
<rect x="111.42" y="310.20" width="7.83" height="1.76" fill="#a8a7d3" />
<rect x="111.42" y="311.91" width="7.83" height="1.76" fill="#b5b4d9" />
<rect x="111.42" y="313.63" width="7.83" height="1.76" fill="#c0bfdf" />
<rect x="111.42" y="315.34" width="7.83" height="1.76" fill="#a8a7d2" />
<rect x="111.42" y="317.06" width="7.83" height="1.76" fill="#c2c1e0" />
<rect x="111.42" y="318.77" width="7.83" height="1.76" fill="#9897c9" />
<rect x="111.42" y="320.49" width="7.83" height="1.76" fill="#9493c6" />
<rect x="111.42" y="322.20" width="7.83" height="1.76" fill="#cecde7" />
<rect x="111.42" y="323.91" width="7.83" height="1.76" fill="#9b9aca" />
<rect x="111.42" y="325.63" width="7.83" height="1.76" fill="#9695c7" />
<rect x="111.42" y="327.34" width="7.83" height="1.76" fill="#8c8cc1" />
<rect x="111.42" y="329.06" width="7.83" height="1.76" fill="#d0cfe8" />
<rect x="111.42" y="330.77" width="7.83" height="1.76" fill="#b4b3d9" />
<rect x="111.42" y="332.49" width="7.83" height="1.76" fill="#c6c5e3" />
<rect x="111.42" y="334.20" width="7.83" height="1.76" fill="#52529e" />
<rect x="111.42" y="335.91" width="7.83" height="1.76" fill="#c7c6e3" />
<rect x="111.42" y="337.63" width="7.83" height="1.76" fill="#9f9ecd" />
<rect x="111.42" y="339.34" width="7.83" height="1.76" fill="#cac9e5" />
<rect x="111.42" y="341.06" width="7.83" height="1.76" fill="#bdbcde" />
<rect x="111.42" y="342.77" width="7.83" height="1.76" fill="#a4a3d0" />
<rect x="111.42" y="344.49" width="7.83" height="1.76" fill="#bfbedf" />
<rect x="119.20" y="250.20" width="7.83" height="1.76" fill="#e6e5f3" />
<rect x="119.20" y="251.91" width="7.83" height="1.76" fill="#f4dfe1" />
<rect x="119.20" y="253.63" width="7.83" height="1.76" fill="#f9f2f3" />
<rect x="119.20" y="255.34" width="7.83" height="1.76" fill="#f5e1e3" />
<rect x="119.20" y="257.06" width="7.83" height="1.76" fill="#f0ced1" />
<rect x="119.20" y="258.77" width="7.83" height="1.76" fill="#e8b4b9" />
<rect x="119.20" y="260.49" width="7.83" height="1.76" fill="#f5e4e6" />
<rect x="119.20" y="262.20" width="7.83" height="1.76" fill="#f3dadc" />
<rect x="119.20" y="263.91" width="7.83" height="1.76" fill="#eec9cc" />
<rect x="119.20" y="265.63" width="7.83" height="1.76" fill="#f1d4d6" />
<rect x="119.20" y="267.34" width="7.83" height="1.76" fill="#f3dcdd" />
<rect x="119.20" y="269.06" width="7.83" height="1.76" fill="#f7eaec" />
<rect x="119.20" y="270.77" width="7.83" height="1.76" fill="#e3a5ab" />
<rect x="119.20" y="272.49" width="7.83" height="1.76" fill="#e8b4b9" />
<rect x="119.20" y="274.20" width="7.83" height="1.76" fill="#f5e3e4" />
<rect x="119.20" y="275.91" width="7.83" height="1.76" fill="#f2d6d8" />
<rect x="119.20" y="277.63" width="7.83" height="1.76" fill="#e9b8bc" />
<rect x="119.20" y="279.34" width="7.83" height="1.76" fill="#f5e3e4" />
<rect x="119.20" y="281.06" width="7.83" height="1.76" fill="#e8b4b9" />
<rect x="119.20" y="282.77" width="7.83" height="1.76" fill="#edc4c7" />
<rect x="119.20" y="284.49" width="7.83" height="1.76" fill="#f9f3f4" />
<rect x="119.20" y="286.20" width="7.83" height="1.76" fill="#f7ecee" />
<rect x="119.20" y="287.91" width="7.83" height="1.76" fill="#e3e2f1" />
<rect x="119.20" y="289.63" width="7.83" height="1.76" fill="#deddef" />
<rect x="119.20" y="291.34" width="7.83" height="1.76" fill="#edecf6" />
<rect x="119.20" y="293.06" width="7.83" height="1.76" fill="#f8eeef" />
<rect x="119.20" y="294.77" width="7.83" height="1.76" fill="#e9e8f4" />
<rect x="119.20" y="296.49" width="7.83" height="1.76" fill="#f5f4f9" />
<rect x="119.20" y="298.20" width="7.83" height="1.76" fill="#f9f3f4" />
<rect x="119.20" y="299.91" width="7.83" height="1.76" fill="#f8eff0" />
<rect x="119.20" y="301.63" width="7.83" height="1.76" fill="#f4f3f9" />
<rect x="119.20" y="303.34" width="7.83" height="1.76" fill="#e1e0f0" />
<rect x="119.20" y="305.06" width="7.83" height="1.76" fill="#d9d8ec" />
<rect x="119.20" y="306.77" width="7.83" height="1.76" fill="#e2e1f1" />
<rect x="119.20" y="308.49" width="7.83" height="1.76" fill="#eeedf6" />
<rect x="119.20" y="310.20" width="7.83" height="1.76" fill="#e3e2f1" />
<rect x="119.20" y="311.91" width="7.83" height="1.76" fill="#d4d3ea" />
<rect x="119.20" y="313.63" width="7.83" height="1.76" fill="#e2e1f1" />
<rect x="119.20" y="315.34" width="7.83" height="1.76" fill="#e0dff0" />
<rect x="119.20" y="317.06" width="7.83" height="1.76" fill="#f0eff7" />
<rect x="119.20" y="318.77" width="7.83" height="1.76" fill="#dfdeef" />
<rect x="119.20" y="320.49" width="7.83" height="1.76" fill="#e0dff0" />
<rect x="119.20" y="322.20" width="7.83" height="1.76" fill="#e6e5f3" />
<rect x="119.20" y="323.91" width="7.83" height="1.76" fill="#c8c7e4" />
<rect x="119.20" y="325.63" width="7.83" height="1.76" fill="#e1e0f0" />
<rect x="119.20" y="327.34" width="7.83" height="1.76" fill="#f5e3e5" />
<rect x="119.20" y="329.06" width="7.83" height="1.76" fill="#e7e6f3" />
<rect x="119.20" y="330.77" width="7.83" height="1.76" fill="#e9e8f4" />
<rect x="119.20" y="332.49" width="7.83" height="1.76" fill="#f3f2f9" />
<rect x="119.20" y="334.20" width="7.83" height="1.76" fill="#d2d1e9" />
<rect x="119.20" y="335.91" width="7.83" height="1.76" fill="#c2c1e1" />
<rect x="119.20" y="337.63" width="7.83" height="1.76" fill="#deddef" />
<rect x="119.20" y="339.34" width="7.83" height="1.76" fill="#bcbbdd" />
<rect x="119.20" y="341.06" width="7.83" height="1.76" fill="#f1f0f8" />
<rect x="119.20" y="342.77" width="7.83" height="1.76" fill="#d7d6ec" />
<rect x="119.20" y="344.49" width="7.83" height="1.76" fill="#c3c2e1" />
<rect x="126.98" y="250.20" width="7.83" height="1.76" fill="#d1d0e8" />
<rect x="126.98" y="251.91" width="7.83" height="1.76" fill="#f1d1d3" />
<rect x="126.98" y="253.63" width="7.83" height="1.76" fill="#f4e0e1" />
<rect x="126.98" y="255.34" width="7.83" height="1.76" fill="#f6e5e7" />
<rect x="126.98" y="257.06" width="7.83" height="1.76" fill="#ebc0c3" />
<rect x="126.98" y="258.77" width="7.83" height="1.76" fill="#e6b0b4" />
<rect x="126.98" y="260.49" width="7.83" height="1.76" fill="#f5e2e4" />
<rect x="126.98" y="262.20" width="7.83" height="1.76" fill="#f4e0e2" />
<rect x="126.98" y="263.91" width="7.83" height="1.76" fill="#eec9cc" />
<rect x="126.98" y="265.63" width="7.83" height="1.76" fill="#f3d9db" />
<rect x="126.98" y="267.34" width="7.83" height="1.76" fill="#f3d9db" />
<rect x="126.98" y="269.06" width="7.83" height="1.76" fill="#f6e5e7" />
<rect x="126.98" y="270.77" width="7.83" height="1.76" fill="#eabbbf" />
<rect x="126.98" y="272.49" width="7.83" height="1.76" fill="#ecc3c7" />
<rect x="126.98" y="274.20" width="7.83" height="1.76" fill="#f6e6e7" />
<rect x="126.98" y="275.91" width="7.83" height="1.76" fill="#f6e8e9" />
<rect x="126.98" y="277.63" width="7.83" height="1.76" fill="#ecc1c4" />
<rect x="126.98" y="279.34" width="7.83" height="1.76" fill="#f4dfe0" />
<rect x="126.98" y="281.06" width="7.83" height="1.76" fill="#e9b7bc" />
<rect x="126.98" y="282.77" width="7.83" height="1.76" fill="#ecc3c6" />
<rect x="126.98" y="284.49" width="7.83" height="1.76" fill="#eeedf6" />
<rect x="126.98" y="286.20" width="7.83" height="1.76" fill="#f1f0f8" />
<rect x="126.98" y="287.91" width="7.83" height="1.76" fill="#dbdaee" />
<rect x="126.98" y="289.63" width="7.83" height="1.76" fill="#e4e3f2" />
<rect x="126.98" y="291.34" width="7.83" height="1.76" fill="#f9f2f3" />
<rect x="126.98" y="293.06" width="7.83" height="1.76" fill="#f5e4e5" />
<rect x="126.98" y="294.77" width="7.83" height="1.76" fill="#e4e3f2" />
<rect x="126.98" y="296.49" width="7.83" height="1.76" fill="#f9f3f4" />
<rect x="126.98" y="298.20" width="7.83" height="1.76" fill="#f7edee" />
<rect x="126.98" y="299.91" width="7.83" height="1.76" fill="#f7eaeb" />
<rect x="126.98" y="301.63" width="7.83" height="1.76" fill="#eeedf6" />
<rect x="126.98" y="303.34" width="7.83" height="1.76" fill="#dad9ed" />
<rect x="126.98" y="305.06" width="7.83" height="1.76" fill="#dbdaed" />
<rect x="126.98" y="306.77" width="7.83" height="1.76" fill="#efeef7" />
<rect x="126.98" y="308.49" width="7.83" height="1.76" fill="#deddef" />
<rect x="126.98" y="310.20" width="7.83" height="1.76" fill="#cecde7" />
<rect x="126.98" y="311.91" width="7.83" height="1.76" fill="#dad9ed" />
<rect x="126.98" y="313.63" width="7.83" height="1.76" fill="#cfcee7" />
<rect x="126.98" y="315.34" width="7.83" height="1.76" fill="#dddcef" />
<rect x="126.98" y="317.06" width="7.83" height="1.76" fill="#eeedf6" />
<rect x="126.98" y="318.77" width="7.83" height="1.76" fill="#dbdaee" />
<rect x="126.98" y="320.49" width="7.83" height="1.76" fill="#dfdeef" />
<rect x="126.98" y="322.20" width="7.83" height="1.76" fill="#e2e1f1" />
<rect x="126.98" y="323.91" width="7.83" height="1.76" fill="#bbbadd" />
<rect x="126.98" y="325.63" width="7.83" height="1.76" fill="#e9e8f4" />
<rect x="126.98" y="327.34" width="7.83" height="1.76" fill="#f2f1f8" />
<rect x="126.98" y="329.06" width="7.83" height="1.76" fill="#e1e0f0" />
<rect x="126.98" y="330.77" width="7.83" height="1.76" fill="#cecde6" />
<rect x="126.98" y="332.49" width="7.83" height="1.76" fill="#e5e4f2" />
<rect x="126.98" y="334.20" width="7.83" height="1.76" fill="#cbcae5" />
<rect x="126.98" y="335.91" width="7.83" height="1.76" fill="#d0cfe8" />
<rect x="126.98" y="337.63" width="7.83" height="1.76" fill="#deddef" />
<rect x="126.98" y="339.34" width="7.83" height="1.76" fill="#cac9e5" />
<rect x="126.98" y="341.06" width="7.83" height="1.76" fill="#ecebf6" />
<rect x="126.98" y="342.77" width="7.83" height="1.76" fill="#dddcef" />
<rect x="126.98" y="344.49" width="7.83" height="1.76" fill="#cecde7" />
<rect x="134.76" y="250.20" width="7.83" height="1.76" fill="#dfdeef" />
<rect x="134.76" y="251.91" width="7.83" height="1.76" fill="#f4e0e2" />
<rect x="134.76" y="253.63" width="7.83" height="1.76" fill="#f2f1f8" />
<rect x="134.76" y="255.34" width="7.83" height="1.76" fill="#f4dddf" />
<rect x="134.76" y="257.06" width="7.83" height="1.76" fill="#e9babe" />
<rect x="134.76" y="258.77" width="7.83" height="1.76" fill="#e8b4b9" />
<rect x="134.76" y="260.49" width="7.83" height="1.76" fill="#f7eeef" />
<rect x="134.76" y="262.20" width="7.83" height="1.76" fill="#f3dbdd" />
<rect x="134.76" y="263.91" width="7.83" height="1.76" fill="#eabbbf" />
<rect x="134.76" y="265.63" width="7.83" height="1.76" fill="#eec7ca" />
<rect x="134.76" y="267.34" width="7.83" height="1.76" fill="#f2d4d6" />
<rect x="134.76" y="269.06" width="7.83" height="1.76" fill="#f9f4f5" />
<rect x="134.76" y="270.77" width="7.83" height="1.76" fill="#edc6c9" />
<rect x="134.76" y="272.49" width="7.83" height="1.76" fill="#e4aaaf" />
<rect x="134.76" y="274.20" width="7.83" height="1.76" fill="#f8f0f1" />
<rect x="134.76" y="275.91" width="7.83" height="1.76" fill="#f4e0e1" />
<rect x="134.76" y="277.63" width="7.83" height="1.76" fill="#e7b3b7" />
<rect x="134.76" y="279.34" width="7.83" height="1.76" fill="#f0cfd2" />
<rect x="134.76" y="281.06" width="7.83" height="1.76" fill="#e6b0b5" />
<rect x="134.76" y="282.77" width="7.83" height="1.76" fill="#f1d1d3" />
<rect x="134.76" y="284.49" width="7.83" height="1.76" fill="#e2e1f1" />
<rect x="134.76" y="286.20" width="7.83" height="1.76" fill="#f3f2f9" />
<rect x="134.76" y="287.91" width="7.83" height="1.76" fill="#dddcee" />
<rect x="134.76" y="289.63" width="7.83" height="1.76" fill="#e5e4f2" />
<rect x="134.76" y="291.34" width="7.83" height="1.76" fill="#f9f2f3" />
<rect x="134.76" y="293.06" width="7.83" height="1.76" fill="#f8f1f2" />
<rect x="134.76" y="294.77" width="7.83" height="1.76" fill="#e7e6f3" />
<rect x="134.76" y="296.49" width="7.83" height="1.76" fill="#f7eaec" />
<rect x="134.76" y="298.20" width="7.83" height="1.76" fill="#f8f0f1" />
<rect x="134.76" y="299.91" width="7.83" height="1.76" fill="#f4dddf" />
<rect x="134.76" y="301.63" width="7.83" height="1.76" fill="#f9f3f4" />
<rect x="134.76" y="303.34" width="7.83" height="1.76" fill="#e0dff0" />
<rect x="134.76" y="305.06" width="7.83" height="1.76" fill="#dad9ed" />
<rect x="134.76" y="306.77" width="7.83" height="1.76" fill="#e6e5f3" />
<rect x="134.76" y="308.49" width="7.83" height="1.76" fill="#efeef7" />
<rect x="134.76" y="310.20" width="7.83" height="1.76" fill="#dad9ed" />
<rect x="134.76" y="311.91" width="7.83" height="1.76" fill="#cac9e5" />
<rect x="134.76" y="313.63" width="7.83" height="1.76" fill="#d6d5eb" />
<rect x="134.76" y="315.34" width="7.83" height="1.76" fill="#dcdbee" />
<rect x="134.76" y="317.06" width="7.83" height="1.76" fill="#e8e7f4" />
<rect x="134.76" y="318.77" width="7.83" height="1.76" fill="#e3e2f1" />
<rect x="134.76" y="320.49" width="7.83" height="1.76" fill="#deddef" />
<rect x="134.76" y="322.20" width="7.83" height="1.76" fill="#e6e5f2" />
<rect x="134.76" y="323.91" width="7.83" height="1.76" fill="#bfbedf" />
<rect x="134.76" y="325.63" width="7.83" height="1.76" fill="#dfdeef" />
<rect x="134.76" y="327.34" width="7.83" height="1.76" fill="#f9f2f3" />
<rect x="134.76" y="329.06" width="7.83" height="1.76" fill="#d9d8ec" />
<rect x="134.76" y="330.77" width="7.83" height="1.76" fill="#e0dff0" />
<rect x="134.76" y="332.49" width="7.83" height="1.76" fill="#e3e2f1" />
<rect x="134.76" y="334.20" width="7.83" height="1.76" fill="#cecde7" />
<rect x="134.76" y="335.91" width="7.83" height="1.76" fill="#b5b4da" />
<rect x="134.76" y="337.63" width="7.83" height="1.76" fill="#dbdaed" />
<rect x="134.76" y="339.34" width="7.83" height="1.76" fill="#cdcce6" />
<rect x="134.76" y="341.06" width="7.83" height="1.76" fill="#f9f3f4" />
<rect x="134.76" y="342.77" width="7.83" height="1.76" fill="#d7d6ec" />
<rect x="134.76" y="344.49" width="7.83" height="1.76" fill="#b6b5da" />
<rect x="142.54" y="250.20" width="7.83" height="1.76" fill="#e5e4f2" />
<rect x="142.54" y="251.91" width="7.83" height="1.76" fill="#f2f1f8" />
<rect x="142.54" y="253.63" width="7.83" height="1.76" fill="#e0dff0" />
<rect x="142.54" y="255.34" width="7.83" height="1.76" fill="#deddef" />
<rect x="142.54" y="257.06" width="7.83" height="1.76" fill="#e0dff0" />
<rect x="142.54" y="258.77" width="7.83" height="1.76" fill="#e8e7f4" />
<rect x="142.54" y="260.49" width="7.83" height="1.76" fill="#ebeaf5" />
<rect x="142.54" y="262.20" width="7.83" height="1.76" fill="#f8f0f1" />
<rect x="142.54" y="263.91" width="7.83" height="1.76" fill="#f5e4e6" />
<rect x="142.54" y="265.63" width="7.83" height="1.76" fill="#eeedf6" />
<rect x="142.54" y="267.34" width="7.83" height="1.76" fill="#eeedf6" />
<rect x="142.54" y="269.06" width="7.83" height="1.76" fill="#f8f1f2" />
<rect x="142.54" y="270.77" width="7.83" height="1.76" fill="#e1e0f0" />
<rect x="142.54" y="272.49" width="7.83" height="1.76" fill="#f5e5e6" />
<rect x="142.54" y="274.20" width="7.83" height="1.76" fill="#f7eaeb" />
<rect x="142.54" y="275.91" width="7.83" height="1.76" fill="#d1d0e8" />
<rect x="142.54" y="277.63" width="7.83" height="1.76" fill="#e3e2f1" />
<rect x="142.54" y="279.34" width="7.83" height="1.76" fill="#dcdbee" />
<rect x="142.54" y="281.06" width="7.83" height="1.76" fill="#e9e8f4" />
<rect x="142.54" y="282.77" width="7.83" height="1.76" fill="#f9f4f5" />
<rect x="142.54" y="284.49" width="7.83" height="1.76" fill="#f6e5e7" />
<rect x="142.54" y="286.20" width="7.83" height="1.76" fill="#f1f0f8" />
<rect x="142.54" y="287.91" width="7.83" height="1.76" fill="#ecebf5" />
<rect x="142.54" y="289.63" width="7.83" height="1.76" fill="#f3dcde" />
<rect x="142.54" y="291.34" width="7.83" height="1.76" fill="#f9f3f4" />
<rect x="142.54" y="293.06" width="7.83" height="1.76" fill="#acabd5" />
<rect x="142.54" y="294.77" width="7.83" height="1.76" fill="#adacd5" />
<rect x="142.54" y="296.49" width="7.83" height="1.76" fill="#f8f2f3" />
<rect x="142.54" y="298.20" width="7.83" height="1.76" fill="#a3a2cf" />
<rect x="142.54" y="299.91" width="7.83" height="1.76" fill="#dcdbee" />
<rect x="142.54" y="301.63" width="7.83" height="1.76" fill="#cecde7" />
<rect x="142.54" y="303.34" width="7.83" height="1.76" fill="#afaed6" />
<rect x="142.54" y="305.06" width="7.83" height="1.76" fill="#a09fce" />
<rect x="142.54" y="306.77" width="7.83" height="1.76" fill="#b6b5da" />
<rect x="142.54" y="308.49" width="7.83" height="1.76" fill="#d2d1e9" />
<rect x="142.54" y="310.20" width="7.83" height="1.76" fill="#cfcee7" />
<rect x="142.54" y="311.91" width="7.83" height="1.76" fill="#cdcce6" />
<rect x="142.54" y="313.63" width="7.83" height="1.76" fill="#8c8bc1" />
<rect x="142.54" y="315.34" width="7.83" height="1.76" fill="#c8c7e4" />
<rect x="142.54" y="317.06" width="7.83" height="1.76" fill="#cecde7" />
<rect x="142.54" y="318.77" width="7.83" height="1.76" fill="#adacd5" />
<rect x="142.54" y="320.49" width="7.83" height="1.76" fill="#b3b2d9" />
<rect x="142.54" y="322.20" width="7.83" height="1.76" fill="#b0afd7" />
<rect x="142.54" y="323.91" width="7.83" height="1.76" fill="#b0afd7" />
<rect x="142.54" y="325.63" width="7.83" height="1.76" fill="#6c6cae" />
<rect x="142.54" y="327.34" width="7.83" height="1.76" fill="#acabd5" />
<rect x="142.54" y="329.06" width="7.83" height="1.76" fill="#9090c4" />
<rect x="142.54" y="330.77" width="7.83" height="1.76" fill="#7170b1" />
<rect x="142.54" y="332.49" width="7.83" height="1.76" fill="#9594c7" />
<rect x="142.54" y="334.20" width="7.83" height="1.76" fill="#5959a2" />
<rect x="142.54" y="335.91" width="7.83" height="1.76" fill="#b1b0d8" />
<rect x="142.54" y="337.63" width="7.83" height="1.76" fill="#c1c0e0" />
<rect x="142.54" y="339.34" width="7.83" height="1.76" fill="#b0afd7" />
<rect x="142.54" y="341.06" width="7.83" height="1.76" fill="#f1f0f8" />
<rect x="142.54" y="342.77" width="7.83" height="1.76" fill="#ebeaf5" />
<rect x="142.54" y="344.49" width="7.83" height="1.76" fill="#deddef" />
<rect x="150.32" y="250.20" width="7.83" height="1.76" fill="#f7edee" />
<rect x="150.32" y="251.91" width="7.83" height="1.76" fill="#e6e5f3" />
<rect x="150.32" y="253.63" width="7.83" height="1.76" fill="#eae9f5" />
<rect x="150.32" y="255.34" width="7.83" height="1.76" fill="#d8d7ec" />
<rect x="150.32" y="257.06" width="7.83" height="1.76" fill="#cecde7" />
<rect x="150.32" y="258.77" width="7.83" height="1.76" fill="#b9b8dc" />
<rect x="150.32" y="260.49" width="7.83" height="1.76" fill="#f2f1f8" />
<rect x="150.32" y="262.20" width="7.83" height="1.76" fill="#f7edee" />
<rect x="150.32" y="263.91" width="7.83" height="1.76" fill="#dddcee" />
<rect x="150.32" y="265.63" width="7.83" height="1.76" fill="#f4f3f9" />
<rect x="150.32" y="267.34" width="7.83" height="1.76" fill="#f5f4fa" />
<rect x="150.32" y="269.06" width="7.83" height="1.76" fill="#dfdeef" />
<rect x="150.32" y="270.77" width="7.83" height="1.76" fill="#d2d1e9" />
<rect x="150.32" y="272.49" width="7.83" height="1.76" fill="#ebeaf5" />
<rect x="150.32" y="274.20" width="7.83" height="1.76" fill="#eeedf6" />
<rect x="150.32" y="275.91" width="7.83" height="1.76" fill="#d8d7ec" />
<rect x="150.32" y="277.63" width="7.83" height="1.76" fill="#d9d8ed" />
<rect x="150.32" y="279.34" width="7.83" height="1.76" fill="#e0dff0" />
<rect x="150.32" y="281.06" width="7.83" height="1.76" fill="#f1f0f8" />
<rect x="150.32" y="282.77" width="7.83" height="1.76" fill="#f8eeef" />
<rect x="150.32" y="284.49" width="7.83" height="1.76" fill="#f9f3f4" />
<rect x="150.32" y="286.20" width="7.83" height="1.76" fill="#f8eeef" />
<rect x="150.32" y="287.91" width="7.83" height="1.76" fill="#dcdbee" />
<rect x="150.32" y="289.63" width="7.83" height="1.76" fill="#deddef" />
<rect x="150.32" y="291.34" width="7.83" height="1.76" fill="#e1e0f0" />
<rect x="150.32" y="293.06" width="7.83" height="1.76" fill="#e8e7f4" />
<rect x="150.32" y="294.77" width="7.83" height="1.76" fill="#e9e8f4" />
<rect x="150.32" y="296.49" width="7.83" height="1.76" fill="#f6e8ea" />
<rect x="150.32" y="298.20" width="7.83" height="1.76" fill="#e3e2f1" />
<rect x="150.32" y="299.91" width="7.83" height="1.76" fill="#d9d8ec" />
<rect x="150.32" y="301.63" width="7.83" height="1.76" fill="#cdcce6" />
<rect x="150.32" y="303.34" width="7.83" height="1.76" fill="#dbdaed" />
<rect x="150.32" y="305.06" width="7.83" height="1.76" fill="#deddef" />
<rect x="150.32" y="306.77" width="7.83" height="1.76" fill="#d6d5eb" />
<rect x="150.32" y="308.49" width="7.83" height="1.76" fill="#dcdbee" />
<rect x="150.32" y="310.20" width="7.83" height="1.76" fill="#d2d1e9" />
<rect x="150.32" y="311.91" width="7.83" height="1.76" fill="#e1e0f0" />
<rect x="150.32" y="313.63" width="7.83" height="1.76" fill="#f1f0f8" />
<rect x="150.32" y="315.34" width="7.83" height="1.76" fill="#d7d6eb" />
<rect x="150.32" y="317.06" width="7.83" height="1.76" fill="#eae9f4" />
<rect x="150.32" y="318.77" width="7.83" height="1.76" fill="#d9d8ed" />
<rect x="150.32" y="320.49" width="7.83" height="1.76" fill="#b3b2d8" />
<rect x="150.32" y="322.20" width="7.83" height="1.76" fill="#dbdaed" />
<rect x="150.32" y="323.91" width="7.83" height="1.76" fill="#cccbe6" />
<rect x="150.32" y="325.63" width="7.83" height="1.76" fill="#cfcee7" />
<rect x="150.32" y="327.34" width="7.83" height="1.76" fill="#edecf6" />
<rect x="150.32" y="329.06" width="7.83" height="1.76" fill="#c1c0e0" />
<rect x="150.32" y="330.77" width="7.83" height="1.76" fill="#cac9e5" />
<rect x="150.32" y="332.49" width="7.83" height="1.76" fill="#dfdeef" />
<rect x="150.32" y="334.20" width="7.83" height="1.76" fill="#d9d8ec" />
<rect x="150.32" y="335.91" width="7.83" height="1.76" fill="#f3f2f9" />
<rect x="150.32" y="337.63" width="7.83" height="1.76" fill="#e4e3f2" />
<rect x="150.32" y="339.34" width="7.83" height="1.76" fill="#d8d7ec" />
<rect x="150.32" y="341.06" width="7.83" height="1.76" fill="#dfdeef" />
<rect x="150.32" y="342.77" width="7.83" height="1.76" fill="#dcdbee" />
<rect x="150.32" y="344.49" width="7.83" height="1.76" fill="#edecf6" />
<rect x="158.10" y="250.20" width="7.83" height="1.76" fill="#ebeaf5" />
<rect x="158.10" y="251.91" width="7.83" height="1.76" fill="#e0dff0" />
<rect x="158.10" y="253.63" width="7.83" height="1.76" fill="#efeef7" />
<rect x="158.10" y="255.34" width="7.83" height="1.76" fill="#c1c0e0" />
<rect x="158.10" y="257.06" width="7.83" height="1.76" fill="#d3d2e9" />
<rect x="158.10" y="258.77" width="7.83" height="1.76" fill="#a7a7d2" />
<rect x="158.10" y="260.49" width="7.83" height="1.76" fill="#f0eff7" />
<rect x="158.10" y="262.20" width="7.83" height="1.76" fill="#f2f1f8" />
<rect x="158.10" y="263.91" width="7.83" height="1.76" fill="#e1e0f0" />
<rect x="158.10" y="265.63" width="7.83" height="1.76" fill="#e4e3f2" />
<rect x="158.10" y="267.34" width="7.83" height="1.76" fill="#f8f0f1" />
<rect x="158.10" y="269.06" width="7.83" height="1.76" fill="#d8d7ec" />
<rect x="158.10" y="270.77" width="7.83" height="1.76" fill="#c8c7e3" />
<rect x="158.10" y="272.49" width="7.83" height="1.76" fill="#e6e5f3" />
<rect x="158.10" y="274.20" width="7.83" height="1.76" fill="#eae9f4" />
<rect x="158.10" y="275.91" width="7.83" height="1.76" fill="#d7d6eb" />
<rect x="158.10" y="277.63" width="7.83" height="1.76" fill="#cccbe6" />
<rect x="158.10" y="279.34" width="7.83" height="1.76" fill="#e4e3f2" />
<rect x="158.10" y="281.06" width="7.83" height="1.76" fill="#e8e7f3" />
<rect x="158.10" y="282.77" width="7.83" height="1.76" fill="#eeedf6" />
<rect x="158.10" y="284.49" width="7.83" height="1.76" fill="#f6e6e7" />
<rect x="158.10" y="286.20" width="7.83" height="1.76" fill="#ecebf5" />
<rect x="158.10" y="287.91" width="7.83" height="1.76" fill="#dddcee" />
<rect x="158.10" y="289.63" width="7.83" height="1.76" fill="#dfdeef" />
<rect x="158.10" y="291.34" width="7.83" height="1.76" fill="#dcdbee" />
<rect x="158.10" y="293.06" width="7.83" height="1.76" fill="#e6e5f2" />
<rect x="158.10" y="294.77" width="7.83" height="1.76" fill="#e7e6f3" />
<rect x="158.10" y="296.49" width="7.83" height="1.76" fill="#f3f2f8" />
<rect x="158.10" y="298.20" width="7.83" height="1.76" fill="#e3e2f1" />
<rect x="158.10" y="299.91" width="7.83" height="1.76" fill="#d8d7ec" />
<rect x="158.10" y="301.63" width="7.83" height="1.76" fill="#bdbcde" />
<rect x="158.10" y="303.34" width="7.83" height="1.76" fill="#deddef" />
<rect x="158.10" y="305.06" width="7.83" height="1.76" fill="#deddef" />
<rect x="158.10" y="306.77" width="7.83" height="1.76" fill="#c8c7e4" />
<rect x="158.10" y="308.49" width="7.83" height="1.76" fill="#dcdbee" />
<rect x="158.10" y="310.20" width="7.83" height="1.76" fill="#d6d5eb" />
<rect x="158.10" y="311.91" width="7.83" height="1.76" fill="#e8e7f3" />
<rect x="158.10" y="313.63" width="7.83" height="1.76" fill="#e3e2f1" />
<rect x="158.10" y="315.34" width="7.83" height="1.76" fill="#e0dff0" />
<rect x="158.10" y="317.06" width="7.83" height="1.76" fill="#e6e5f3" />
<rect x="158.10" y="318.77" width="7.83" height="1.76" fill="#d3d2e9" />
<rect x="158.10" y="320.49" width="7.83" height="1.76" fill="#adacd5" />
<rect x="158.10" y="322.20" width="7.83" height="1.76" fill="#dbdaed" />
<rect x="158.10" y="323.91" width="7.83" height="1.76" fill="#d0cfe8" />
<rect x="158.10" y="325.63" width="7.83" height="1.76" fill="#d0cfe8" />
<rect x="158.10" y="327.34" width="7.83" height="1.76" fill="#e0dff0" />
<rect x="158.10" y="329.06" width="7.83" height="1.76" fill="#d8d7ec" />
<rect x="158.10" y="330.77" width="7.83" height="1.76" fill="#c2c1e1" />
<rect x="158.10" y="332.49" width="7.83" height="1.76" fill="#c9c8e4" />
<rect x="158.10" y="334.20" width="7.83" height="1.76" fill="#dddcee" />
<rect x="158.10" y="335.91" width="7.83" height="1.76" fill="#ebeaf5" />
<rect x="158.10" y="337.63" width="7.83" height="1.76" fill="#e7e6f3" />
<rect x="158.10" y="339.34" width="7.83" height="1.76" fill="#c8c7e4" />
<rect x="158.10" y="341.06" width="7.83" height="1.76" fill="#d6d5eb" />
<rect x="158.10" y="342.77" width="7.83" height="1.76" fill="#ecebf5" />
<rect x="158.10" y="344.49" width="7.83" height="1.76" fill="#e0dff0" />
<rect x="165.88" y="250.20" width="7.83" height="1.76" fill="#d4d3ea" />
<rect x="165.88" y="251.91" width="7.83" height="1.76" fill="#dad9ed" />
<rect x="165.88" y="253.63" width="7.83" height="1.76" fill="#dbdaee" />
<rect x="165.88" y="255.34" width="7.83" height="1.76" fill="#bbbadd" />
<rect x="165.88" y="257.06" width="7.83" height="1.76" fill="#c1c0e0" />
<rect x="165.88" y="258.77" width="7.83" height="1.76" fill="#9796c8" />
<rect x="165.88" y="260.49" width="7.83" height="1.76" fill="#e2e1f1" />
<rect x="165.88" y="262.20" width="7.83" height="1.76" fill="#f6e9eb" />
<rect x="165.88" y="263.91" width="7.83" height="1.76" fill="#cfcee7" />
<rect x="165.88" y="265.63" width="7.83" height="1.76" fill="#f8f1f2" />
<rect x="165.88" y="267.34" width="7.83" height="1.76" fill="#f1f0f8" />
<rect x="165.88" y="269.06" width="7.83" height="1.76" fill="#cccbe6" />
<rect x="165.88" y="270.77" width="7.83" height="1.76" fill="#cbcae5" />
<rect x="165.88" y="272.49" width="7.83" height="1.76" fill="#e8e7f4" />
<rect x="165.88" y="274.20" width="7.83" height="1.76" fill="#e0dff0" />
<rect x="165.88" y="275.91" width="7.83" height="1.76" fill="#e3e2f1" />
<rect x="165.88" y="277.63" width="7.83" height="1.76" fill="#d1d0e8" />
<rect x="165.88" y="279.34" width="7.83" height="1.76" fill="#dcdbee" />
<rect x="165.88" y="281.06" width="7.83" height="1.76" fill="#f3f2f9" />
<rect x="165.88" y="282.77" width="7.83" height="1.76" fill="#eeedf6" />
<rect x="165.88" y="284.49" width="7.83" height="1.76" fill="#f5f4fa" />
<rect x="165.88" y="286.20" width="7.83" height="1.76" fill="#f8eeef" />
<rect x="165.88" y="287.91" width="7.83" height="1.76" fill="#e6e5f2" />
<rect x="165.88" y="289.63" width="7.83" height="1.76" fill="#e1e0f0" />
<rect x="165.88" y="291.34" width="7.83" height="1.76" fill="#d2d1e9" />
<rect x="165.88" y="293.06" width="7.83" height="1.76" fill="#dfdeef" />
<rect x="165.88" y="294.77" width="7.83" height="1.76" fill="#e8e7f4" />
<rect x="165.88" y="296.49" width="7.83" height="1.76" fill="#f8eeef" />
<rect x="165.88" y="298.20" width="7.83" height="1.76" fill="#ebeaf5" />
<rect x="165.88" y="299.91" width="7.83" height="1.76" fill="#b8b7db" />
<rect x="165.88" y="301.63" width="7.83" height="1.76" fill="#a9a8d3" />
<rect x="165.88" y="303.34" width="7.83" height="1.76" fill="#c9c8e4" />
<rect x="165.88" y="305.06" width="7.83" height="1.76" fill="#d6d5eb" />
<rect x="165.88" y="306.77" width="7.83" height="1.76" fill="#c0bfdf" />
<rect x="165.88" y="308.49" width="7.83" height="1.76" fill="#e0dff0" />
<rect x="165.88" y="310.20" width="7.83" height="1.76" fill="#a3a2cf" />
<rect x="165.88" y="311.91" width="7.83" height="1.76" fill="#e1e0f0" />
<rect x="165.88" y="313.63" width="7.83" height="1.76" fill="#c8c7e4" />
<rect x="165.88" y="315.34" width="7.83" height="1.76" fill="#cfcee7" />
<rect x="165.88" y="317.06" width="7.83" height="1.76" fill="#d6d5eb" />
<rect x="165.88" y="318.77" width="7.83" height="1.76" fill="#b9b8dc" />
<rect x="165.88" y="320.49" width="7.83" height="1.76" fill="#8989c0" />
<rect x="165.88" y="322.20" width="7.83" height="1.76" fill="#c2c1e1" />
<rect x="165.88" y="323.91" width="7.83" height="1.76" fill="#c9c8e4" />
<rect x="165.88" y="325.63" width="7.83" height="1.76" fill="#a3a2cf" />
<rect x="165.88" y="327.34" width="7.83" height="1.76" fill="#d9d8ec" />
<rect x="165.88" y="329.06" width="7.83" height="1.76" fill="#abaad4" />
<rect x="165.88" y="330.77" width="7.83" height="1.76" fill="#cac9e4" />
<rect x="165.88" y="332.49" width="7.83" height="1.76" fill="#c9c8e4" />
<rect x="165.88" y="334.20" width="7.83" height="1.76" fill="#c0bfdf" />
<rect x="165.88" y="335.91" width="7.83" height="1.76" fill="#d1d0e8" />
<rect x="165.88" y="337.63" width="7.83" height="1.76" fill="#e3e2f1" />
<rect x="165.88" y="339.34" width="7.83" height="1.76" fill="#bcbbdd" />
<rect x="165.88" y="341.06" width="7.83" height="1.76" fill="#d6d5eb" />
<rect x="165.88" y="342.77" width="7.83" height="1.76" fill="#dcdbee" />
<rect x="165.88" y="344.49" width="7.83" height="1.76" fill="#dad9ed" />
<rect x="173.66" y="250.20" width="7.83" height="1.76" fill="#f2f1f8" />
<rect x="173.66" y="251.91" width="7.83" height="1.76" fill="#d8d7ec" />
<rect x="173.66" y="253.63" width="7.83" height="1.76" fill="#e1e0f0" />
<rect x="173.66" y="255.34" width="7.83" height="1.76" fill="#b6b5da" />
<rect x="173.66" y="257.06" width="7.83" height="1.76" fill="#b8b7db" />
<rect x="173.66" y="258.77" width="7.83" height="1.76" fill="#a6a5d1" />
<rect x="173.66" y="260.49" width="7.83" height="1.76" fill="#e7e6f3" />
<rect x="173.66" y="262.20" width="7.83" height="1.76" fill="#f6e6e8" />
<rect x="173.66" y="263.91" width="7.83" height="1.76" fill="#bbbadd" />
<rect x="173.66" y="265.63" width="7.83" height="1.76" fill="#e7e6f3" />
<rect x="173.66" y="267.34" width="7.83" height="1.76" fill="#eeedf6" />
<rect x="173.66" y="269.06" width="7.83" height="1.76" fill="#d3d2e9" />
<rect x="173.66" y="270.77" width="7.83" height="1.76" fill="#c8c7e3" />
<rect x="173.66" y="272.49" width="7.83" height="1.76" fill="#e7e6f3" />
<rect x="173.66" y="274.20" width="7.83" height="1.76" fill="#e7e6f3" />
<rect x="173.66" y="275.91" width="7.83" height="1.76" fill="#dbdaee" />
<rect x="173.66" y="277.63" width="7.83" height="1.76" fill="#e3e2f1" />
<rect x="173.66" y="279.34" width="7.83" height="1.76" fill="#e5e4f2" />
<rect x="173.66" y="281.06" width="7.83" height="1.76" fill="#e0dff0" />
<rect x="173.66" y="282.77" width="7.83" height="1.76" fill="#eeedf6" />
<rect x="173.66" y="284.49" width="7.83" height="1.76" fill="#f5f4f9" />
<rect x="173.66" y="286.20" width="7.83" height="1.76" fill="#f0eff7" />
<rect x="173.66" y="287.91" width="7.83" height="1.76" fill="#e1e0f0" />
<rect x="173.66" y="289.63" width="7.83" height="1.76" fill="#e1e0f0" />
<rect x="173.66" y="291.34" width="7.83" height="1.76" fill="#e2e1f1" />
<rect x="173.66" y="293.06" width="7.83" height="1.76" fill="#dcdbee" />
<rect x="173.66" y="294.77" width="7.83" height="1.76" fill="#e4e3f2" />
<rect x="173.66" y="296.49" width="7.83" height="1.76" fill="#f0eff7" />
<rect x="173.66" y="298.20" width="7.83" height="1.76" fill="#e1e0f0" />
<rect x="173.66" y="299.91" width="7.83" height="1.76" fill="#c1c0e0" />
<rect x="173.66" y="301.63" width="7.83" height="1.76" fill="#c1c0e0" />
<rect x="173.66" y="303.34" width="7.83" height="1.76" fill="#d6d5eb" />
<rect x="173.66" y="305.06" width="7.83" height="1.76" fill="#c1c0e0" />
<rect x="173.66" y="306.77" width="7.83" height="1.76" fill="#c5c4e2" />
<rect x="173.66" y="308.49" width="7.83" height="1.76" fill="#cdcce6" />
<rect x="173.66" y="310.20" width="7.83" height="1.76" fill="#c6c5e3" />
<rect x="173.66" y="311.91" width="7.83" height="1.76" fill="#e8e7f4" />
<rect x="173.66" y="313.63" width="7.83" height="1.76" fill="#d6d5eb" />
<rect x="173.66" y="315.34" width="7.83" height="1.76" fill="#b3b2d9" />
<rect x="173.66" y="317.06" width="7.83" height="1.76" fill="#c2c1e0" />
<rect x="173.66" y="318.77" width="7.83" height="1.76" fill="#b8b7db" />
<rect x="173.66" y="320.49" width="7.83" height="1.76" fill="#9392c6" />
<rect x="173.66" y="322.20" width="7.83" height="1.76" fill="#c0bfdf" />
<rect x="173.66" y="323.91" width="7.83" height="1.76" fill="#c6c5e2" />
<rect x="173.66" y="325.63" width="7.83" height="1.76" fill="#c3c2e1" />
<rect x="173.66" y="327.34" width="7.83" height="1.76" fill="#dad9ed" />
<rect x="173.66" y="329.06" width="7.83" height="1.76" fill="#b7b6db" />
<rect x="173.66" y="330.77" width="7.83" height="1.76" fill="#c4c3e1" />
<rect x="173.66" y="332.49" width="7.83" height="1.76" fill="#cecde7" />
<rect x="173.66" y="334.20" width="7.83" height="1.76" fill="#bab9dc" />
<rect x="173.66" y="335.91" width="7.83" height="1.76" fill="#cccbe5" />
<rect x="173.66" y="337.63" width="7.83" height="1.76" fill="#cecde7" />
<rect x="173.66" y="339.34" width="7.83" height="1.76" fill="#a5a4d1" />
<rect x="173.66" y="341.06" width="7.83" height="1.76" fill="#c8c7e3" />
<rect x="173.66" y="342.77" width="7.83" height="1.76" fill="#d5d4eb" />
<rect x="173.66" y="344.49" width="7.83" height="1.76" fill="#e0dff0" />
<rect x="181.44" y="250.20" width="7.83" height="1.76" fill="#f5e5e6" />
<rect x="181.44" y="251.91" width="7.83" height="1.76" fill="#f6e9ea" />
<rect x="181.44" y="253.63" width="7.83" height="1.76" fill="#efeef7" />
<rect x="181.44" y="255.34" width="7.83" height="1.76" fill="#f8f0f1" />
<rect x="181.44" y="257.06" width="7.83" height="1.76" fill="#c3c2e1" />
<rect x="181.44" y="258.77" width="7.83" height="1.76" fill="#d7d6eb" />
<rect x="181.44" y="260.49" width="7.83" height="1.76" fill="#dbdaee" />
<rect x="181.44" y="262.20" width="7.83" height="1.76" fill="#e7e6f3" />
<rect x="181.44" y="263.91" width="7.83" height="1.76" fill="#e0dff0" />
<rect x="181.44" y="265.63" width="7.83" height="1.76" fill="#e8e7f3" />
<rect x="181.44" y="267.34" width="7.83" height="1.76" fill="#f0eff7" />
<rect x="181.44" y="269.06" width="7.83" height="1.76" fill="#dddcee" />
<rect x="181.44" y="270.77" width="7.83" height="1.76" fill="#f0eff7" />
<rect x="181.44" y="272.49" width="7.83" height="1.76" fill="#e2e1f1" />
<rect x="181.44" y="274.20" width="7.83" height="1.76" fill="#ecebf5" />
<rect x="181.44" y="275.91" width="7.83" height="1.76" fill="#e5e4f2" />
<rect x="181.44" y="277.63" width="7.83" height="1.76" fill="#e2e1f1" />
<rect x="181.44" y="279.34" width="7.83" height="1.76" fill="#a4a3d0" />
<rect x="181.44" y="281.06" width="7.83" height="1.76" fill="#dbdaee" />
<rect x="181.44" y="282.77" width="7.83" height="1.76" fill="#eae9f4" />
<rect x="181.44" y="284.49" width="7.83" height="1.76" fill="#f3d9db" />
<rect x="181.44" y="286.20" width="7.83" height="1.76" fill="#e7b1b6" />
<rect x="181.44" y="287.91" width="7.83" height="1.76" fill="#f2d6d8" />
<rect x="181.44" y="289.63" width="7.83" height="1.76" fill="#efccce" />
<rect x="181.44" y="291.34" width="7.83" height="1.76" fill="#f1d3d5" />
<rect x="181.44" y="293.06" width="7.83" height="1.76" fill="#efcccf" />
<rect x="181.44" y="294.77" width="7.83" height="1.76" fill="#f5e2e4" />
<rect x="181.44" y="296.49" width="7.83" height="1.76" fill="#f3dcdd" />
<rect x="181.44" y="298.20" width="7.83" height="1.76" fill="#efcdcf" />
<rect x="181.44" y="299.91" width="7.83" height="1.76" fill="#f3dcde" />
<rect x="181.44" y="301.63" width="7.83" height="1.76" fill="#f0ced1" />
<rect x="181.44" y="303.34" width="7.83" height="1.76" fill="#f8f2f3" />
<rect x="181.44" y="305.06" width="7.83" height="1.76" fill="#f4dedf" />
<rect x="181.44" y="306.77" width="7.83" height="1.76" fill="#ecc2c6" />
<rect x="181.44" y="308.49" width="7.83" height="1.76" fill="#f7edee" />
<rect x="181.44" y="310.20" width="7.83" height="1.76" fill="#f3d9db" />
<rect x="181.44" y="311.91" width="7.83" height="1.76" fill="#f1d2d4" />
<rect x="181.44" y="313.63" width="7.83" height="1.76" fill="#f7ecee" />
<rect x="181.44" y="315.34" width="7.83" height="1.76" fill="#f3f2f8" />
<rect x="181.44" y="317.06" width="7.83" height="1.76" fill="#edc6c9" />
<rect x="181.44" y="318.77" width="7.83" height="1.76" fill="#f7edee" />
<rect x="181.44" y="320.49" width="7.83" height="1.76" fill="#ecc2c5" />
<rect x="181.44" y="322.20" width="7.83" height="1.76" fill="#f5e3e5" />
<rect x="181.44" y="323.91" width="7.83" height="1.76" fill="#e9babe" />
<rect x="181.44" y="325.63" width="7.83" height="1.76" fill="#efcdcf" />
<rect x="181.44" y="327.34" width="7.83" height="1.76" fill="#f2d6d8" />
<rect x="181.44" y="329.06" width="7.83" height="1.76" fill="#f8f1f2" />
<rect x="181.44" y="330.77" width="7.83" height="1.76" fill="#f6e8ea" />
<rect x="181.44" y="332.49" width="7.83" height="1.76" fill="#f0ced0" />
<rect x="181.44" y="334.20" width="7.83" height="1.76" fill="#f3f2f9" />
<rect x="181.44" y="335.91" width="7.83" height="1.76" fill="#eec8ca" />
<rect x="181.44" y="337.63" width="7.83" height="1.76" fill="#f8eeef" />
<rect x="181.44" y="339.34" width="7.83" height="1.76" fill="#f1f0f8" />
<rect x="181.44" y="341.06" width="7.83" height="1.76" fill="#eec9cc" />
<rect x="181.44" y="342.77" width="7.83" height="1.76" fill="#efcacd" />
<rect x="181.44" y="344.49" width="7.83" height="1.76" fill="#f4dddf" />
<rect x="189.22" y="250.20" width="7.83" height="1.76" fill="#f4e1e2" />
<rect x="189.22" y="251.91" width="7.83" height="1.76" fill="#f6e6e7" />
<rect x="189.22" y="253.63" width="7.83" height="1.76" fill="#ecebf5" />
<rect x="189.22" y="255.34" width="7.83" height="1.76" fill="#ecebf5" />
<rect x="189.22" y="257.06" width="7.83" height="1.76" fill="#d3d2e9" />
<rect x="189.22" y="258.77" width="7.83" height="1.76" fill="#e2e1f1" />
<rect x="189.22" y="260.49" width="7.83" height="1.76" fill="#d0cfe8" />
<rect x="189.22" y="262.20" width="7.83" height="1.76" fill="#e9e8f4" />
<rect x="189.22" y="263.91" width="7.83" height="1.76" fill="#dddcee" />
<rect x="189.22" y="265.63" width="7.83" height="1.76" fill="#e2e1f1" />
<rect x="189.22" y="267.34" width="7.83" height="1.76" fill="#e8e7f4" />
<rect x="189.22" y="269.06" width="7.83" height="1.76" fill="#dfdeef" />
<rect x="189.22" y="270.77" width="7.83" height="1.76" fill="#f8f0f1" />
<rect x="189.22" y="272.49" width="7.83" height="1.76" fill="#efeef7" />
<rect x="189.22" y="274.20" width="7.83" height="1.76" fill="#eeedf6" />
<rect x="189.22" y="275.91" width="7.83" height="1.76" fill="#efeef7" />
<rect x="189.22" y="277.63" width="7.83" height="1.76" fill="#ebeaf5" />
<rect x="189.22" y="279.34" width="7.83" height="1.76" fill="#aeadd6" />
<rect x="189.22" y="281.06" width="7.83" height="1.76" fill="#c6c5e3" />
<rect x="189.22" y="282.77" width="7.83" height="1.76" fill="#e7e6f3" />
<rect x="189.22" y="284.49" width="7.83" height="1.76" fill="#f2d7d8" />
<rect x="189.22" y="286.20" width="7.83" height="1.76" fill="#e8b4b9" />
<rect x="189.22" y="287.91" width="7.83" height="1.76" fill="#f3dadc" />
<rect x="189.22" y="289.63" width="7.83" height="1.76" fill="#efcdcf" />
<rect x="189.22" y="291.34" width="7.83" height="1.76" fill="#eec7ca" />
<rect x="189.22" y="293.06" width="7.83" height="1.76" fill="#ecc3c6" />
<rect x="189.22" y="294.77" width="7.83" height="1.76" fill="#f4e0e2" />
<rect x="189.22" y="296.49" width="7.83" height="1.76" fill="#efccce" />
<rect x="189.22" y="298.20" width="7.83" height="1.76" fill="#edc6c9" />
<rect x="189.22" y="299.91" width="7.83" height="1.76" fill="#f8eeef" />
<rect x="189.22" y="301.63" width="7.83" height="1.76" fill="#edc5c8" />
<rect x="189.22" y="303.34" width="7.83" height="1.76" fill="#ecebf6" />
<rect x="189.22" y="305.06" width="7.83" height="1.76" fill="#f3dcdd" />
<rect x="189.22" y="306.77" width="7.83" height="1.76" fill="#e8b7bb" />
<rect x="189.22" y="308.49" width="7.83" height="1.76" fill="#f1d3d5" />
<rect x="189.22" y="310.20" width="7.83" height="1.76" fill="#f3dcde" />
<rect x="189.22" y="311.91" width="7.83" height="1.76" fill="#f2d7d9" />
<rect x="189.22" y="313.63" width="7.83" height="1.76" fill="#f8eeef" />
<rect x="189.22" y="315.34" width="7.83" height="1.76" fill="#f1f0f8" />
<rect x="189.22" y="317.06" width="7.83" height="1.76" fill="#efcbce" />
<rect x="189.22" y="318.77" width="7.83" height="1.76" fill="#f4e1e2" />
<rect x="189.22" y="320.49" width="7.83" height="1.76" fill="#f3dadc" />
<rect x="189.22" y="322.20" width="7.83" height="1.76" fill="#f5e4e6" />
<rect x="189.22" y="323.91" width="7.83" height="1.76" fill="#f3dadb" />
<rect x="189.22" y="325.63" width="7.83" height="1.76" fill="#eecacc" />
<rect x="189.22" y="327.34" width="7.83" height="1.76" fill="#f3dadc" />
<rect x="189.22" y="329.06" width="7.83" height="1.76" fill="#f4e0e1" />
<rect x="189.22" y="330.77" width="7.83" height="1.76" fill="#f4dedf" />
<rect x="189.22" y="332.49" width="7.83" height="1.76" fill="#f0cdd0" />
<rect x="189.22" y="334.20" width="7.83" height="1.76" fill="#eeedf6" />
<rect x="189.22" y="335.91" width="7.83" height="1.76" fill="#f1d1d3" />
<rect x="189.22" y="337.63" width="7.83" height="1.76" fill="#f6e8e9" />
<rect x="189.22" y="339.34" width="7.83" height="1.76" fill="#f9f4f5" />
<rect x="189.22" y="341.06" width="7.83" height="1.76" fill="#eec9cb" />
<rect x="189.22" y="342.77" width="7.83" height="1.76" fill="#eec8cb" />
<rect x="189.22" y="344.49" width="7.83" height="1.76" fill="#f1d2d4" />
<rect x="197.00" y="250.20" width="7.83" height="1.76" fill="#f4ddde" />
<rect x="197.00" y="251.91" width="7.83" height="1.76" fill="#f5e1e3" />
<rect x="197.00" y="253.63" width="7.83" height="1.76" fill="#f2f1f8" />
<rect x="197.00" y="255.34" width="7.83" height="1.76" fill="#eae9f4" />
<rect x="197.00" y="257.06" width="7.83" height="1.76" fill="#dbdaee" />
<rect x="197.00" y="258.77" width="7.83" height="1.76" fill="#cac9e5" />
<rect x="197.00" y="260.49" width="7.83" height="1.76" fill="#dad9ed" />
<rect x="197.00" y="262.20" width="7.83" height="1.76" fill="#deddef" />
<rect x="197.00" y="263.91" width="7.83" height="1.76" fill="#d9d8ec" />
<rect x="197.00" y="265.63" width="7.83" height="1.76" fill="#e8e7f4" />
<rect x="197.00" y="267.34" width="7.83" height="1.76" fill="#eae9f5" />
<rect x="197.00" y="269.06" width="7.83" height="1.76" fill="#deddef" />
<rect x="197.00" y="270.77" width="7.83" height="1.76" fill="#f8f0f1" />
<rect x="197.00" y="272.49" width="7.83" height="1.76" fill="#d9d8ec" />
<rect x="197.00" y="274.20" width="7.83" height="1.76" fill="#f2f1f8" />
<rect x="197.00" y="275.91" width="7.83" height="1.76" fill="#e8e7f4" />
<rect x="197.00" y="277.63" width="7.83" height="1.76" fill="#eae9f4" />
<rect x="197.00" y="279.34" width="7.83" height="1.76" fill="#8f8fc3" />
<rect x="197.00" y="281.06" width="7.83" height="1.76" fill="#d5d4eb" />
<rect x="197.00" y="282.77" width="7.83" height="1.76" fill="#e3e2f1" />
<rect x="197.00" y="284.49" width="7.83" height="1.76" fill="#eec8cb" />
<rect x="197.00" y="286.20" width="7.83" height="1.76" fill="#e5abb1" />
<rect x="197.00" y="287.91" width="7.83" height="1.76" fill="#f1d4d6" />
<rect x="197.00" y="289.63" width="7.83" height="1.76" fill="#eabcc0" />
<rect x="197.00" y="291.34" width="7.83" height="1.76" fill="#f1d3d5" />
<rect x="197.00" y="293.06" width="7.83" height="1.76" fill="#f1d3d5" />
<rect x="197.00" y="294.77" width="7.83" height="1.76" fill="#f5e1e3" />
<rect x="197.00" y="296.49" width="7.83" height="1.76" fill="#f4ddde" />
<rect x="197.00" y="298.20" width="7.83" height="1.76" fill="#f2d5d7" />
<rect x="197.00" y="299.91" width="7.83" height="1.76" fill="#f5f4f9" />
<rect x="197.00" y="301.63" width="7.83" height="1.76" fill="#f2d5d7" />
<rect x="197.00" y="303.34" width="7.83" height="1.76" fill="#f8f2f3" />
<rect x="197.00" y="305.06" width="7.83" height="1.76" fill="#f2d8da" />
<rect x="197.00" y="306.77" width="7.83" height="1.76" fill="#ecc1c5" />
<rect x="197.00" y="308.49" width="7.83" height="1.76" fill="#f1d4d6" />
<rect x="197.00" y="310.20" width="7.83" height="1.76" fill="#f5e4e5" />
<rect x="197.00" y="311.91" width="7.83" height="1.76" fill="#f2d5d7" />
<rect x="197.00" y="313.63" width="7.83" height="1.76" fill="#f4f3f9" />
<rect x="197.00" y="315.34" width="7.83" height="1.76" fill="#f4f3f9" />
<rect x="197.00" y="317.06" width="7.83" height="1.76" fill="#f3dadb" />
<rect x="197.00" y="318.77" width="7.83" height="1.76" fill="#f1d3d5" />
<rect x="197.00" y="320.49" width="7.83" height="1.76" fill="#f0d0d2" />
<rect x="197.00" y="322.20" width="7.83" height="1.76" fill="#f8f1f2" />
<rect x="197.00" y="323.91" width="7.83" height="1.76" fill="#f0ced1" />
<rect x="197.00" y="325.63" width="7.83" height="1.76" fill="#ebbfc3" />
<rect x="197.00" y="327.34" width="7.83" height="1.76" fill="#f2d8da" />
<rect x="197.00" y="329.06" width="7.83" height="1.76" fill="#f7edee" />
<rect x="197.00" y="330.77" width="7.83" height="1.76" fill="#f7eced" />
<rect x="197.00" y="332.49" width="7.83" height="1.76" fill="#f1d1d3" />
<rect x="197.00" y="334.20" width="7.83" height="1.76" fill="#edecf6" />
<rect x="197.00" y="335.91" width="7.83" height="1.76" fill="#f1d4d6" />
<rect x="197.00" y="337.63" width="7.83" height="1.76" fill="#f4dee0" />
<rect x="197.00" y="339.34" width="7.83" height="1.76" fill="#f7ebec" />
<rect x="197.00" y="341.06" width="7.83" height="1.76" fill="#f1d2d4" />
<rect x="197.00" y="342.77" width="7.83" height="1.76" fill="#efcdcf" />
<rect x="197.00" y="344.49" width="7.83" height="1.76" fill="#f3dbdd" />
<rect x="204.78" y="250.20" width="7.83" height="1.76" fill="#f5e4e6" />
<rect x="204.78" y="251.91" width="7.83" height="1.76" fill="#efcbce" />
<rect x="204.78" y="253.63" width="7.83" height="1.76" fill="#f6e7e8" />
<rect x="204.78" y="255.34" width="7.83" height="1.76" fill="#f3dbdd" />
<rect x="204.78" y="257.06" width="7.83" height="1.76" fill="#f1d3d5" />
<rect x="204.78" y="258.77" width="7.83" height="1.76" fill="#efcbcd" />
<rect x="204.78" y="260.49" width="7.83" height="1.76" fill="#f2d5d7" />
<rect x="204.78" y="262.20" width="7.83" height="1.76" fill="#e4a9ae" />
<rect x="204.78" y="263.91" width="7.83" height="1.76" fill="#edc6c9" />
<rect x="204.78" y="265.63" width="7.83" height="1.76" fill="#e8b5b9" />
<rect x="204.78" y="267.34" width="7.83" height="1.76" fill="#f5e2e3" />
<rect x="204.78" y="269.06" width="7.83" height="1.76" fill="#f1d2d4" />
<rect x="204.78" y="270.77" width="7.83" height="1.76" fill="#f5f4fa" />
<rect x="204.78" y="272.49" width="7.83" height="1.76" fill="#e3a4a9" />
<rect x="204.78" y="274.20" width="7.83" height="1.76" fill="#e8b4b9" />
<rect x="204.78" y="275.91" width="7.83" height="1.76" fill="#f1d2d4" />
<rect x="204.78" y="277.63" width="7.83" height="1.76" fill="#f8f1f2" />
<rect x="204.78" y="279.34" width="7.83" height="1.76" fill="#f9f2f3" />
<rect x="204.78" y="281.06" width="7.83" height="1.76" fill="#efcbce" />
<rect x="204.78" y="282.77" width="7.83" height="1.76" fill="#f0d0d2" />
<rect x="204.78" y="284.49" width="7.83" height="1.76" fill="#f4dddf" />
<rect x="204.78" y="286.20" width="7.83" height="1.76" fill="#f3dbdd" />
<rect x="204.78" y="287.91" width="7.83" height="1.76" fill="#f4dddf" />
<rect x="204.78" y="289.63" width="7.83" height="1.76" fill="#f8eff0" />
<rect x="204.78" y="291.34" width="7.83" height="1.76" fill="#f7eaeb" />
<rect x="204.78" y="293.06" width="7.83" height="1.76" fill="#f0eff7" />
<rect x="204.78" y="294.77" width="7.83" height="1.76" fill="#f7eaeb" />
<rect x="204.78" y="296.49" width="7.83" height="1.76" fill="#f5e2e4" />
<rect x="204.78" y="298.20" width="7.83" height="1.76" fill="#ebbfc3" />
<rect x="204.78" y="299.91" width="7.83" height="1.76" fill="#eec8cb" />
<rect x="204.78" y="301.63" width="7.83" height="1.76" fill="#f7eced" />
<rect x="204.78" y="303.34" width="7.83" height="1.76" fill="#f2d5d7" />
<rect x="204.78" y="305.06" width="7.83" height="1.76" fill="#f3dadc" />
<rect x="204.78" y="306.77" width="7.83" height="1.76" fill="#e7b2b6" />
<rect x="204.78" y="308.49" width="7.83" height="1.76" fill="#e9b9bd" />
<rect x="204.78" y="310.20" width="7.83" height="1.76" fill="#edc6c9" />
<rect x="204.78" y="311.91" width="7.83" height="1.76" fill="#f5e4e6" />
<rect x="204.78" y="313.63" width="7.83" height="1.76" fill="#f6e7e8" />
<rect x="204.78" y="315.34" width="7.83" height="1.76" fill="#f7ecee" />
<rect x="204.78" y="317.06" width="7.83" height="1.76" fill="#edc6c9" />
<rect x="204.78" y="318.77" width="7.83" height="1.76" fill="#f3dadc" />
<rect x="204.78" y="320.49" width="7.83" height="1.76" fill="#ecc3c7" />
<rect x="204.78" y="322.20" width="7.83" height="1.76" fill="#edc4c7" />
<rect x="204.78" y="323.91" width="7.83" height="1.76" fill="#e9b8bc" />
<rect x="204.78" y="325.63" width="7.83" height="1.76" fill="#f1d3d5" />
<rect x="204.78" y="327.34" width="7.83" height="1.76" fill="#f3d9db" />
<rect x="204.78" y="329.06" width="7.83" height="1.76" fill="#e9babe" />
<rect x="204.78" y="330.77" width="7.83" height="1.76" fill="#f2f1f8" />
<rect x="204.78" y="332.49" width="7.83" height="1.76" fill="#f5e1e3" />
<rect x="204.78" y="334.20" width="7.83" height="1.76" fill="#f6e8ea" />
<rect x="204.78" y="335.91" width="7.83" height="1.76" fill="#f2d6d8" />
<rect x="204.78" y="337.63" width="7.83" height="1.76" fill="#f2d8da" />
<rect x="204.78" y="339.34" width="7.83" height="1.76" fill="#f4f3f9" />
<rect x="204.78" y="341.06" width="7.83" height="1.76" fill="#f2d5d7" />
<rect x="204.78" y="342.77" width="7.83" height="1.76" fill="#f4dee0" />
<rect x="204.78" y="344.49" width="7.83" height="1.76" fill="#f1d1d3" />
<rect x="212.56" y="250.20" width="7.83" height="1.76" fill="#f5e1e3" />
<rect x="212.56" y="251.91" width="7.83" height="1.76" fill="#f2d5d7" />
<rect x="212.56" y="253.63" width="7.83" height="1.76" fill="#f8eff0" />
<rect x="212.56" y="255.34" width="7.83" height="1.76" fill="#f7ebec" />
<rect x="212.56" y="257.06" width="7.83" height="1.76" fill="#f2d4d6" />
<rect x="212.56" y="258.77" width="7.83" height="1.76" fill="#f2d6d8" />
<rect x="212.56" y="260.49" width="7.83" height="1.76" fill="#f1d1d3" />
<rect x="212.56" y="262.20" width="7.83" height="1.76" fill="#d98993" />
<rect x="212.56" y="263.91" width="7.83" height="1.76" fill="#e7b3b8" />
<rect x="212.56" y="265.63" width="7.83" height="1.76" fill="#e9babe" />
<rect x="212.56" y="267.34" width="7.83" height="1.76" fill="#f2d6d8" />
<rect x="212.56" y="269.06" width="7.83" height="1.76" fill="#f2d7d9" />
<rect x="212.56" y="270.77" width="7.83" height="1.76" fill="#f3f2f9" />
<rect x="212.56" y="272.49" width="7.83" height="1.76" fill="#d88690" />
<rect x="212.56" y="274.20" width="7.83" height="1.76" fill="#e09ca3" />
<rect x="212.56" y="275.91" width="7.83" height="1.76" fill="#f8f1f2" />
<rect x="212.56" y="277.63" width="7.83" height="1.76" fill="#f8f1f2" />
<rect x="212.56" y="279.34" width="7.83" height="1.76" fill="#f8eeef" />
<rect x="212.56" y="281.06" width="7.83" height="1.76" fill="#e9b8bc" />
<rect x="212.56" y="282.77" width="7.83" height="1.76" fill="#f6e9ea" />
<rect x="212.56" y="284.49" width="7.83" height="1.76" fill="#f1d3d5" />
<rect x="212.56" y="286.20" width="7.83" height="1.76" fill="#f1d3d5" />
<rect x="212.56" y="287.91" width="7.83" height="1.76" fill="#f4e0e1" />
<rect x="212.56" y="289.63" width="7.83" height="1.76" fill="#edecf6" />
<rect x="212.56" y="291.34" width="7.83" height="1.76" fill="#f6e9eb" />
<rect x="212.56" y="293.06" width="7.83" height="1.76" fill="#f8eef0" />
<rect x="212.56" y="294.77" width="7.83" height="1.76" fill="#f5f4f9" />
<rect x="212.56" y="296.49" width="7.83" height="1.76" fill="#edc5c8" />
<rect x="212.56" y="298.20" width="7.83" height="1.76" fill="#edc6c9" />
<rect x="212.56" y="299.91" width="7.83" height="1.76" fill="#efcbce" />
<rect x="212.56" y="301.63" width="7.83" height="1.76" fill="#f9f3f4" />
<rect x="212.56" y="303.34" width="7.83" height="1.76" fill="#f4dddf" />
<rect x="212.56" y="305.06" width="7.83" height="1.76" fill="#f3dbdc" />
<rect x="212.56" y="306.77" width="7.83" height="1.76" fill="#edc5c8" />
<rect x="212.56" y="308.49" width="7.83" height="1.76" fill="#e4a8ae" />
<rect x="212.56" y="310.20" width="7.83" height="1.76" fill="#f4e0e2" />
<rect x="212.56" y="311.91" width="7.83" height="1.76" fill="#f7eaeb" />
<rect x="212.56" y="313.63" width="7.83" height="1.76" fill="#f6e8e9" />
<rect x="212.56" y="315.34" width="7.83" height="1.76" fill="#f5e5e6" />
<rect x="212.56" y="317.06" width="7.83" height="1.76" fill="#eec9cc" />
<rect x="212.56" y="318.77" width="7.83" height="1.76" fill="#f3dadc" />
<rect x="212.56" y="320.49" width="7.83" height="1.76" fill="#efcbcd" />
<rect x="212.56" y="322.20" width="7.83" height="1.76" fill="#eec8cb" />
<rect x="212.56" y="323.91" width="7.83" height="1.76" fill="#ebbfc3" />
<rect x="212.56" y="325.63" width="7.83" height="1.76" fill="#f9f4f5" />
<rect x="212.56" y="327.34" width="7.83" height="1.76" fill="#f1d1d3" />
<rect x="212.56" y="329.06" width="7.83" height="1.76" fill="#edc7ca" />
<rect x="212.56" y="330.77" width="7.83" height="1.76" fill="#edecf6" />
<rect x="212.56" y="332.49" width="7.83" height="1.76" fill="#f8f0f1" />
<rect x="212.56" y="334.20" width="7.83" height="1.76" fill="#f6e5e7" />
<rect x="212.56" y="335.91" width="7.83" height="1.76" fill="#f4dddf" />
<rect x="212.56" y="337.63" width="7.83" height="1.76" fill="#f4dee0" />
<rect x="212.56" y="339.34" width="7.83" height="1.76" fill="#f7eaeb" />
<rect x="212.56" y="341.06" width="7.83" height="1.76" fill="#f5e4e6" />
<rect x="212.56" y="342.77" width="7.83" height="1.76" fill="#f3dbdd" />
<rect x="212.56" y="344.49" width="7.83" height="1.76" fill="#f3d9db" />
<rect x="220.34" y="250.20" width="7.83" height="1.76" fill="#f8eeef" />
<rect x="220.34" y="251.91" width="7.83" height="1.76" fill="#ebbfc2" />
<rect x="220.34" y="253.63" width="7.83" height="1.76" fill="#f7eaec" />
<rect x="220.34" y="255.34" width="7.83" height="1.76" fill="#f4dee0" />
<rect x="220.34" y="257.06" width="7.83" height="1.76" fill="#f2d5d7" />
<rect x="220.34" y="258.77" width="7.83" height="1.76" fill="#edc6c9" />
<rect x="220.34" y="260.49" width="7.83" height="1.76" fill="#f3d9db" />
<rect x="220.34" y="262.20" width="7.83" height="1.76" fill="#e5abb0" />
<rect x="220.34" y="263.91" width="7.83" height="1.76" fill="#ecc1c4" />
<rect x="220.34" y="265.63" width="7.83" height="1.76" fill="#ecc1c4" />
<rect x="220.34" y="267.34" width="7.83" height="1.76" fill="#f3dcde" />
<rect x="220.34" y="269.06" width="7.83" height="1.76" fill="#edc5c8" />
<rect x="220.34" y="270.77" width="7.83" height="1.76" fill="#eae9f5" />
<rect x="220.34" y="272.49" width="7.83" height="1.76" fill="#e2a4a9" />
<rect x="220.34" y="274.20" width="7.83" height="1.76" fill="#e5abb1" />
<rect x="220.34" y="275.91" width="7.83" height="1.76" fill="#f4dfe0" />
<rect x="220.34" y="277.63" width="7.83" height="1.76" fill="#f0eff7" />
<rect x="220.34" y="279.34" width="7.83" height="1.76" fill="#f9f2f3" />
<rect x="220.34" y="281.06" width="7.83" height="1.76" fill="#e4a9ae" />
<rect x="220.34" y="282.77" width="7.83" height="1.76" fill="#f4e0e2" />
<rect x="220.34" y="284.49" width="7.83" height="1.76" fill="#eabcc0" />
<rect x="220.34" y="286.20" width="7.83" height="1.76" fill="#f6e8e9" />
<rect x="220.34" y="287.91" width="7.83" height="1.76" fill="#f2d8da" />
<rect x="220.34" y="289.63" width="7.83" height="1.76" fill="#efeef7" />
<rect x="220.34" y="291.34" width="7.83" height="1.76" fill="#f5e1e3" />
<rect x="220.34" y="293.06" width="7.83" height="1.76" fill="#f2f1f8" />
<rect x="220.34" y="294.77" width="7.83" height="1.76" fill="#f8f0f1" />
<rect x="220.34" y="296.49" width="7.83" height="1.76" fill="#f4dddf" />
<rect x="220.34" y="298.20" width="7.83" height="1.76" fill="#efcacd" />
<rect x="220.34" y="299.91" width="7.83" height="1.76" fill="#ecc1c4" />
<rect x="220.34" y="301.63" width="7.83" height="1.76" fill="#f4e0e1" />
<rect x="220.34" y="303.34" width="7.83" height="1.76" fill="#f3dbdd" />
<rect x="220.34" y="305.06" width="7.83" height="1.76" fill="#f5e4e5" />
<rect x="220.34" y="306.77" width="7.83" height="1.76" fill="#eabdc0" />
<rect x="220.34" y="308.49" width="7.83" height="1.76" fill="#efccce" />
<rect x="220.34" y="310.20" width="7.83" height="1.76" fill="#ecc3c6" />
<rect x="220.34" y="311.91" width="7.83" height="1.76" fill="#f3dbdd" />
<rect x="220.34" y="313.63" width="7.83" height="1.76" fill="#f6e7e9" />
<rect x="220.34" y="315.34" width="7.83" height="1.76" fill="#f7eced" />
<rect x="220.34" y="317.06" width="7.83" height="1.76" fill="#f3d9db" />
<rect x="220.34" y="318.77" width="7.83" height="1.76" fill="#efcbce" />
<rect x="220.34" y="320.49" width="7.83" height="1.76" fill="#ebc0c4" />
<rect x="220.34" y="322.20" width="7.83" height="1.76" fill="#f0d0d2" />
<rect x="220.34" y="323.91" width="7.83" height="1.76" fill="#e6aeb3" />
<rect x="220.34" y="325.63" width="7.83" height="1.76" fill="#f6e9ea" />
<rect x="220.34" y="327.34" width="7.83" height="1.76" fill="#f1d4d6" />
<rect x="220.34" y="329.06" width="7.83" height="1.76" fill="#f1d3d5" />
<rect x="220.34" y="330.77" width="7.83" height="1.76" fill="#eae9f4" />
<rect x="220.34" y="332.49" width="7.83" height="1.76" fill="#f6e7e9" />
<rect x="220.34" y="334.20" width="7.83" height="1.76" fill="#f5e4e5" />
<rect x="220.34" y="335.91" width="7.83" height="1.76" fill="#f2d5d7" />
<rect x="220.34" y="337.63" width="7.83" height="1.76" fill="#f5e4e6" />
<rect x="220.34" y="339.34" width="7.83" height="1.76" fill="#f6e6e7" />
<rect x="220.34" y="341.06" width="7.83" height="1.76" fill="#efcbce" />
<rect x="220.34" y="342.77" width="7.83" height="1.76" fill="#f4dddf" />
<rect x="220.34" y="344.49" width="7.83" height="1.76" fill="#efcbce" />
<rect x="228.12" y="250.20" width="7.83" height="1.76" fill="#f8f1f2" />
<rect x="228.12" y="251.91" width="7.83" height="1.76" fill="#f1d1d3" />
<rect x="228.12" y="253.63" width="7.83" height="1.76" fill="#f7eced" />
<rect x="228.12" y="255.34" width="7.83" height="1.76" fill="#f4dddf" />
<rect x="228.12" y="257.06" width="7.83" height="1.76" fill="#f0ced1" />
<rect x="228.12" y="258.77" width="7.83" height="1.76" fill="#ecc2c5" />
<rect x="228.12" y="260.49" width="7.83" height="1.76" fill="#eec7ca" />
<rect x="228.12" y="262.20" width="7.83" height="1.76" fill="#d7858f" />
<rect x="228.12" y="263.91" width="7.83" height="1.76" fill="#efcacd" />
<rect x="228.12" y="265.63" width="7.83" height="1.76" fill="#ebc0c3" />
<rect x="228.12" y="267.34" width="7.83" height="1.76" fill="#f3dcde" />
<rect x="228.12" y="269.06" width="7.83" height="1.76" fill="#f0cfd1" />
<rect x="228.12" y="270.77" width="7.83" height="1.76" fill="#e4e3f1" />
<rect x="228.12" y="272.49" width="7.83" height="1.76" fill="#db9199" />
<rect x="228.12" y="274.20" width="7.83" height="1.76" fill="#ebbec2" />
<rect x="228.12" y="275.91" width="7.83" height="1.76" fill="#f6e6e7" />
<rect x="228.12" y="277.63" width="7.83" height="1.76" fill="#f3f2f9" />
<rect x="228.12" y="279.34" width="7.83" height="1.76" fill="#eeedf6" />
<rect x="228.12" y="281.06" width="7.83" height="1.76" fill="#e6afb4" />
<rect x="228.12" y="282.77" width="7.83" height="1.76" fill="#f4dee0" />
<rect x="228.12" y="284.49" width="7.83" height="1.76" fill="#ebbfc3" />
<rect x="228.12" y="286.20" width="7.83" height="1.76" fill="#efcdcf" />
<rect x="228.12" y="287.91" width="7.83" height="1.76" fill="#f6e7e8" />
<rect x="228.12" y="289.63" width="7.83" height="1.76" fill="#f4f3f9" />
<rect x="228.12" y="291.34" width="7.83" height="1.76" fill="#f3d9da" />
<rect x="228.12" y="293.06" width="7.83" height="1.76" fill="#f2f1f8" />
<rect x="228.12" y="294.77" width="7.83" height="1.76" fill="#f7ebec" />
<rect x="228.12" y="296.49" width="7.83" height="1.76" fill="#f2d8d9" />
<rect x="228.12" y="298.20" width="7.83" height="1.76" fill="#edc6c9" />
<rect x="228.12" y="299.91" width="7.83" height="1.76" fill="#f1d2d4" />
<rect x="228.12" y="301.63" width="7.83" height="1.76" fill="#f6e8e9" />
<rect x="228.12" y="303.34" width="7.83" height="1.76" fill="#f1d1d3" />
<rect x="228.12" y="305.06" width="7.83" height="1.76" fill="#f2d5d7" />
<rect x="228.12" y="306.77" width="7.83" height="1.76" fill="#e8b4b8" />
<rect x="228.12" y="308.49" width="7.83" height="1.76" fill="#eabcc0" />
<rect x="228.12" y="310.20" width="7.83" height="1.76" fill="#f0cdd0" />
<rect x="228.12" y="311.91" width="7.83" height="1.76" fill="#f5e3e4" />
<rect x="228.12" y="313.63" width="7.83" height="1.76" fill="#f8f0f1" />
<rect x="228.12" y="315.34" width="7.83" height="1.76" fill="#f4e0e1" />
<rect x="228.12" y="317.06" width="7.83" height="1.76" fill="#f3d8da" />
<rect x="228.12" y="318.77" width="7.83" height="1.76" fill="#f0cfd2" />
<rect x="228.12" y="320.49" width="7.83" height="1.76" fill="#f1d3d5" />
<rect x="228.12" y="322.20" width="7.83" height="1.76" fill="#e7b2b6" />
<rect x="228.12" y="323.91" width="7.83" height="1.76" fill="#edc4c7" />
<rect x="228.12" y="325.63" width="7.83" height="1.76" fill="#f3dadb" />
<rect x="228.12" y="327.34" width="7.83" height="1.76" fill="#efcbce" />
<rect x="228.12" y="329.06" width="7.83" height="1.76" fill="#f1d3d5" />
<rect x="228.12" y="330.77" width="7.83" height="1.76" fill="#f6f5fa" />
<rect x="228.12" y="332.49" width="7.83" height="1.76" fill="#f8f1f2" />
<rect x="228.12" y="334.20" width="7.83" height="1.76" fill="#f6f5fa" />
<rect x="228.12" y="335.91" width="7.83" height="1.76" fill="#f2d7d9" />
<rect x="228.12" y="337.63" width="7.83" height="1.76" fill="#f3d8da" />
<rect x="228.12" y="339.34" width="7.83" height="1.76" fill="#f9f4f5" />
<rect x="228.12" y="341.06" width="7.83" height="1.76" fill="#f7ebec" />
<rect x="228.12" y="342.77" width="7.83" height="1.76" fill="#f4dddf" />
<rect x="228.12" y="344.49" width="7.83" height="1.76" fill="#f1d3d5" />
<rect x="235.90" y="250.20" width="7.83" height="1.76" fill="#ecebf5" />
<rect x="235.90" y="251.91" width="7.83" height="1.76" fill="#f7ebec" />
<rect x="235.90" y="253.63" width="7.83" height="1.76" fill="#f8eff0" />
<rect x="235.90" y="255.34" width="7.83" height="1.76" fill="#f5f4f9" />
<rect x="235.90" y="257.06" width="7.83" height="1.76" fill="#f6e8ea" />
<rect x="235.90" y="258.77" width="7.83" height="1.76" fill="#efcacd" />
<rect x="235.90" y="260.49" width="7.83" height="1.76" fill="#f2d6d8" />
<rect x="235.90" y="262.20" width="7.83" height="1.76" fill="#edc6c9" />
<rect x="235.90" y="263.91" width="7.83" height="1.76" fill="#e7b1b6" />
<rect x="235.90" y="265.63" width="7.83" height="1.76" fill="#eabdc1" />
<rect x="235.90" y="267.34" width="7.83" height="1.76" fill="#eababe" />
<rect x="235.90" y="269.06" width="7.83" height="1.76" fill="#f3dbdd" />
<rect x="235.90" y="270.77" width="7.83" height="1.76" fill="#f5f4fa" />
<rect x="235.90" y="272.49" width="7.83" height="1.76" fill="#eec8ca" />
<rect x="235.90" y="274.20" width="7.83" height="1.76" fill="#e7b2b7" />
<rect x="235.90" y="275.91" width="7.83" height="1.76" fill="#efccce" />
<rect x="235.90" y="277.63" width="7.83" height="1.76" fill="#f4dddf" />
<rect x="235.90" y="279.34" width="7.83" height="1.76" fill="#eec7ca" />
<rect x="235.90" y="281.06" width="7.83" height="1.76" fill="#f7eaec" />
<rect x="235.90" y="282.77" width="7.83" height="1.76" fill="#e9b8bc" />
<rect x="235.90" y="284.49" width="7.83" height="1.76" fill="#e4a9ae" />
<rect x="235.90" y="286.20" width="7.83" height="1.76" fill="#f2d8da" />
<rect x="235.90" y="287.91" width="7.83" height="1.76" fill="#f2d8da" />
<rect x="235.90" y="289.63" width="7.83" height="1.76" fill="#f9f3f4" />
<rect x="235.90" y="291.34" width="7.83" height="1.76" fill="#f1d3d5" />
<rect x="235.90" y="293.06" width="7.83" height="1.76" fill="#f7ebec" />
<rect x="235.90" y="294.77" width="7.83" height="1.76" fill="#f4dddf" />
<rect x="235.90" y="296.49" width="7.83" height="1.76" fill="#f5e2e3" />
<rect x="235.90" y="298.20" width="7.83" height="1.76" fill="#f1d4d6" />
<rect x="235.90" y="299.91" width="7.83" height="1.76" fill="#edc4c7" />
<rect x="235.90" y="301.63" width="7.83" height="1.76" fill="#e7e6f3" />
<rect x="235.90" y="303.34" width="7.83" height="1.76" fill="#ebbfc3" />
<rect x="235.90" y="305.06" width="7.83" height="1.76" fill="#edc6c9" />
<rect x="235.90" y="306.77" width="7.83" height="1.76" fill="#f9f4f5" />
<rect x="235.90" y="308.49" width="7.83" height="1.76" fill="#e8b7bb" />
<rect x="235.90" y="310.20" width="7.83" height="1.76" fill="#edc4c7" />
<rect x="235.90" y="311.91" width="7.83" height="1.76" fill="#f2d5d7" />
<rect x="235.90" y="313.63" width="7.83" height="1.76" fill="#f4dee0" />
<rect x="235.90" y="315.34" width="7.83" height="1.76" fill="#f5f4f9" />
<rect x="235.90" y="317.06" width="7.83" height="1.76" fill="#efcdcf" />
<rect x="235.90" y="318.77" width="7.83" height="1.76" fill="#e9b8bc" />
<rect x="235.90" y="320.49" width="7.83" height="1.76" fill="#f5e3e5" />
<rect x="235.90" y="322.20" width="7.83" height="1.76" fill="#f3dbdc" />
<rect x="235.90" y="323.91" width="7.83" height="1.76" fill="#edecf6" />
<rect x="235.90" y="325.63" width="7.83" height="1.76" fill="#f5e2e3" />
<rect x="235.90" y="327.34" width="7.83" height="1.76" fill="#f0d0d2" />
<rect x="235.90" y="329.06" width="7.83" height="1.76" fill="#f2d8da" />
<rect x="235.90" y="330.77" width="7.83" height="1.76" fill="#f0ced0" />
<rect x="235.90" y="332.49" width="7.83" height="1.76" fill="#f5e2e4" />
<rect x="235.90" y="334.20" width="7.83" height="1.76" fill="#eec9cc" />
<rect x="235.90" y="335.91" width="7.83" height="1.76" fill="#f5e3e4" />
<rect x="235.90" y="337.63" width="7.83" height="1.76" fill="#f6e6e8" />
<rect x="235.90" y="339.34" width="7.83" height="1.76" fill="#f8f1f2" />
<rect x="235.90" y="341.06" width="7.83" height="1.76" fill="#f1d3d5" />
<rect x="235.90" y="342.77" width="7.83" height="1.76" fill="#f8f2f3" />
<rect x="235.90" y="344.49" width="7.83" height="1.76" fill="#f6e7e8" />
<rect x="243.68" y="250.20" width="7.83" height="1.76" fill="#f9f3f4" />
<rect x="243.68" y="251.91" width="7.83" height="1.76" fill="#f6e8e9" />
<rect x="243.68" y="253.63" width="7.83" height="1.76" fill="#f5e2e4" />
<rect x="243.68" y="255.34" width="7.83" height="1.76" fill="#f8f0f1" />
<rect x="243.68" y="257.06" width="7.83" height="1.76" fill="#e2e1f1" />
<rect x="243.68" y="258.77" width="7.83" height="1.76" fill="#f1d2d4" />
<rect x="243.68" y="260.49" width="7.83" height="1.76" fill="#f0ced1" />
<rect x="243.68" y="262.20" width="7.83" height="1.76" fill="#eabdc1" />
<rect x="243.68" y="263.91" width="7.83" height="1.76" fill="#e9babe" />
<rect x="243.68" y="265.63" width="7.83" height="1.76" fill="#f0d0d2" />
<rect x="243.68" y="267.34" width="7.83" height="1.76" fill="#edc4c7" />
<rect x="243.68" y="269.06" width="7.83" height="1.76" fill="#edc5c8" />
<rect x="243.68" y="270.77" width="7.83" height="1.76" fill="#f4f3f9" />
<rect x="243.68" y="272.49" width="7.83" height="1.76" fill="#eabbbf" />
<rect x="243.68" y="274.20" width="7.83" height="1.76" fill="#f3dadc" />
<rect x="243.68" y="275.91" width="7.83" height="1.76" fill="#f3dadc" />
<rect x="243.68" y="277.63" width="7.83" height="1.76" fill="#f4dfe1" />
<rect x="243.68" y="279.34" width="7.83" height="1.76" fill="#f1d4d6" />
<rect x="243.68" y="281.06" width="7.83" height="1.76" fill="#f9f4f5" />
<rect x="243.68" y="282.77" width="7.83" height="1.76" fill="#f0d0d2" />
<rect x="243.68" y="284.49" width="7.83" height="1.76" fill="#db8f98" />
<rect x="243.68" y="286.20" width="7.83" height="1.76" fill="#f6e5e7" />
<rect x="243.68" y="287.91" width="7.83" height="1.76" fill="#f6e7e8" />
<rect x="243.68" y="289.63" width="7.83" height="1.76" fill="#f5f4fa" />
<rect x="243.68" y="291.34" width="7.83" height="1.76" fill="#f1d2d4" />
<rect x="243.68" y="293.06" width="7.83" height="1.76" fill="#f3d9db" />
<rect x="243.68" y="294.77" width="7.83" height="1.76" fill="#f3dadb" />
<rect x="243.68" y="296.49" width="7.83" height="1.76" fill="#f8f1f2" />
<rect x="243.68" y="298.20" width="7.83" height="1.76" fill="#ecc1c5" />
<rect x="243.68" y="299.91" width="7.83" height="1.76" fill="#f0d0d2" />
<rect x="243.68" y="301.63" width="7.83" height="1.76" fill="#f0eff7" />
<rect x="243.68" y="303.34" width="7.83" height="1.76" fill="#e5adb2" />
<rect x="243.68" y="305.06" width="7.83" height="1.76" fill="#eec8ca" />
<rect x="243.68" y="306.77" width="7.83" height="1.76" fill="#f0eff7" />
<rect x="243.68" y="308.49" width="7.83" height="1.76" fill="#edc6c9" />
<rect x="243.68" y="310.20" width="7.83" height="1.76" fill="#f3dbdd" />
<rect x="243.68" y="311.91" width="7.83" height="1.76" fill="#f3dadb" />
<rect x="243.68" y="313.63" width="7.83" height="1.76" fill="#f3dadc" />
<rect x="243.68" y="315.34" width="7.83" height="1.76" fill="#f7eaec" />
<rect x="243.68" y="317.06" width="7.83" height="1.76" fill="#efcacd" />
<rect x="243.68" y="318.77" width="7.83" height="1.76" fill="#f0cdd0" />
<rect x="243.68" y="320.49" width="7.83" height="1.76" fill="#ecc3c6" />
<rect x="243.68" y="322.20" width="7.83" height="1.76" fill="#f7eaeb" />
<rect x="243.68" y="323.91" width="7.83" height="1.76" fill="#f5f4f9" />
<rect x="243.68" y="325.63" width="7.83" height="1.76" fill="#f6e8e9" />
<rect x="243.68" y="327.34" width="7.83" height="1.76" fill="#efcdcf" />
<rect x="243.68" y="329.06" width="7.83" height="1.76" fill="#f4dedf" />
<rect x="243.68" y="330.77" width="7.83" height="1.76" fill="#f3dcde" />
<rect x="243.68" y="332.49" width="7.83" height="1.76" fill="#f0d0d2" />
<rect x="243.68" y="334.20" width="7.83" height="1.76" fill="#edc6c9" />
<rect x="243.68" y="335.91" width="7.83" height="1.76" fill="#f8eff0" />
<rect x="243.68" y="337.63" width="7.83" height="1.76" fill="#f7eaec" />
<rect x="243.68" y="339.34" width="7.83" height="1.76" fill="#f7edef" />
<rect x="243.68" y="341.06" width="7.83" height="1.76" fill="#f2d8d9" />
<rect x="243.68" y="342.77" width="7.83" height="1.76" fill="#f7eaec" />
<rect x="243.68" y="344.49" width="7.83" height="1.76" fill="#f6e9eb" />
<rect x="251.46" y="250.20" width="7.83" height="1.76" fill="#edecf6" />
<rect x="251.46" y="251.91" width="7.83" height="1.76" fill="#f5e2e3" />
<rect x="251.46" y="253.63" width="7.83" height="1.76" fill="#f5e3e4" />
<rect x="251.46" y="255.34" width="7.83" height="1.76" fill="#f0eff7" />
<rect x="251.46" y="257.06" width="7.83" height="1.76" fill="#f8eff1" />
<rect x="251.46" y="258.77" width="7.83" height="1.76" fill="#f3dbdd" />
<rect x="251.46" y="260.49" width="7.83" height="1.76" fill="#eec7ca" />
<rect x="251.46" y="262.20" width="7.83" height="1.76" fill="#edc6c9" />
<rect x="251.46" y="263.91" width="7.83" height="1.76" fill="#e6afb4" />
<rect x="251.46" y="265.63" width="7.83" height="1.76" fill="#edc5c8" />
<rect x="251.46" y="267.34" width="7.83" height="1.76" fill="#f3dbdd" />
<rect x="251.46" y="269.06" width="7.83" height="1.76" fill="#f4dedf" />
<rect x="251.46" y="270.77" width="7.83" height="1.76" fill="#edecf6" />
<rect x="251.46" y="272.49" width="7.83" height="1.76" fill="#e9babe" />
<rect x="251.46" y="274.20" width="7.83" height="1.76" fill="#f2d5d7" />
<rect x="251.46" y="275.91" width="7.83" height="1.76" fill="#f0cfd1" />
<rect x="251.46" y="277.63" width="7.83" height="1.76" fill="#f3d9db" />
<rect x="251.46" y="279.34" width="7.83" height="1.76" fill="#f0cfd1" />
<rect x="251.46" y="281.06" width="7.83" height="1.76" fill="#f5e2e4" />
<rect x="251.46" y="282.77" width="7.83" height="1.76" fill="#f0ced0" />
<rect x="251.46" y="284.49" width="7.83" height="1.76" fill="#e3a4aa" />
<rect x="251.46" y="286.20" width="7.83" height="1.76" fill="#f3dadb" />
<rect x="251.46" y="287.91" width="7.83" height="1.76" fill="#f3dcde" />
<rect x="251.46" y="289.63" width="7.83" height="1.76" fill="#f6e7e8" />
<rect x="251.46" y="291.34" width="7.83" height="1.76" fill="#f0ced0" />
<rect x="251.46" y="293.06" width="7.83" height="1.76" fill="#f5e3e5" />
<rect x="251.46" y="294.77" width="7.83" height="1.76" fill="#f5e2e4" />
<rect x="251.46" y="296.49" width="7.83" height="1.76" fill="#f4dee0" />
<rect x="251.46" y="298.20" width="7.83" height="1.76" fill="#f4dee0" />
<rect x="251.46" y="299.91" width="7.83" height="1.76" fill="#f2d6d8" />
<rect x="251.46" y="301.63" width="7.83" height="1.76" fill="#f2f1f8" />
<rect x="251.46" y="303.34" width="7.83" height="1.76" fill="#edc5c8" />
<rect x="251.46" y="305.06" width="7.83" height="1.76" fill="#eecacc" />
<rect x="251.46" y="306.77" width="7.83" height="1.76" fill="#e7e6f3" />
<rect x="251.46" y="308.49" width="7.83" height="1.76" fill="#ecc3c6" />
<rect x="251.46" y="310.20" width="7.83" height="1.76" fill="#f2d7d9" />
<rect x="251.46" y="311.91" width="7.83" height="1.76" fill="#eec9cc" />
<rect x="251.46" y="313.63" width="7.83" height="1.76" fill="#f6e6e8" />
<rect x="251.46" y="315.34" width="7.83" height="1.76" fill="#f9f3f5" />
<rect x="251.46" y="317.06" width="7.83" height="1.76" fill="#eec9cc" />
<rect x="251.46" y="318.77" width="7.83" height="1.76" fill="#e9b9bd" />
<rect x="251.46" y="320.49" width="7.83" height="1.76" fill="#f1d3d5" />
<rect x="251.46" y="322.20" width="7.83" height="1.76" fill="#f3dadc" />
<rect x="251.46" y="323.91" width="7.83" height="1.76" fill="#edecf6" />
<rect x="251.46" y="325.63" width="7.83" height="1.76" fill="#f5e3e5" />
<rect x="251.46" y="327.34" width="7.83" height="1.76" fill="#f2d6d8" />
<rect x="251.46" y="329.06" width="7.83" height="1.76" fill="#f5e1e3" />
<rect x="251.46" y="330.77" width="7.83" height="1.76" fill="#f1d4d6" />
<rect x="251.46" y="332.49" width="7.83" height="1.76" fill="#f6e5e7" />
<rect x="251.46" y="334.20" width="7.83" height="1.76" fill="#f0d0d2" />
<rect x="251.46" y="335.91" width="7.83" height="1.76" fill="#f7e9eb" />
<rect x="251.46" y="337.63" width="7.83" height="1.76" fill="#f9f3f4" />
<rect x="251.46" y="339.34" width="7.83" height="1.76" fill="#f4e0e1" />
<rect x="251.46" y="341.06" width="7.83" height="1.76" fill="#f1d2d4" />
<rect x="251.46" y="342.77" width="7.83" height="1.76" fill="#f5e1e3" />
<rect x="251.46" y="344.49" width="7.83" height="1.76" fill="#f6e9ea" />
<rect x="259.24" y="250.20" width="7.83" height="1.76" fill="#f6e6e7" />
<rect x="259.24" y="251.91" width="7.83" height="1.76" fill="#f1d3d5" />
<rect x="259.24" y="253.63" width="7.83" height="1.76" fill="#efeef7" />
<rect x="259.24" y="255.34" width="7.83" height="1.76" fill="#f7eced" />
<rect x="259.24" y="257.06" width="7.83" height="1.76" fill="#f9f3f4" />
<rect x="259.24" y="258.77" width="7.83" height="1.76" fill="#f4dee0" />
<rect x="259.24" y="260.49" width="7.83" height="1.76" fill="#f1d3d5" />
<rect x="259.24" y="262.20" width="7.83" height="1.76" fill="#f6e5e7" />
<rect x="259.24" y="263.91" width="7.83" height="1.76" fill="#f4dddf" />
<rect x="259.24" y="265.63" width="7.83" height="1.76" fill="#f1d2d4" />
<rect x="259.24" y="267.34" width="7.83" height="1.76" fill="#f2d6d8" />
<rect x="259.24" y="269.06" width="7.83" height="1.76" fill="#f8eff0" />
<rect x="259.24" y="270.77" width="7.83" height="1.76" fill="#f6e6e7" />
<rect x="259.24" y="272.49" width="7.83" height="1.76" fill="#f5e4e5" />
<rect x="259.24" y="274.20" width="7.83" height="1.76" fill="#f3dcdd" />
<rect x="259.24" y="275.91" width="7.83" height="1.76" fill="#f1d0d3" />
<rect x="259.24" y="277.63" width="7.83" height="1.76" fill="#f3dbdd" />
<rect x="259.24" y="279.34" width="7.83" height="1.76" fill="#f1f0f8" />
<rect x="259.24" y="281.06" width="7.83" height="1.76" fill="#f6e8e9" />
<rect x="259.24" y="282.77" width="7.83" height="1.76" fill="#f7eced" />
<rect x="259.24" y="284.49" width="7.83" height="1.76" fill="#ecebf5" />
<rect x="259.24" y="286.20" width="7.83" height="1.76" fill="#f6e6e7" />
<rect x="259.24" y="287.91" width="7.83" height="1.76" fill="#f2f1f8" />
<rect x="259.24" y="289.63" width="7.83" height="1.76" fill="#f7edee" />
<rect x="259.24" y="291.34" width="7.83" height="1.76" fill="#f0eff7" />
<rect x="259.24" y="293.06" width="7.83" height="1.76" fill="#e9e8f4" />
<rect x="259.24" y="294.77" width="7.83" height="1.76" fill="#f8eeef" />
<rect x="259.24" y="296.49" width="7.83" height="1.76" fill="#f4dedf" />
<rect x="259.24" y="298.20" width="7.83" height="1.76" fill="#f8eff0" />
<rect x="259.24" y="299.91" width="7.83" height="1.76" fill="#f4e0e2" />
<rect x="259.24" y="301.63" width="7.83" height="1.76" fill="#f8f0f1" />
<rect x="259.24" y="303.34" width="7.83" height="1.76" fill="#eeedf6" />
<rect x="259.24" y="305.06" width="7.83" height="1.76" fill="#f5e2e3" />
<rect x="259.24" y="306.77" width="7.83" height="1.76" fill="#dcdbee" />
<rect x="259.24" y="308.49" width="7.83" height="1.76" fill="#f9f3f4" />
<rect x="259.24" y="310.20" width="7.83" height="1.76" fill="#f5e5e7" />
<rect x="259.24" y="311.91" width="7.83" height="1.76" fill="#f9f4f5" />
<rect x="259.24" y="313.63" width="7.83" height="1.76" fill="#f5f4fa" />
<rect x="259.24" y="315.34" width="7.83" height="1.76" fill="#f6e8e9" />
<rect x="259.24" y="317.06" width="7.83" height="1.76" fill="#f6e7e8" />
<rect x="259.24" y="318.77" width="7.83" height="1.76" fill="#f4f3f9" />
<rect x="259.24" y="320.49" width="7.83" height="1.76" fill="#f0ced0" />
<rect x="259.24" y="322.20" width="7.83" height="1.76" fill="#f7edee" />
<rect x="259.24" y="323.91" width="7.83" height="1.76" fill="#f3ddde" />
<rect x="259.24" y="325.63" width="7.83" height="1.76" fill="#f7ebec" />
<rect x="259.24" y="327.34" width="7.83" height="1.76" fill="#f4dee0" />
<rect x="259.24" y="329.06" width="7.83" height="1.76" fill="#f4f3f9" />
<rect x="259.24" y="330.77" width="7.83" height="1.76" fill="#f5e1e3" />
<rect x="259.24" y="332.49" width="7.83" height="1.76" fill="#f5f4f9" />
<rect x="259.24" y="334.20" width="7.83" height="1.76" fill="#e4e3f1" />
<rect x="259.24" y="335.91" width="7.83" height="1.76" fill="#f1d4d6" />
<rect x="259.24" y="337.63" width="7.83" height="1.76" fill="#f3dbdd" />
<rect x="259.24" y="339.34" width="7.83" height="1.76" fill="#f8f1f2" />
<rect x="259.24" y="341.06" width="7.83" height="1.76" fill="#e9babe" />
<rect x="259.24" y="342.77" width="7.83" height="1.76" fill="#f3dadb" />
<rect x="259.24" y="344.49" width="7.83" height="1.76" fill="#f4e1e2" />
<rect x="267.02" y="250.20" width="7.83" height="1.76" fill="#f4dee0" />
<rect x="267.02" y="251.91" width="7.83" height="1.76" fill="#f2d7d9" />
<rect x="267.02" y="253.63" width="7.83" height="1.76" fill="#f2f1f8" />
<rect x="267.02" y="255.34" width="7.83" height="1.76" fill="#f1f0f8" />
<rect x="267.02" y="257.06" width="7.83" height="1.76" fill="#f8f1f2" />
<rect x="267.02" y="258.77" width="7.83" height="1.76" fill="#f3ddde" />
<rect x="267.02" y="260.49" width="7.83" height="1.76" fill="#f3dbdd" />
<rect x="267.02" y="262.20" width="7.83" height="1.76" fill="#f6e7e8" />
<rect x="267.02" y="263.91" width="7.83" height="1.76" fill="#f2d6d8" />
<rect x="267.02" y="265.63" width="7.83" height="1.76" fill="#f1d3d5" />
<rect x="267.02" y="267.34" width="7.83" height="1.76" fill="#f1d1d3" />
<rect x="267.02" y="269.06" width="7.83" height="1.76" fill="#f7eced" />
<rect x="267.02" y="270.77" width="7.83" height="1.76" fill="#f5e2e3" />
<rect x="267.02" y="272.49" width="7.83" height="1.76" fill="#f8eff0" />
<rect x="267.02" y="274.20" width="7.83" height="1.76" fill="#f6e6e7" />
<rect x="267.02" y="275.91" width="7.83" height="1.76" fill="#ebc0c3" />
<rect x="267.02" y="277.63" width="7.83" height="1.76" fill="#f1d1d3" />
<rect x="267.02" y="279.34" width="7.83" height="1.76" fill="#f8eeef" />
<rect x="267.02" y="281.06" width="7.83" height="1.76" fill="#f4e1e2" />
<rect x="267.02" y="282.77" width="7.83" height="1.76" fill="#f4dfe1" />
<rect x="267.02" y="284.49" width="7.83" height="1.76" fill="#eae9f4" />
<rect x="267.02" y="286.20" width="7.83" height="1.76" fill="#f3dadc" />
<rect x="267.02" y="287.91" width="7.83" height="1.76" fill="#f5e4e5" />
<rect x="267.02" y="289.63" width="7.83" height="1.76" fill="#f5e5e7" />
<rect x="267.02" y="291.34" width="7.83" height="1.76" fill="#e9e8f4" />
<rect x="267.02" y="293.06" width="7.83" height="1.76" fill="#f4f3f9" />
<rect x="267.02" y="294.77" width="7.83" height="1.76" fill="#f5e3e4" />
<rect x="267.02" y="296.49" width="7.83" height="1.76" fill="#f3dbdd" />
<rect x="267.02" y="298.20" width="7.83" height="1.76" fill="#f7ebec" />
<rect x="267.02" y="299.91" width="7.83" height="1.76" fill="#efccce" />
<rect x="267.02" y="301.63" width="7.83" height="1.76" fill="#f8f2f3" />
<rect x="267.02" y="303.34" width="7.83" height="1.76" fill="#f8eeef" />
<rect x="267.02" y="305.06" width="7.83" height="1.76" fill="#f5e4e6" />
<rect x="267.02" y="306.77" width="7.83" height="1.76" fill="#f2f1f8" />
<rect x="267.02" y="308.49" width="7.83" height="1.76" fill="#f7eced" />
<rect x="267.02" y="310.20" width="7.83" height="1.76" fill="#f9f2f3" />
<rect x="267.02" y="311.91" width="7.83" height="1.76" fill="#f6e9ea" />
<rect x="267.02" y="313.63" width="7.83" height="1.76" fill="#f3dadc" />
<rect x="267.02" y="315.34" width="7.83" height="1.76" fill="#f6e7e8" />
<rect x="267.02" y="317.06" width="7.83" height="1.76" fill="#f4dedf" />
<rect x="267.02" y="318.77" width="7.83" height="1.76" fill="#f5e2e4" />
<rect x="267.02" y="320.49" width="7.83" height="1.76" fill="#ebbec1" />
<rect x="267.02" y="322.20" width="7.83" height="1.76" fill="#f7eaeb" />
<rect x="267.02" y="323.91" width="7.83" height="1.76" fill="#f3dadb" />
<rect x="267.02" y="325.63" width="7.83" height="1.76" fill="#f8f1f2" />
<rect x="267.02" y="327.34" width="7.83" height="1.76" fill="#f7edee" />
<rect x="267.02" y="329.06" width="7.83" height="1.76" fill="#f3f2f9" />
<rect x="267.02" y="330.77" width="7.83" height="1.76" fill="#f2d7d9" />
<rect x="267.02" y="332.49" width="7.83" height="1.76" fill="#e3e2f1" />
<rect x="267.02" y="334.20" width="7.83" height="1.76" fill="#e4e3f2" />
<rect x="267.02" y="335.91" width="7.83" height="1.76" fill="#f2d6d8" />
<rect x="267.02" y="337.63" width="7.83" height="1.76" fill="#f2d4d6" />
<rect x="267.02" y="339.34" width="7.83" height="1.76" fill="#f9f3f4" />
<rect x="267.02" y="341.06" width="7.83" height="1.76" fill="#ebbfc2" />
<rect x="267.02" y="342.77" width="7.83" height="1.76" fill="#f8eff0" />
<rect x="267.02" y="344.49" width="7.83" height="1.76" fill="#f6e6e7" />
<rect x="274.80" y="250.20" width="7.83" height="1.76" fill="#f4dddf" />
<rect x="274.80" y="251.91" width="7.83" height="1.76" fill="#eec9cc" />
<rect x="274.80" y="253.63" width="7.83" height="1.76" fill="#ecebf5" />
<rect x="274.80" y="255.34" width="7.83" height="1.76" fill="#f4dedf" />
<rect x="274.80" y="257.06" width="7.83" height="1.76" fill="#f8eff0" />
<rect x="274.80" y="258.77" width="7.83" height="1.76" fill="#f5e2e4" />
<rect x="274.80" y="260.49" width="7.83" height="1.76" fill="#eec8cb" />
<rect x="274.80" y="262.20" width="7.83" height="1.76" fill="#f6f5fa" />
<rect x="274.80" y="263.91" width="7.83" height="1.76" fill="#f4e0e2" />
<rect x="274.80" y="265.63" width="7.83" height="1.76" fill="#f0d0d2" />
<rect x="274.80" y="267.34" width="7.83" height="1.76" fill="#e7b3b8" />
<rect x="274.80" y="269.06" width="7.83" height="1.76" fill="#f3d9db" />
<rect x="274.80" y="270.77" width="7.83" height="1.76" fill="#f1d3d5" />
<rect x="274.80" y="272.49" width="7.83" height="1.76" fill="#f6e6e7" />
<rect x="274.80" y="274.20" width="7.83" height="1.76" fill="#f2d6d8" />
<rect x="274.80" y="275.91" width="7.83" height="1.76" fill="#edc7ca" />
<rect x="274.80" y="277.63" width="7.83" height="1.76" fill="#f2d7d9" />
<rect x="274.80" y="279.34" width="7.83" height="1.76" fill="#f9f3f4" />
<rect x="274.80" y="281.06" width="7.83" height="1.76" fill="#f7edee" />
<rect x="274.80" y="282.77" width="7.83" height="1.76" fill="#f6e7e8" />
<rect x="274.80" y="284.49" width="7.83" height="1.76" fill="#edecf6" />
<rect x="274.80" y="286.20" width="7.83" height="1.76" fill="#f1d4d6" />
<rect x="274.80" y="287.91" width="7.83" height="1.76" fill="#f8f1f2" />
<rect x="274.80" y="289.63" width="7.83" height="1.76" fill="#f2f1f8" />
<rect x="274.80" y="291.34" width="7.83" height="1.76" fill="#f9f3f4" />
<rect x="274.80" y="293.06" width="7.83" height="1.76" fill="#ecebf5" />
<rect x="274.80" y="294.77" width="7.83" height="1.76" fill="#f7eced" />
<rect x="274.80" y="296.49" width="7.83" height="1.76" fill="#edc6c9" />
<rect x="274.80" y="298.20" width="7.83" height="1.76" fill="#f7ecee" />
<rect x="274.80" y="299.91" width="7.83" height="1.76" fill="#f2d5d7" />
<rect x="274.80" y="301.63" width="7.83" height="1.76" fill="#f4f3f9" />
<rect x="274.80" y="303.34" width="7.83" height="1.76" fill="#f4f3f9" />
<rect x="274.80" y="305.06" width="7.83" height="1.76" fill="#f6e8ea" />
<rect x="274.80" y="306.77" width="7.83" height="1.76" fill="#efeef7" />
<rect x="274.80" y="308.49" width="7.83" height="1.76" fill="#f2d5d6" />
<rect x="274.80" y="310.20" width="7.83" height="1.76" fill="#f5e4e5" />
<rect x="274.80" y="311.91" width="7.83" height="1.76" fill="#f6e8e9" />
<rect x="274.80" y="313.63" width="7.83" height="1.76" fill="#f5e4e5" />
<rect x="274.80" y="315.34" width="7.83" height="1.76" fill="#f5e2e4" />
<rect x="274.80" y="317.06" width="7.83" height="1.76" fill="#f5e1e3" />
<rect x="274.80" y="318.77" width="7.83" height="1.76" fill="#f6e6e7" />
<rect x="274.80" y="320.49" width="7.83" height="1.76" fill="#eec7ca" />
<rect x="274.80" y="322.20" width="7.83" height="1.76" fill="#f6e9ea" />
<rect x="274.80" y="323.91" width="7.83" height="1.76" fill="#eec7ca" />
<rect x="274.80" y="325.63" width="7.83" height="1.76" fill="#f6e9ea" />
<rect x="274.80" y="327.34" width="7.83" height="1.76" fill="#f1d4d6" />
<rect x="274.80" y="329.06" width="7.83" height="1.76" fill="#f1f0f8" />
<rect x="274.80" y="330.77" width="7.83" height="1.76" fill="#f4dedf" />
<rect x="274.80" y="332.49" width="7.83" height="1.76" fill="#ecebf6" />
<rect x="274.80" y="334.20" width="7.83" height="1.76" fill="#e9e8f4" />
<rect x="274.80" y="335.91" width="7.83" height="1.76" fill="#f2d6d8" />
<rect x="274.80" y="337.63" width="7.83" height="1.76" fill="#f5e2e4" />
<rect x="274.80" y="339.34" width="7.83" height="1.76" fill="#f6e8e9" />
<rect x="274.80" y="341.06" width="7.83" height="1.76" fill="#de969e" />
<rect x="274.80" y="342.77" width="7.83" height="1.76" fill="#f2d7d9" />
<rect x="274.80" y="344.49" width="7.83" height="1.76" fill="#f6e6e8" />
<rect x="282.58" y="250.20" width="7.83" height="1.76" fill="#f3d9db" />
<rect x="282.58" y="251.91" width="7.83" height="1.76" fill="#f2d5d7" />
<rect x="282.58" y="253.63" width="7.83" height="1.76" fill="#efcccf" />
<rect x="282.58" y="255.34" width="7.83" height="1.76" fill="#f9f4f5" />
<rect x="282.58" y="257.06" width="7.83" height="1.76" fill="#f6e7e8" />
<rect x="282.58" y="258.77" width="7.83" height="1.76" fill="#dddcee" />
<rect x="282.58" y="260.49" width="7.83" height="1.76" fill="#f2d7d9" />
<rect x="282.58" y="262.20" width="7.83" height="1.76" fill="#f4dfe1" />
<rect x="282.58" y="263.91" width="7.83" height="1.76" fill="#efcdd0" />
<rect x="282.58" y="265.63" width="7.83" height="1.76" fill="#eabbbf" />
<rect x="282.58" y="267.34" width="7.83" height="1.76" fill="#f5e4e6" />
<rect x="282.58" y="269.06" width="7.83" height="1.76" fill="#f8f0f1" />
<rect x="282.58" y="270.77" width="7.83" height="1.76" fill="#ebeaf5" />
<rect x="282.58" y="272.49" width="7.83" height="1.76" fill="#f7ebec" />
<rect x="282.58" y="274.20" width="7.83" height="1.76" fill="#f8f0f1" />
<rect x="282.58" y="275.91" width="7.83" height="1.76" fill="#f7ebec" />
<rect x="282.58" y="277.63" width="7.83" height="1.76" fill="#f6e7e8" />
<rect x="282.58" y="279.34" width="7.83" height="1.76" fill="#f2f1f8" />
<rect x="282.58" y="281.06" width="7.83" height="1.76" fill="#f9f2f3" />
<rect x="282.58" y="282.77" width="7.83" height="1.76" fill="#f2d6d8" />
<rect x="282.58" y="284.49" width="7.83" height="1.76" fill="#f7ecee" />
<rect x="282.58" y="286.20" width="7.83" height="1.76" fill="#f3dbdd" />
<rect x="282.58" y="287.91" width="7.83" height="1.76" fill="#f5e2e3" />
<rect x="282.58" y="289.63" width="7.83" height="1.76" fill="#f7ebec" />
<rect x="282.58" y="291.34" width="7.83" height="1.76" fill="#f2f1f8" />
<rect x="282.58" y="293.06" width="7.83" height="1.76" fill="#f0cfd1" />
<rect x="282.58" y="294.77" width="7.83" height="1.76" fill="#f6e7e8" />
<rect x="282.58" y="296.49" width="7.83" height="1.76" fill="#f6e8e9" />
<rect x="282.58" y="298.20" width="7.83" height="1.76" fill="#f5e4e6" />
<rect x="282.58" y="299.91" width="7.83" height="1.76" fill="#f6e6e7" />
<rect x="282.58" y="301.63" width="7.83" height="1.76" fill="#eae9f4" />
<rect x="282.58" y="303.34" width="7.83" height="1.76" fill="#efcdcf" />
<rect x="282.58" y="305.06" width="7.83" height="1.76" fill="#f7ebec" />
<rect x="282.58" y="306.77" width="7.83" height="1.76" fill="#f3dadb" />
<rect x="282.58" y="308.49" width="7.83" height="1.76" fill="#f4e0e1" />
<rect x="282.58" y="310.20" width="7.83" height="1.76" fill="#f5e5e6" />
<rect x="282.58" y="311.91" width="7.83" height="1.76" fill="#f2f1f8" />
<rect x="282.58" y="313.63" width="7.83" height="1.76" fill="#f8eff0" />
<rect x="282.58" y="315.34" width="7.83" height="1.76" fill="#f7eaec" />
<rect x="282.58" y="317.06" width="7.83" height="1.76" fill="#f5e4e6" />
<rect x="282.58" y="318.77" width="7.83" height="1.76" fill="#f7edee" />
<rect x="282.58" y="320.49" width="7.83" height="1.76" fill="#f7ecee" />
<rect x="282.58" y="322.20" width="7.83" height="1.76" fill="#f5e2e4" />
<rect x="282.58" y="323.91" width="7.83" height="1.76" fill="#ebeaf5" />
<rect x="282.58" y="325.63" width="7.83" height="1.76" fill="#f8f1f2" />
<rect x="282.58" y="327.34" width="7.83" height="1.76" fill="#f6e7e9" />
<rect x="282.58" y="329.06" width="7.83" height="1.76" fill="#f8f1f2" />
<rect x="282.58" y="330.77" width="7.83" height="1.76" fill="#f5e2e4" />
<rect x="282.58" y="332.49" width="7.83" height="1.76" fill="#f1d2d4" />
<rect x="282.58" y="334.20" width="7.83" height="1.76" fill="#f0eff7" />
<rect x="282.58" y="335.91" width="7.83" height="1.76" fill="#f0eff7" />
<rect x="282.58" y="337.63" width="7.83" height="1.76" fill="#f5e2e4" />
<rect x="282.58" y="339.34" width="7.83" height="1.76" fill="#f3f2f9" />
<rect x="282.58" y="341.06" width="7.83" height="1.76" fill="#efcbce" />
<rect x="282.58" y="342.77" width="7.83" height="1.76" fill="#efccce" />
<rect x="282.58" y="344.49" width="7.83" height="1.76" fill="#f6e8ea" />
<rect x="290.36" y="250.20" width="7.83" height="1.76" fill="#f3dadc" />
<rect x="290.36" y="251.91" width="7.83" height="1.76" fill="#f5e1e3" />
<rect x="290.36" y="253.63" width="7.83" height="1.76" fill="#f2d8da" />
<rect x="290.36" y="255.34" width="7.83" height="1.76" fill="#f2f1f8" />
<rect x="290.36" y="257.06" width="7.83" height="1.76" fill="#f9f3f4" />
<rect x="290.36" y="258.77" width="7.83" height="1.76" fill="#d3d2e9" />
<rect x="290.36" y="260.49" width="7.83" height="1.76" fill="#f2d6d8" />
<rect x="290.36" y="262.20" width="7.83" height="1.76" fill="#f7eced" />
<rect x="290.36" y="263.91" width="7.83" height="1.76" fill="#eecacc" />
<rect x="290.36" y="265.63" width="7.83" height="1.76" fill="#e6adb2" />
<rect x="290.36" y="267.34" width="7.83" height="1.76" fill="#f5e2e3" />
<rect x="290.36" y="269.06" width="7.83" height="1.76" fill="#f1d4d6" />
<rect x="290.36" y="270.77" width="7.83" height="1.76" fill="#e9e8f4" />
<rect x="290.36" y="272.49" width="7.83" height="1.76" fill="#f6e6e7" />
<rect x="290.36" y="274.20" width="7.83" height="1.76" fill="#f8f1f2" />
<rect x="290.36" y="275.91" width="7.83" height="1.76" fill="#f2d7d9" />
<rect x="290.36" y="277.63" width="7.83" height="1.76" fill="#f8eff0" />
<rect x="290.36" y="279.34" width="7.83" height="1.76" fill="#f7eced" />
<rect x="290.36" y="281.06" width="7.83" height="1.76" fill="#f5e4e5" />
<rect x="290.36" y="282.77" width="7.83" height="1.76" fill="#f4dee0" />
<rect x="290.36" y="284.49" width="7.83" height="1.76" fill="#f5e3e5" />
<rect x="290.36" y="286.20" width="7.83" height="1.76" fill="#f6e7e8" />
<rect x="290.36" y="287.91" width="7.83" height="1.76" fill="#f3d9db" />
<rect x="290.36" y="289.63" width="7.83" height="1.76" fill="#f5f4fa" />
<rect x="290.36" y="291.34" width="7.83" height="1.76" fill="#f8eff0" />
<rect x="290.36" y="293.06" width="7.83" height="1.76" fill="#ebc0c3" />
<rect x="290.36" y="294.77" width="7.83" height="1.76" fill="#f9f3f4" />
<rect x="290.36" y="296.49" width="7.83" height="1.76" fill="#f5e5e6" />
<rect x="290.36" y="298.20" width="7.83" height="1.76" fill="#efcccf" />
<rect x="290.36" y="299.91" width="7.83" height="1.76" fill="#f7e9eb" />
<rect x="290.36" y="301.63" width="7.83" height="1.76" fill="#ecebf5" />
<rect x="290.36" y="303.34" width="7.83" height="1.76" fill="#f3dbdd" />
<rect x="290.36" y="305.06" width="7.83" height="1.76" fill="#f9f2f3" />
<rect x="290.36" y="306.77" width="7.83" height="1.76" fill="#f1d4d5" />
<rect x="290.36" y="308.49" width="7.83" height="1.76" fill="#f4dfe1" />
<rect x="290.36" y="310.20" width="7.83" height="1.76" fill="#f7ecee" />
<rect x="290.36" y="311.91" width="7.83" height="1.76" fill="#eeedf6" />
<rect x="290.36" y="313.63" width="7.83" height="1.76" fill="#f4dee0" />
<rect x="290.36" y="315.34" width="7.83" height="1.76" fill="#f6e6e8" />
<rect x="290.36" y="317.06" width="7.83" height="1.76" fill="#f4dee0" />
<rect x="290.36" y="318.77" width="7.83" height="1.76" fill="#f6e7e9" />
<rect x="290.36" y="320.49" width="7.83" height="1.76" fill="#f8eff0" />
<rect x="290.36" y="322.20" width="7.83" height="1.76" fill="#f4e0e1" />
<rect x="290.36" y="323.91" width="7.83" height="1.76" fill="#f2f1f8" />
<rect x="290.36" y="325.63" width="7.83" height="1.76" fill="#eeedf6" />
<rect x="290.36" y="327.34" width="7.83" height="1.76" fill="#f7eaeb" />
<rect x="290.36" y="329.06" width="7.83" height="1.76" fill="#ebeaf5" />
<rect x="290.36" y="330.77" width="7.83" height="1.76" fill="#f7eaec" />
<rect x="290.36" y="332.49" width="7.83" height="1.76" fill="#f6e6e7" />
<rect x="290.36" y="334.20" width="7.83" height="1.76" fill="#f9f2f3" />
<rect x="290.36" y="335.91" width="7.83" height="1.76" fill="#f6e6e7" />
<rect x="290.36" y="337.63" width="7.83" height="1.76" fill="#f3d9da" />
<rect x="290.36" y="339.34" width="7.83" height="1.76" fill="#f0eff7" />
<rect x="290.36" y="341.06" width="7.83" height="1.76" fill="#f4dfe1" />
<rect x="290.36" y="342.77" width="7.83" height="1.76" fill="#f1d3d5" />
<rect x="290.36" y="344.49" width="7.83" height="1.76" fill="#f5e1e3" />
<rect x="298.14" y="250.20" width="7.83" height="1.76" fill="#f8eff1" />
<rect x="298.14" y="251.91" width="7.83" height="1.76" fill="#f4f3f9" />
<rect x="298.14" y="253.63" width="7.83" height="1.76" fill="#f3f2f9" />
<rect x="298.14" y="255.34" width="7.83" height="1.76" fill="#f1f0f8" />
<rect x="298.14" y="257.06" width="7.83" height="1.76" fill="#f1f0f8" />
<rect x="298.14" y="258.77" width="7.83" height="1.76" fill="#f5e1e3" />
<rect x="298.14" y="260.49" width="7.83" height="1.76" fill="#efcbcd" />
<rect x="298.14" y="262.20" width="7.83" height="1.76" fill="#f1f0f8" />
<rect x="298.14" y="263.91" width="7.83" height="1.76" fill="#f3f2f9" />
<rect x="298.14" y="265.63" width="7.83" height="1.76" fill="#f5f4f9" />
<rect x="298.14" y="267.34" width="7.83" height="1.76" fill="#e9e8f4" />
<rect x="298.14" y="269.06" width="7.83" height="1.76" fill="#f7ebec" />
<rect x="298.14" y="270.77" width="7.83" height="1.76" fill="#f0eff7" />
<rect x="298.14" y="272.49" width="7.83" height="1.76" fill="#f4f3f9" />
<rect x="298.14" y="274.20" width="7.83" height="1.76" fill="#f3f2f9" />
<rect x="298.14" y="275.91" width="7.83" height="1.76" fill="#dddcee" />
<rect x="298.14" y="277.63" width="7.83" height="1.76" fill="#f2f1f8" />
<rect x="298.14" y="279.34" width="7.83" height="1.76" fill="#dfdeef" />
<rect x="298.14" y="281.06" width="7.83" height="1.76" fill="#e9e8f4" />
<rect x="298.14" y="282.77" width="7.83" height="1.76" fill="#e2e1f1" />
<rect x="298.14" y="284.49" width="7.83" height="1.76" fill="#f0eff7" />
<rect x="298.14" y="286.20" width="7.83" height="1.76" fill="#f7eced" />
<rect x="298.14" y="287.91" width="7.83" height="1.76" fill="#f2f1f8" />
<rect x="298.14" y="289.63" width="7.83" height="1.76" fill="#edecf6" />
<rect x="298.14" y="291.34" width="7.83" height="1.76" fill="#f8f0f1" />
<rect x="298.14" y="293.06" width="7.83" height="1.76" fill="#f0cfd2" />
<rect x="298.14" y="294.77" width="7.83" height="1.76" fill="#f8f2f3" />
<rect x="298.14" y="296.49" width="7.83" height="1.76" fill="#edc7ca" />
<rect x="298.14" y="298.20" width="7.83" height="1.76" fill="#eec7ca" />
<rect x="298.14" y="299.91" width="7.83" height="1.76" fill="#f3ddde" />
<rect x="298.14" y="301.63" width="7.83" height="1.76" fill="#ebeaf5" />
<rect x="298.14" y="303.34" width="7.83" height="1.76" fill="#e9b7bc" />
<rect x="298.14" y="305.06" width="7.83" height="1.76" fill="#eabcc0" />
<rect x="298.14" y="306.77" width="7.83" height="1.76" fill="#eae9f5" />
<rect x="298.14" y="308.49" width="7.83" height="1.76" fill="#f1d2d4" />
<rect x="298.14" y="310.20" width="7.83" height="1.76" fill="#f4dddf" />
<rect x="298.14" y="311.91" width="7.83" height="1.76" fill="#f5e1e3" />
<rect x="298.14" y="313.63" width="7.83" height="1.76" fill="#f3d9db" />
<rect x="298.14" y="315.34" width="7.83" height="1.76" fill="#f7ecee" />
<rect x="298.14" y="317.06" width="7.83" height="1.76" fill="#f6e5e7" />
<rect x="298.14" y="318.77" width="7.83" height="1.76" fill="#f6e8e9" />
<rect x="298.14" y="320.49" width="7.83" height="1.76" fill="#f3dadc" />
<rect x="298.14" y="322.20" width="7.83" height="1.76" fill="#f3f2f8" />
<rect x="298.14" y="323.91" width="7.83" height="1.76" fill="#edecf6" />
<rect x="298.14" y="325.63" width="7.83" height="1.76" fill="#f2d8da" />
<rect x="298.14" y="327.34" width="7.83" height="1.76" fill="#f0eff7" />
<rect x="298.14" y="329.06" width="7.83" height="1.76" fill="#f7eced" />
<rect x="298.14" y="330.77" width="7.83" height="1.76" fill="#f7eaeb" />
<rect x="298.14" y="332.49" width="7.83" height="1.76" fill="#f6e6e8" />
<rect x="298.14" y="334.20" width="7.83" height="1.76" fill="#f8f1f2" />
<rect x="298.14" y="335.91" width="7.83" height="1.76" fill="#f6e7e8" />
<rect x="298.14" y="337.63" width="7.83" height="1.76" fill="#f8f0f1" />
<rect x="298.14" y="339.34" width="7.83" height="1.76" fill="#ecebf5" />
<rect x="298.14" y="341.06" width="7.83" height="1.76" fill="#f5e3e4" />
<rect x="298.14" y="342.77" width="7.83" height="1.76" fill="#f6e6e8" />
<rect x="298.14" y="344.49" width="7.83" height="1.76" fill="#efccce" />
<rect x="305.92" y="250.20" width="7.83" height="1.76" fill="#f2f1f8" />
<rect x="305.92" y="251.91" width="7.83" height="1.76" fill="#eeedf7" />
<rect x="305.92" y="253.63" width="7.83" height="1.76" fill="#efeef7" />
<rect x="305.92" y="255.34" width="7.83" height="1.76" fill="#e7e6f3" />
<rect x="305.92" y="257.06" width="7.83" height="1.76" fill="#edecf6" />
<rect x="305.92" y="258.77" width="7.83" height="1.76" fill="#f7eaeb" />
<rect x="305.92" y="260.49" width="7.83" height="1.76" fill="#f2d6d8" />
<rect x="305.92" y="262.20" width="7.83" height="1.76" fill="#e8e7f3" />
<rect x="305.92" y="263.91" width="7.83" height="1.76" fill="#f6f5fa" />
<rect x="305.92" y="265.63" width="7.83" height="1.76" fill="#efeef7" />
<rect x="305.92" y="267.34" width="7.83" height="1.76" fill="#efeef7" />
<rect x="305.92" y="269.06" width="7.83" height="1.76" fill="#f7eced" />
<rect x="305.92" y="270.77" width="7.83" height="1.76" fill="#f8f1f2" />
<rect x="305.92" y="272.49" width="7.83" height="1.76" fill="#f7edee" />
<rect x="305.92" y="274.20" width="7.83" height="1.76" fill="#f7eaeb" />
<rect x="305.92" y="275.91" width="7.83" height="1.76" fill="#e9e8f4" />
<rect x="305.92" y="277.63" width="7.83" height="1.76" fill="#f0eff7" />
<rect x="305.92" y="279.34" width="7.83" height="1.76" fill="#cac9e5" />
<rect x="305.92" y="281.06" width="7.83" height="1.76" fill="#f0eff7" />
<rect x="305.92" y="282.77" width="7.83" height="1.76" fill="#eeedf6" />
<rect x="305.92" y="284.49" width="7.83" height="1.76" fill="#efeef7" />
<rect x="305.92" y="286.20" width="7.83" height="1.76" fill="#f4f3f9" />
<rect x="305.92" y="287.91" width="7.83" height="1.76" fill="#f6e7e8" />
<rect x="305.92" y="289.63" width="7.83" height="1.76" fill="#eeedf6" />
<rect x="305.92" y="291.34" width="7.83" height="1.76" fill="#f3f2f9" />
<rect x="305.92" y="293.06" width="7.83" height="1.76" fill="#ebbfc3" />
<rect x="305.92" y="294.77" width="7.83" height="1.76" fill="#f3dadb" />
<rect x="305.92" y="296.49" width="7.83" height="1.76" fill="#f0d0d2" />
<rect x="305.92" y="298.20" width="7.83" height="1.76" fill="#eec7ca" />
<rect x="305.92" y="299.91" width="7.83" height="1.76" fill="#f3d9db" />
<rect x="305.92" y="301.63" width="7.83" height="1.76" fill="#edecf6" />
<rect x="305.92" y="303.34" width="7.83" height="1.76" fill="#e8b5ba" />
<rect x="305.92" y="305.06" width="7.83" height="1.76" fill="#e1a0a6" />
<rect x="305.92" y="306.77" width="7.83" height="1.76" fill="#edecf6" />
<rect x="305.92" y="308.49" width="7.83" height="1.76" fill="#f4dfe1" />
<rect x="305.92" y="310.20" width="7.83" height="1.76" fill="#f2d5d7" />
<rect x="305.92" y="311.91" width="7.83" height="1.76" fill="#f3dbdd" />
<rect x="305.92" y="313.63" width="7.83" height="1.76" fill="#f3dcdd" />
<rect x="305.92" y="315.34" width="7.83" height="1.76" fill="#f5e5e6" />
<rect x="305.92" y="317.06" width="7.83" height="1.76" fill="#f8f0f1" />
<rect x="305.92" y="318.77" width="7.83" height="1.76" fill="#f8f0f1" />
<rect x="305.92" y="320.49" width="7.83" height="1.76" fill="#f1d3d5" />
<rect x="305.92" y="322.20" width="7.83" height="1.76" fill="#f6e8ea" />
<rect x="305.92" y="323.91" width="7.83" height="1.76" fill="#f0eff7" />
<rect x="305.92" y="325.63" width="7.83" height="1.76" fill="#f3d9db" />
<rect x="305.92" y="327.34" width="7.83" height="1.76" fill="#edecf6" />
<rect x="305.92" y="329.06" width="7.83" height="1.76" fill="#f9f3f4" />
<rect x="305.92" y="330.77" width="7.83" height="1.76" fill="#f8f0f2" />
<rect x="305.92" y="332.49" width="7.83" height="1.76" fill="#f4ddde" />
<rect x="305.92" y="334.20" width="7.83" height="1.76" fill="#f8f1f2" />
<rect x="305.92" y="335.91" width="7.83" height="1.76" fill="#f9f3f4" />
<rect x="305.92" y="337.63" width="7.83" height="1.76" fill="#f7ebec" />
<rect x="305.92" y="339.34" width="7.83" height="1.76" fill="#f2f1f8" />
<rect x="305.92" y="341.06" width="7.83" height="1.76" fill="#f5e4e5" />
<rect x="305.92" y="342.77" width="7.83" height="1.76" fill="#f5e4e6" />
<rect x="305.92" y="344.49" width="7.83" height="1.76" fill="#f2d5d7" />
<rect x="313.70" y="250.20" width="7.83" height="1.76" fill="#f6e9ea" />
<rect x="313.70" y="251.91" width="7.83" height="1.76" fill="#ebeaf5" />
<rect x="313.70" y="253.63" width="7.83" height="1.76" fill="#f8eeef" />
<rect x="313.70" y="255.34" width="7.83" height="1.76" fill="#ecebf6" />
<rect x="313.70" y="257.06" width="7.83" height="1.76" fill="#f4f3f9" />
<rect x="313.70" y="258.77" width="7.83" height="1.76" fill="#f6e9ea" />
<rect x="313.70" y="260.49" width="7.83" height="1.76" fill="#f3d9db" />
<rect x="313.70" y="262.20" width="7.83" height="1.76" fill="#eeedf6" />
<rect x="313.70" y="263.91" width="7.83" height="1.76" fill="#efeef7" />
<rect x="313.70" y="265.63" width="7.83" height="1.76" fill="#f9f2f3" />
<rect x="313.70" y="267.34" width="7.83" height="1.76" fill="#e9e8f4" />
<rect x="313.70" y="269.06" width="7.83" height="1.76" fill="#f5e2e3" />
<rect x="313.70" y="270.77" width="7.83" height="1.76" fill="#ebeaf5" />
<rect x="313.70" y="272.49" width="7.83" height="1.76" fill="#f6e8e9" />
<rect x="313.70" y="274.20" width="7.83" height="1.76" fill="#f7e9eb" />
<rect x="313.70" y="275.91" width="7.83" height="1.76" fill="#dfdeef" />
<rect x="313.70" y="277.63" width="7.83" height="1.76" fill="#e1e0f0" />
<rect x="313.70" y="279.34" width="7.83" height="1.76" fill="#dddcee" />
<rect x="313.70" y="281.06" width="7.83" height="1.76" fill="#dad9ed" />
<rect x="313.70" y="282.77" width="7.83" height="1.76" fill="#efeef7" />
<rect x="313.70" y="284.49" width="7.83" height="1.76" fill="#f9f2f3" />
<rect x="313.70" y="286.20" width="7.83" height="1.76" fill="#f7eaec" />
<rect x="313.70" y="287.91" width="7.83" height="1.76" fill="#f9f4f5" />
<rect x="313.70" y="289.63" width="7.83" height="1.76" fill="#e9e8f4" />
<rect x="313.70" y="291.34" width="7.83" height="1.76" fill="#f7ecee" />
<rect x="313.70" y="293.06" width="7.83" height="1.76" fill="#eecacc" />
<rect x="313.70" y="294.77" width="7.83" height="1.76" fill="#f7eced" />
<rect x="313.70" y="296.49" width="7.83" height="1.76" fill="#f1d3d5" />
<rect x="313.70" y="298.20" width="7.83" height="1.76" fill="#ebbfc2" />
<rect x="313.70" y="299.91" width="7.83" height="1.76" fill="#f3dbdc" />
<rect x="313.70" y="301.63" width="7.83" height="1.76" fill="#f4f3f9" />
<rect x="313.70" y="303.34" width="7.83" height="1.76" fill="#f0ced0" />
<rect x="313.70" y="305.06" width="7.83" height="1.76" fill="#eecacd" />
<rect x="313.70" y="306.77" width="7.83" height="1.76" fill="#e4e3f2" />
<rect x="313.70" y="308.49" width="7.83" height="1.76" fill="#f4e0e2" />
<rect x="313.70" y="310.20" width="7.83" height="1.76" fill="#f2d6d8" />
<rect x="313.70" y="311.91" width="7.83" height="1.76" fill="#f2d7d9" />
<rect x="313.70" y="313.63" width="7.83" height="1.76" fill="#f5e5e6" />
<rect x="313.70" y="315.34" width="7.83" height="1.76" fill="#f6e6e8" />
<rect x="313.70" y="317.06" width="7.83" height="1.76" fill="#f7ebec" />
<rect x="313.70" y="318.77" width="7.83" height="1.76" fill="#f5e5e7" />
<rect x="313.70" y="320.49" width="7.83" height="1.76" fill="#f0d0d2" />
<rect x="313.70" y="322.20" width="7.83" height="1.76" fill="#f7ebec" />
<rect x="313.70" y="323.91" width="7.83" height="1.76" fill="#dfdeef" />
<rect x="313.70" y="325.63" width="7.83" height="1.76" fill="#f7edee" />
<rect x="313.70" y="327.34" width="7.83" height="1.76" fill="#f8eeef" />
<rect x="313.70" y="329.06" width="7.83" height="1.76" fill="#f3f2f9" />
<rect x="313.70" y="330.77" width="7.83" height="1.76" fill="#f3dadc" />
<rect x="313.70" y="332.49" width="7.83" height="1.76" fill="#f4dfe1" />
<rect x="313.70" y="334.20" width="7.83" height="1.76" fill="#f3f2f9" />
<rect x="313.70" y="335.91" width="7.83" height="1.76" fill="#f4e0e2" />
<rect x="313.70" y="337.63" width="7.83" height="1.76" fill="#f5e5e6" />
<rect x="313.70" y="339.34" width="7.83" height="1.76" fill="#f4e1e2" />
<rect x="313.70" y="341.06" width="7.83" height="1.76" fill="#f5e2e3" />
<rect x="313.70" y="342.77" width="7.83" height="1.76" fill="#f4dfe1" />
<rect x="313.70" y="344.49" width="7.83" height="1.76" fill="#eec9cc" />
<rect x="321.48" y="250.20" width="7.83" height="1.76" fill="#f8f0f2" />
<rect x="321.48" y="251.91" width="7.83" height="1.76" fill="#edecf6" />
<rect x="321.48" y="253.63" width="7.83" height="1.76" fill="#f0eff7" />
<rect x="321.48" y="255.34" width="7.83" height="1.76" fill="#efeef7" />
<rect x="321.48" y="257.06" width="7.83" height="1.76" fill="#f3f2f9" />
<rect x="321.48" y="258.77" width="7.83" height="1.76" fill="#f8eff0" />
<rect x="321.48" y="260.49" width="7.83" height="1.76" fill="#f0ced0" />
<rect x="321.48" y="262.20" width="7.83" height="1.76" fill="#ecebf5" />
<rect x="321.48" y="263.91" width="7.83" height="1.76" fill="#f8eff1" />
<rect x="321.48" y="265.63" width="7.83" height="1.76" fill="#e8e7f4" />
<rect x="321.48" y="267.34" width="7.83" height="1.76" fill="#eae9f4" />
<rect x="321.48" y="269.06" width="7.83" height="1.76" fill="#f8eff0" />
<rect x="321.48" y="270.77" width="7.83" height="1.76" fill="#e7e6f3" />
<rect x="321.48" y="272.49" width="7.83" height="1.76" fill="#f7eced" />
<rect x="321.48" y="274.20" width="7.83" height="1.76" fill="#f7ebec" />
<rect x="321.48" y="275.91" width="7.83" height="1.76" fill="#efeef7" />
<rect x="321.48" y="277.63" width="7.83" height="1.76" fill="#f6f5fa" />
<rect x="321.48" y="279.34" width="7.83" height="1.76" fill="#dcdbee" />
<rect x="321.48" y="281.06" width="7.83" height="1.76" fill="#e5e4f2" />
<rect x="321.48" y="282.77" width="7.83" height="1.76" fill="#e4e3f1" />
<rect x="321.48" y="284.49" width="7.83" height="1.76" fill="#f0eff7" />
<rect x="321.48" y="286.20" width="7.83" height="1.76" fill="#f8f1f2" />
<rect x="321.48" y="287.91" width="7.83" height="1.76" fill="#f8f0f1" />
<rect x="321.48" y="289.63" width="7.83" height="1.76" fill="#e8e7f4" />
<rect x="321.48" y="291.34" width="7.83" height="1.76" fill="#f2d7d9" />
<rect x="321.48" y="293.06" width="7.83" height="1.76" fill="#f2d6d8" />
<rect x="321.48" y="294.77" width="7.83" height="1.76" fill="#f4dfe1" />
<rect x="321.48" y="296.49" width="7.83" height="1.76" fill="#f1d4d6" />
<rect x="321.48" y="298.20" width="7.83" height="1.76" fill="#f0ced0" />
<rect x="321.48" y="299.91" width="7.83" height="1.76" fill="#f0cdd0" />
<rect x="321.48" y="301.63" width="7.83" height="1.76" fill="#f1f0f8" />
<rect x="321.48" y="303.34" width="7.83" height="1.76" fill="#f0ced1" />
<rect x="321.48" y="305.06" width="7.83" height="1.76" fill="#ebbec1" />
<rect x="321.48" y="306.77" width="7.83" height="1.76" fill="#ebeaf5" />
<rect x="321.48" y="308.49" width="7.83" height="1.76" fill="#f8eeef" />
<rect x="321.48" y="310.20" width="7.83" height="1.76" fill="#f3dadb" />
<rect x="321.48" y="311.91" width="7.83" height="1.76" fill="#f5e1e3" />
<rect x="321.48" y="313.63" width="7.83" height="1.76" fill="#f6e7e8" />
<rect x="321.48" y="315.34" width="7.83" height="1.76" fill="#f6e7e9" />
<rect x="321.48" y="317.06" width="7.83" height="1.76" fill="#f6e6e7" />
<rect x="321.48" y="318.77" width="7.83" height="1.76" fill="#f7eaeb" />
<rect x="321.48" y="320.49" width="7.83" height="1.76" fill="#eabbbf" />
<rect x="321.48" y="322.20" width="7.83" height="1.76" fill="#f7eced" />
<rect x="321.48" y="323.91" width="7.83" height="1.76" fill="#ebeaf5" />
<rect x="321.48" y="325.63" width="7.83" height="1.76" fill="#f5e1e3" />
<rect x="321.48" y="327.34" width="7.83" height="1.76" fill="#f5f4fa" />
<rect x="321.48" y="329.06" width="7.83" height="1.76" fill="#e6e5f3" />
<rect x="321.48" y="330.77" width="7.83" height="1.76" fill="#f3f2f9" />
<rect x="321.48" y="332.49" width="7.83" height="1.76" fill="#f6e8ea" />
<rect x="321.48" y="334.20" width="7.83" height="1.76" fill="#f5e3e5" />
<rect x="321.48" y="335.91" width="7.83" height="1.76" fill="#f7edee" />
<rect x="321.48" y="337.63" width="7.83" height="1.76" fill="#f7ebec" />
<rect x="321.48" y="339.34" width="7.83" height="1.76" fill="#f9f4f5" />
<rect x="321.48" y="341.06" width="7.83" height="1.76" fill="#f4dee0" />
<rect x="321.48" y="342.77" width="7.83" height="1.76" fill="#f4dddf" />
<rect x="321.48" y="344.49" width="7.83" height="1.76" fill="#ebbec2" />
<rect x="329.26" y="250.20" width="7.83" height="1.76" fill="#d57f89" />
<rect x="329.26" y="251.91" width="7.83" height="1.76" fill="#c14b5d" />
<rect x="329.26" y="253.63" width="7.83" height="1.76" fill="#efcbce" />
<rect x="329.26" y="255.34" width="7.83" height="1.76" fill="#eabdc1" />
<rect x="329.26" y="257.06" width="7.83" height="1.76" fill="#f5f4f9" />
<rect x="329.26" y="258.77" width="7.83" height="1.76" fill="#cf6f7c" />
<rect x="329.26" y="260.49" width="7.83" height="1.76" fill="#efccce" />
<rect x="329.26" y="262.20" width="7.83" height="1.76" fill="#e8b4b9" />
<rect x="329.26" y="263.91" width="7.83" height="1.76" fill="#e2a3a8" />
<rect x="329.26" y="265.63" width="7.83" height="1.76" fill="#f2d8da" />
<rect x="329.26" y="267.34" width="7.83" height="1.76" fill="#d98b94" />
<rect x="329.26" y="269.06" width="7.83" height="1.76" fill="#e6aeb3" />
<rect x="329.26" y="270.77" width="7.83" height="1.76" fill="#f5e2e4" />
<rect x="329.26" y="272.49" width="7.83" height="1.76" fill="#db9199" />
<rect x="329.26" y="274.20" width="7.83" height="1.76" fill="#cf6e7b" />
<rect x="329.26" y="275.91" width="7.83" height="1.76" fill="#f1d3d5" />
<rect x="329.26" y="277.63" width="7.83" height="1.76" fill="#e8b6ba" />
<rect x="329.26" y="279.34" width="7.83" height="1.76" fill="#e9b7bb" />
<rect x="329.26" y="281.06" width="7.83" height="1.76" fill="#e7b3b7" />
<rect x="329.26" y="282.77" width="7.83" height="1.76" fill="#e7b1b6" />
<rect x="329.26" y="284.49" width="7.83" height="1.76" fill="#cc6876" />
<rect x="329.26" y="286.20" width="7.83" height="1.76" fill="#e2a1a7" />
<rect x="329.26" y="287.91" width="7.83" height="1.76" fill="#e09da4" />
<rect x="329.26" y="289.63" width="7.83" height="1.76" fill="#e7b2b6" />
<rect x="329.26" y="291.34" width="7.83" height="1.76" fill="#d88891" />
<rect x="329.26" y="293.06" width="7.83" height="1.76" fill="#f7ebec" />
<rect x="329.26" y="294.77" width="7.83" height="1.76" fill="#f4e0e1" />
<rect x="329.26" y="296.49" width="7.83" height="1.76" fill="#e2a3a9" />
<rect x="329.26" y="298.20" width="7.83" height="1.76" fill="#efcbce" />
<rect x="329.26" y="299.91" width="7.83" height="1.76" fill="#f2d7d9" />
<rect x="329.26" y="301.63" width="7.83" height="1.76" fill="#f0eff7" />
<rect x="329.26" y="303.34" width="7.83" height="1.76" fill="#f7edee" />
<rect x="329.26" y="305.06" width="7.83" height="1.76" fill="#f2d4d6" />
<rect x="329.26" y="306.77" width="7.83" height="1.76" fill="#ecc4c7" />
<rect x="329.26" y="308.49" width="7.83" height="1.76" fill="#eec8ca" />
<rect x="329.26" y="310.20" width="7.83" height="1.76" fill="#edc5c8" />
<rect x="329.26" y="311.91" width="7.83" height="1.76" fill="#f6e7e8" />
<rect x="329.26" y="313.63" width="7.83" height="1.76" fill="#f0cdd0" />
<rect x="329.26" y="315.34" width="7.83" height="1.76" fill="#f5e2e4" />
<rect x="329.26" y="317.06" width="7.83" height="1.76" fill="#f1d2d4" />
<rect x="329.26" y="318.77" width="7.83" height="1.76" fill="#f1d3d5" />
<rect x="329.26" y="320.49" width="7.83" height="1.76" fill="#f2d4d6" />
<rect x="329.26" y="322.20" width="7.83" height="1.76" fill="#f3dbdd" />
<rect x="329.26" y="323.91" width="7.83" height="1.76" fill="#f4e0e1" />
<rect x="329.26" y="325.63" width="7.83" height="1.76" fill="#f8eff0" />
<rect x="329.26" y="327.34" width="7.83" height="1.76" fill="#ecc3c6" />
<rect x="329.26" y="329.06" width="7.83" height="1.76" fill="#f1d3d5" />
<rect x="329.26" y="330.77" width="7.83" height="1.76" fill="#f8eeef" />
<rect x="329.26" y="332.49" width="7.83" height="1.76" fill="#f5e4e5" />
<rect x="329.26" y="334.20" width="7.83" height="1.76" fill="#f4dedf" />
<rect x="329.26" y="335.91" width="7.83" height="1.76" fill="#f8f1f2" />
<rect x="329.26" y="337.63" width="7.83" height="1.76" fill="#f2d5d7" />
<rect x="329.26" y="339.34" width="7.83" height="1.76" fill="#f6e9eb" />
<rect x="329.26" y="341.06" width="7.83" height="1.76" fill="#efcacd" />
<rect x="329.26" y="342.77" width="7.83" height="1.76" fill="#ecc1c5" />
<rect x="329.26" y="344.49" width="7.83" height="1.76" fill="#e7b1b6" />
<rect x="337.04" y="250.20" width="7.83" height="1.76" fill="#f0ced0" />
<rect x="337.04" y="251.91" width="7.83" height="1.76" fill="#e7b3b7" />
<rect x="337.04" y="253.63" width="7.83" height="1.76" fill="#f4e1e2" />
<rect x="337.04" y="255.34" width="7.83" height="1.76" fill="#d88690" />
<rect x="337.04" y="257.06" width="7.83" height="1.76" fill="#f2d6d8" />
<rect x="337.04" y="258.77" width="7.83" height="1.76" fill="#e6adb2" />
<rect x="337.04" y="260.49" width="7.83" height="1.76" fill="#f0d0d2" />
<rect x="337.04" y="262.20" width="7.83" height="1.76" fill="#e7b0b5" />
<rect x="337.04" y="263.91" width="7.83" height="1.76" fill="#d98a93" />
<rect x="337.04" y="265.63" width="7.83" height="1.76" fill="#f0eff7" />
<rect x="337.04" y="267.34" width="7.83" height="1.76" fill="#efcccf" />
<rect x="337.04" y="269.06" width="7.83" height="1.76" fill="#eabbbf" />
<rect x="337.04" y="270.77" width="7.83" height="1.76" fill="#f2d7d9" />
<rect x="337.04" y="272.49" width="7.83" height="1.76" fill="#eabdc1" />
<rect x="337.04" y="274.20" width="7.83" height="1.76" fill="#d27783" />
<rect x="337.04" y="275.91" width="7.83" height="1.76" fill="#ebbec2" />
<rect x="337.04" y="277.63" width="7.83" height="1.76" fill="#efeef7" />
<rect x="337.04" y="279.34" width="7.83" height="1.76" fill="#f0cfd2" />
<rect x="337.04" y="281.06" width="7.83" height="1.76" fill="#f7ebec" />
<rect x="337.04" y="282.77" width="7.83" height="1.76" fill="#e9b8bc" />
<rect x="337.04" y="284.49" width="7.83" height="1.76" fill="#efcbce" />
<rect x="337.04" y="286.20" width="7.83" height="1.76" fill="#f0ced0" />
<rect x="337.04" y="287.91" width="7.83" height="1.76" fill="#e09da4" />
<rect x="337.04" y="289.63" width="7.83" height="1.76" fill="#efcacd" />
<rect x="337.04" y="291.34" width="7.83" height="1.76" fill="#f2d7d9" />
<rect x="337.04" y="293.06" width="7.83" height="1.76" fill="#c0bfdf" />
<rect x="337.04" y="294.77" width="7.83" height="1.76" fill="#e7e6f3" />
<rect x="337.04" y="296.49" width="7.83" height="1.76" fill="#f5f4f9" />
<rect x="337.04" y="298.20" width="7.83" height="1.76" fill="#d7d6ec" />
<rect x="337.04" y="299.91" width="7.83" height="1.76" fill="#f7edee" />
<rect x="337.04" y="301.63" width="7.83" height="1.76" fill="#dfdeef" />
<rect x="337.04" y="303.34" width="7.83" height="1.76" fill="#dfdeef" />
<rect x="337.04" y="305.06" width="7.83" height="1.76" fill="#adacd5" />
<rect x="337.04" y="306.77" width="7.83" height="1.76" fill="#dddcee" />
<rect x="337.04" y="308.49" width="7.83" height="1.76" fill="#f0eff7" />
<rect x="337.04" y="310.20" width="7.83" height="1.76" fill="#eeedf6" />
<rect x="337.04" y="311.91" width="7.83" height="1.76" fill="#deddef" />
<rect x="337.04" y="313.63" width="7.83" height="1.76" fill="#bfbedf" />
<rect x="337.04" y="315.34" width="7.83" height="1.76" fill="#e9e8f4" />
<rect x="337.04" y="317.06" width="7.83" height="1.76" fill="#edecf6" />
<rect x="337.04" y="318.77" width="7.83" height="1.76" fill="#f2f1f8" />
<rect x="337.04" y="320.49" width="7.83" height="1.76" fill="#d2d1e9" />
<rect x="337.04" y="322.20" width="7.83" height="1.76" fill="#e0dff0" />
<rect x="337.04" y="323.91" width="7.83" height="1.76" fill="#bdbcde" />
<rect x="337.04" y="325.63" width="7.83" height="1.76" fill="#eae9f5" />
<rect x="337.04" y="327.34" width="7.83" height="1.76" fill="#d7d6ec" />
<rect x="337.04" y="329.06" width="7.83" height="1.76" fill="#e3e2f1" />
<rect x="337.04" y="330.77" width="7.83" height="1.76" fill="#dbdaee" />
<rect x="337.04" y="332.49" width="7.83" height="1.76" fill="#e8e7f3" />
<rect x="337.04" y="334.20" width="7.83" height="1.76" fill="#c0bfdf" />
<rect x="337.04" y="335.91" width="7.83" height="1.76" fill="#edecf6" />
<rect x="337.04" y="337.63" width="7.83" height="1.76" fill="#dbdaee" />
<rect x="337.04" y="339.34" width="7.83" height="1.76" fill="#afaed6" />
<rect x="337.04" y="341.06" width="7.83" height="1.76" fill="#f5f4fa" />
<rect x="337.04" y="342.77" width="7.83" height="1.76" fill="#f0eff7" />
<rect x="337.04" y="344.49" width="7.83" height="1.76" fill="#dcdbee" />
</g>
<text transform="translate(6.09,351.20) rotate(90)" x="0" y="2.27" font-size="6.30" fill="#1e1e1e" textLength="18.36" lengthAdjust="spacingAndGlyphs" stroke="#1e1e1e" stroke-width="0.2" stroke-opacity="0.45">PTCL9</text>
<text transform="translate(13.87,351.20) rotate(90)" x="0" y="2.27" font-size="6.30" fill="#1e1e1e" textLength="18.36" lengthAdjust="spacingAndGlyphs" stroke="#1e1e1e" stroke-width="0.2" stroke-opacity="0.45">PTCL3</text>
<text transform="translate(21.65,351.20) rotate(90)" x="0" y="2.27" font-size="6.30" fill="#1e1e1e" textLength="21.64" lengthAdjust="spacingAndGlyphs" stroke="#1e1e1e" stroke-width="0.2" stroke-opacity="0.45">PTCL18</text>
<text transform="translate(29.43,351.20) rotate(90)" x="0" y="2.27" font-size="6.30" fill="#1e1e1e" textLength="21.64" lengthAdjust="spacingAndGlyphs" stroke="#1e1e1e" stroke-width="0.2" stroke-opacity="0.45">PTCL20</text>
<text transform="translate(37.21,351.20) rotate(90)" x="0" y="2.27" font-size="6.30" fill="#1e1e1e" textLength="21.64" lengthAdjust="spacingAndGlyphs" stroke="#1e1e1e" stroke-width="0.2" stroke-opacity="0.45">PTCL21</text>
<text transform="translate(44.99,351.20) rotate(90)" x="0" y="2.27" font-size="6.30" fill="#1e1e1e" textLength="21.64" lengthAdjust="spacingAndGlyphs" stroke="#1e1e1e" stroke-width="0.2" stroke-opacity="0.45">PTCL14</text>
<text transform="translate(52.77,351.20) rotate(90)" x="0" y="2.27" font-size="6.30" fill="#1e1e1e" textLength="18.03" lengthAdjust="spacingAndGlyphs" stroke="#1e1e1e" stroke-width="0.2" stroke-opacity="0.45">FTCL1</text>
<text transform="translate(60.55,351.20) rotate(90)" x="0" y="2.27" font-size="6.30" fill="#1e1e1e" textLength="18.03" lengthAdjust="spacingAndGlyphs" stroke="#1e1e1e" stroke-width="0.2" stroke-opacity="0.45">FTCL4</text>
<text transform="translate(68.33,351.20) rotate(90)" x="0" y="2.27" font-size="6.30" fill="#1e1e1e" textLength="18.03" lengthAdjust="spacingAndGlyphs" stroke="#1e1e1e" stroke-width="0.2" stroke-opacity="0.45">FTCL3</text>
<text transform="translate(76.11,351.20) rotate(90)" x="0" y="2.27" font-size="6.30" fill="#1e1e1e" textLength="21.21" lengthAdjust="spacingAndGlyphs" stroke="#1e1e1e" stroke-width="0.2" stroke-opacity="0.45">PTCL11</text>
<text transform="translate(83.89,351.20) rotate(90)" x="0" y="2.27" font-size="6.30" fill="#1e1e1e" textLength="21.64" lengthAdjust="spacingAndGlyphs" stroke="#1e1e1e" stroke-width="0.2" stroke-opacity="0.45">PTCL13</text>
<text transform="translate(91.67,351.20) rotate(90)" x="0" y="2.27" font-size="6.30" fill="#8aa592" textLength="21.64" lengthAdjust="spacingAndGlyphs" stroke="#8aa592" stroke-width="0.2" stroke-opacity="0.45">PTCL17</text>
<text transform="translate(99.45,351.20) rotate(90)" x="0" y="2.27" font-size="6.30" fill="#1e1e1e" textLength="21.64" lengthAdjust="spacingAndGlyphs" stroke="#1e1e1e" stroke-width="0.2" stroke-opacity="0.45">PTCL15</text>
<text transform="translate(107.23,351.20) rotate(90)" x="0" y="2.27" font-size="6.30" fill="#1e1e1e" textLength="21.64" lengthAdjust="spacingAndGlyphs" stroke="#1e1e1e" stroke-width="0.2" stroke-opacity="0.45">PTCL23</text>
<text transform="translate(115.01,351.20) rotate(90)" x="0" y="2.27" font-size="6.30" fill="#1e1e1e" textLength="21.64" lengthAdjust="spacingAndGlyphs" stroke="#1e1e1e" stroke-width="0.2" stroke-opacity="0.45">PTCL27</text>
<text transform="translate(122.79,351.20) rotate(90)" x="0" y="2.27" font-size="6.30" fill="#1e1e1e" textLength="31.49" lengthAdjust="spacingAndGlyphs" stroke="#1e1e1e" stroke-width="0.2" stroke-opacity="0.45">PTCL_2536</text>
<text transform="translate(130.57,351.20) rotate(90)" x="0" y="2.27" font-size="6.30" fill="#1e1e1e" textLength="28.21" lengthAdjust="spacingAndGlyphs" stroke="#1e1e1e" stroke-width="0.2" stroke-opacity="0.45">PTCL_207</text>
<text transform="translate(138.35,351.20) rotate(90)" x="0" y="2.27" font-size="6.30" fill="#1e1e1e" textLength="31.49" lengthAdjust="spacingAndGlyphs" stroke="#1e1e1e" stroke-width="0.2" stroke-opacity="0.45">PTCL_4161</text>
<text transform="translate(146.13,351.20) rotate(90)" x="0" y="2.27" font-size="6.30" fill="#1e1e1e" textLength="28.21" lengthAdjust="spacingAndGlyphs" stroke="#1e1e1e" stroke-width="0.2" stroke-opacity="0.45">PTCL_805</text>
<text transform="translate(153.91,351.20) rotate(90)" x="0" y="2.27" font-size="6.30" fill="#1e1e1e" textLength="31.49" lengthAdjust="spacingAndGlyphs" stroke="#1e1e1e" stroke-width="0.2" stroke-opacity="0.45">PTCL_3890</text>
<text transform="translate(161.69,351.20) rotate(90)" x="0" y="2.27" font-size="6.30" fill="#8aa592" textLength="31.49" lengthAdjust="spacingAndGlyphs" stroke="#8aa592" stroke-width="0.2" stroke-opacity="0.45">PTCL_4248</text>
<text transform="translate(169.47,351.20) rotate(90)" x="0" y="2.27" font-size="6.30" fill="#1e1e1e" textLength="31.49" lengthAdjust="spacingAndGlyphs" stroke="#1e1e1e" stroke-width="0.2" stroke-opacity="0.45">PTCL_3795</text>
<text transform="translate(177.25,351.20) rotate(90)" x="0" y="2.27" font-size="6.30" fill="#1e1e1e" textLength="31.49" lengthAdjust="spacingAndGlyphs" stroke="#1e1e1e" stroke-width="0.2" stroke-opacity="0.45">PTCL_4665</text>
<text transform="translate(185.03,351.20) rotate(90)" x="0" y="2.27" font-size="6.30" fill="#8aa592" textLength="18.36" lengthAdjust="spacingAndGlyphs" stroke="#8aa592" stroke-width="0.2" stroke-opacity="0.45">PTCL1</text>
<text transform="translate(192.81,351.20) rotate(90)" x="0" y="2.27" font-size="6.30" fill="#1e1e1e" textLength="21.64" lengthAdjust="spacingAndGlyphs" stroke="#1e1e1e" stroke-width="0.2" stroke-opacity="0.45">PTCL22</text>
<text transform="translate(200.59,351.20) rotate(90)" x="0" y="2.27" font-size="6.30" fill="#8aa592" textLength="21.64" lengthAdjust="spacingAndGlyphs" stroke="#8aa592" stroke-width="0.2" stroke-opacity="0.45">PTCL16</text>
<text transform="translate(208.37,351.20) rotate(90)" x="0" y="2.27" font-size="6.30" fill="#8aa592" textLength="21.64" lengthAdjust="spacingAndGlyphs" stroke="#8aa592" stroke-width="0.2" stroke-opacity="0.45">PTCL19</text>
<text transform="translate(216.15,351.20) rotate(90)" x="0" y="2.27" font-size="6.30" fill="#1e1e1e" textLength="31.81" lengthAdjust="spacingAndGlyphs" stroke="#1e1e1e" stroke-width="0.2" stroke-opacity="0.45">PTCL_020T</text>
<text transform="translate(223.93,351.20) rotate(90)" x="0" y="2.27" font-size="6.30" fill="#1e1e1e" textLength="31.49" lengthAdjust="spacingAndGlyphs" stroke="#1e1e1e" stroke-width="0.2" stroke-opacity="0.45">PTCL_4123</text>
<text transform="translate(231.71,351.20) rotate(90)" x="0" y="2.27" font-size="6.30" fill="#1e1e1e" textLength="31.49" lengthAdjust="spacingAndGlyphs" stroke="#1e1e1e" stroke-width="0.2" stroke-opacity="0.45">PTCL_2842</text>
<text transform="translate(239.49,351.20) rotate(90)" x="0" y="2.27" font-size="6.30" fill="#1e1e1e" textLength="31.49" lengthAdjust="spacingAndGlyphs" stroke="#1e1e1e" stroke-width="0.2" stroke-opacity="0.45">PTCL_2426</text>
<text transform="translate(247.27,351.20) rotate(90)" x="0" y="2.27" font-size="6.30" fill="#1e1e1e" textLength="31.49" lengthAdjust="spacingAndGlyphs" stroke="#1e1e1e" stroke-width="0.2" stroke-opacity="0.45">PTCL_2406</text>
<text transform="translate(255.05,351.20) rotate(90)" x="0" y="2.27" font-size="6.30" fill="#1e1e1e" textLength="31.49" lengthAdjust="spacingAndGlyphs" stroke="#1e1e1e" stroke-width="0.2" stroke-opacity="0.45">PTCL_4040</text>
<text transform="translate(262.83,351.20) rotate(90)" x="0" y="2.27" font-size="6.30" fill="#1e1e1e" textLength="21.64" lengthAdjust="spacingAndGlyphs" stroke="#1e1e1e" stroke-width="0.2" stroke-opacity="0.45">PTCL26</text>
<text transform="translate(270.61,351.20) rotate(90)" x="0" y="2.27" font-size="6.30" fill="#8aa592" textLength="21.64" lengthAdjust="spacingAndGlyphs" stroke="#8aa592" stroke-width="0.2" stroke-opacity="0.45">PTCL28</text>
<text transform="translate(278.39,351.20) rotate(90)" x="0" y="2.27" font-size="6.30" fill="#1e1e1e" textLength="21.64" lengthAdjust="spacingAndGlyphs" stroke="#1e1e1e" stroke-width="0.2" stroke-opacity="0.45">PTCL25</text>
<text transform="translate(286.17,351.20) rotate(90)" x="0" y="2.27" font-size="6.30" fill="#1e1e1e" textLength="21.64" lengthAdjust="spacingAndGlyphs" stroke="#1e1e1e" stroke-width="0.2" stroke-opacity="0.45">PTCL29</text>
<text transform="translate(293.95,351.20) rotate(90)" x="0" y="2.27" font-size="6.30" fill="#1e1e1e" textLength="18.36" lengthAdjust="spacingAndGlyphs" stroke="#1e1e1e" stroke-width="0.2" stroke-opacity="0.45">PTCL7</text>
<text transform="translate(301.73,351.20) rotate(90)" x="0" y="2.27" font-size="6.30" fill="#1e1e1e" textLength="21.64" lengthAdjust="spacingAndGlyphs" stroke="#1e1e1e" stroke-width="0.2" stroke-opacity="0.45">PTCL30</text>
<text transform="translate(309.51,351.20) rotate(90)" x="0" y="2.27" font-size="6.30" fill="#1e1e1e" textLength="21.64" lengthAdjust="spacingAndGlyphs" stroke="#1e1e1e" stroke-width="0.2" stroke-opacity="0.45">PTCL12</text>
<text transform="translate(317.29,351.20) rotate(90)" x="0" y="2.27" font-size="6.30" fill="#1e1e1e" textLength="18.36" lengthAdjust="spacingAndGlyphs" stroke="#1e1e1e" stroke-width="0.2" stroke-opacity="0.45">PTCL2</text>
<text transform="translate(325.07,351.20) rotate(90)" x="0" y="2.27" font-size="6.30" fill="#1e1e1e" textLength="18.36" lengthAdjust="spacingAndGlyphs" stroke="#1e1e1e" stroke-width="0.2" stroke-opacity="0.45">PTCL5</text>
<text transform="translate(332.85,351.20) rotate(90)" x="0" y="2.27" font-size="6.30" fill="#1e1e1e" textLength="28.21" lengthAdjust="spacingAndGlyphs" stroke="#1e1e1e" stroke-width="0.2" stroke-opacity="0.45">PTCL_337</text>
<text transform="translate(340.63,351.20) rotate(90)" x="0" y="2.27" font-size="6.30" fill="#8aa592" textLength="31.49" lengthAdjust="spacingAndGlyphs" stroke="#8aa592" stroke-width="0.2" stroke-opacity="0.45">PTCL_2705</text>
<text transform="translate(351.80,299.20) rotate(90)" x="0" y="2.52" font-size="7.00" text-anchor="middle" textLength="53.70" lengthAdjust="spacingAndGlyphs" stroke="#2b2b2b" stroke-width="0.2" stroke-opacity="0.45">MYC target genes</text>
<defs><linearGradient id="hk" x1="0" x2="0" y1="0" y2="1"><stop offset="0" stop-color="#8f1a2e"/><stop offset="0.25" stop-color="#c66070"/><stop offset="0.5" stop-color="#ffffff"/><stop offset="0.75" stop-color="#6c6cb0"/><stop offset="1" stop-color="#1c1c62"/></linearGradient></defs>
<rect x="362.40" y="313.50" width="3.90" height="34.00" fill="url(#hk)" />
<text x="369.60" y="319.27" font-size="6.30" stroke="#2b2b2b" stroke-width="0.2" stroke-opacity="0.45">High</text>
<text x="369.60" y="346.27" font-size="6.30" stroke="#2b2b2b" stroke-width="0.2" stroke-opacity="0.45">Low</text>
<text x="60.20" y="401.00" font-size="6.40" textLength="42.70" lengthAdjust="spacingAndGlyphs" stroke="#2b2b2b" stroke-width="0.2" stroke-opacity="0.45">MYC signature</text>
<rect x="60.20" y="403.60" width="7.70" height="9.00" fill="#bdbcc2" />
<rect x="60.20" y="412.60" width="7.70" height="8.80" fill="#1f5a3c" />
<text x="70.60" y="410.50" font-size="6.40" stroke="#2b2b2b" stroke-width="0.2" stroke-opacity="0.45">Low</text>
<text x="70.60" y="419.80" font-size="6.40" stroke="#2b2b2b" stroke-width="0.2" stroke-opacity="0.45">High</text>
<text x="59.40" y="431.50" font-size="6.40" stroke="#2b2b2b" stroke-width="0.2" stroke-opacity="0.45">Origin</text>
<rect x="59.60" y="435.00" width="8.10" height="8.60" fill="#a9c6ee" />
<rect x="59.60" y="443.60" width="8.10" height="9.20" fill="#5a92da" />
<text x="69.80" y="441.90" font-size="6.40" stroke="#2b2b2b" stroke-width="0.2" stroke-opacity="0.45">Leuven</text>
<text x="69.80" y="451.10" font-size="6.40" stroke="#2b2b2b" stroke-width="0.2" stroke-opacity="0.45">Kyoto</text>
<text x="122.80" y="400.60" font-size="6.40" textLength="40.00" lengthAdjust="spacingAndGlyphs" stroke="#2b2b2b" stroke-width="0.2" stroke-opacity="0.45">PTCL subtype</text>
<rect x="122.80" y="403.50" width="8.00" height="9.10" fill="#d2d8a7" />
<rect x="122.80" y="412.60" width="8.00" height="8.90" fill="#a9bb72" />
<rect x="122.80" y="421.50" width="8.00" height="8.90" fill="#7a927b" />
<rect x="122.80" y="430.40" width="8.00" height="9.40" fill="#2e3a4d" />
<text x="132.90" y="410.50" font-size="6.40" stroke="#2b2b2b" stroke-width="0.2" stroke-opacity="0.45">ALCL</text>
<text x="132.90" y="419.90" font-size="6.40" stroke="#2b2b2b" stroke-width="0.2" stroke-opacity="0.45">FTCL</text>
<text x="132.90" y="428.60" font-size="6.40" stroke="#2b2b2b" stroke-width="0.2" stroke-opacity="0.45">PTCL–NOS</text>
<text x="132.90" y="438.10" font-size="6.40" stroke="#2b2b2b" stroke-width="0.2" stroke-opacity="0.45">PTCL–NOS,</text>
<text x="132.90" y="446.10" font-size="6.40" stroke="#2b2b2b" stroke-width="0.2" stroke-opacity="0.45">Lennert</text>
<text x="181.20" y="399.86" font-size="6.00" textLength="68.40" lengthAdjust="spacingAndGlyphs" stroke="#2b2b2b" stroke-width="0.2" stroke-opacity="0.45">MYC/MYB(L1/2)/MYCN</text>
<rect x="181.20" y="403.10" width="8.70" height="9.20" fill="#bab8c2" />
<rect x="181.20" y="412.30" width="8.70" height="9.20" fill="#aba1dc" />
<rect x="181.20" y="421.50" width="8.70" height="9.80" fill="#7f6fc2" />
<rect x="181.8" y="434.6" width="7.6" height="7.6" fill="#fff" stroke="#c0304f" stroke-width="1"/>
<rect x="181.8" y="444.2" width="7.6" height="7.6" fill="#fff" stroke="#3a3e68" stroke-width="1"/>
<text x="191.90" y="410.00" font-size="6.40" stroke="#2b2b2b" stroke-width="0.2" stroke-opacity="0.45">Low</text>
<text x="191.90" y="420.00" font-size="6.40" textLength="57.70" lengthAdjust="spacingAndGlyphs" stroke="#2b2b2b" stroke-width="0.2" stroke-opacity="0.45">&gt; mean + 0.75 x SD</text>
<text x="191.90" y="430.00" font-size="6.40" stroke="#2b2b2b" stroke-width="0.2" stroke-opacity="0.45">&gt; mean + 1 x SD</text>
<text x="191.90" y="440.80" font-size="6.40" textLength="56.10" lengthAdjust="spacingAndGlyphs" stroke="#2b2b2b" stroke-width="0.2" stroke-opacity="0.45">Uniparental disomy</text>
<text x="191.90" y="450.50" font-size="6.40" stroke="#2b2b2b" stroke-width="0.2" stroke-opacity="0.45">Low level gain</text>
<text x="271.40" y="399.63" font-size="6.20" textLength="43.80" lengthAdjust="spacingAndGlyphs" stroke="#2b2b2b" stroke-width="0.2" stroke-opacity="0.45">TP53/CDKN2A</text>
<rect x="270.80" y="402.80" width="8.00" height="8.70" fill="#bbb8c4" />
<rect x="270.80" y="411.50" width="8.00" height="9.20" fill="#22306e" />
<rect x="270.80" y="420.70" width="8.00" height="9.00" fill="#c2146d" />
<text x="280.90" y="409.50" font-size="6.40" textLength="35.00" lengthAdjust="spacingAndGlyphs" stroke="#2b2b2b" stroke-width="0.2" stroke-opacity="0.45">No changes</text>
<text x="280.90" y="418.50" font-size="6.40" stroke="#2b2b2b" stroke-width="0.2" stroke-opacity="0.45">Deletion</text>
<text x="280.90" y="427.60" font-size="6.40" stroke="#2b2b2b" stroke-width="0.2" stroke-opacity="0.45">Mutation</text>
</svg></body></html>
